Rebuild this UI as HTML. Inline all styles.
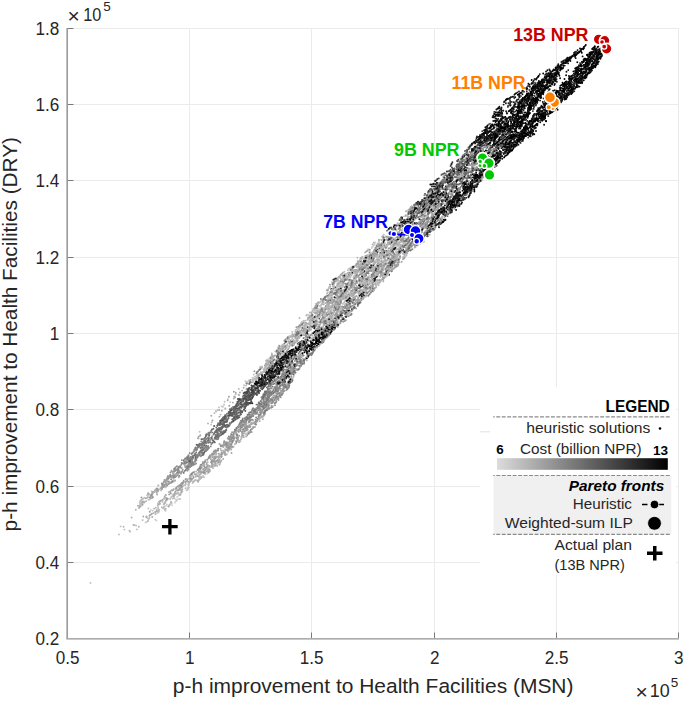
<!DOCTYPE html><html><head><meta charset="utf-8"><style>html,body{margin:0;padding:0;background:#fff;}svg{display:block} text{font-family:'Liberation Sans',sans-serif}</style></head><body>
<svg width="685" height="701" viewBox="0 0 685 701">
<rect width="685" height="701" fill="#fff"/>
<path d="M189.5 28V638M311.5 28V638M434.5 28V638M556.5 28V638M678.5 28V638M68 28.5H678M68 104.5H678M68 180.5H678M68 257.5H678M68 333.5H678M68 409.5H678M68 486.5H678M68 562.5H678" stroke="#ebebeb" stroke-width="1" fill="none"/>
<defs><filter id="bl" x="0" y="0" width="685" height="701" filterUnits="userSpaceOnUse"><feGaussianBlur stdDeviation="0.45"/></filter></defs><g stroke-width="1.9" stroke-linecap="round" fill="none" filter="url(#bl)"><path d="M174.9 502.8h0M177.2 499.8h0M391.2 247.9h0M316.2 317.0h0" stroke="#d8d8d8"/>
<path d="M202.7 477.1h0M373.0 246.6h0M268.6 359.2h0M396.6 253.5h0M379.0 241.7h0M337.9 305.0h0M352.4 266.4h0M205.0 469.6h0M348.4 290.5h0M223.7 450.6h0M170.0 499.2h0M299.2 327.9h0M164.2 507.4h0M349.0 289.1h0M355.2 275.1h0M352.2 273.8h0M258.5 374.8h0M367.7 278.3h0M266.0 360.5h0M314.8 320.0h0M378.2 258.9h0M373.4 253.4h0M351.6 267.1h0M277.6 353.1h0M268.0 367.1h0M374.7 244.3h0M386.4 255.2h0M312.9 321.9h0M152.2 516.8h0M338.4 290.8h0M313.9 320.3h0M310.6 321.1h0M306.3 328.7h0M291.4 342.0h0M164.7 506.3h0M172.1 505.2h0M383.3 245.0h0M376.4 245.5h0" stroke="#cccccc"/>
<path d="M312.7 320.8h0M344.8 307.2h0M335.9 297.8h0M147.9 521.0h0M152.7 497.1h0M353.1 287.4h0M377.2 260.0h0M310.3 322.5h0M402.6 248.6h0M328.0 304.5h0M392.1 262.2h0M292.5 355.1h0M345.0 295.6h0M330.2 310.7h0M351.4 280.1h0M424.3 213.7h0M407.8 240.4h0M324.0 319.4h0M376.5 276.9h0M384.0 276.7h0M378.3 259.6h0M367.0 282.1h0M354.0 278.6h0M135.0 525.3h0M262.4 372.6h0M323.5 312.4h0M375.5 261.8h0M289.6 346.7h0M417.1 244.5h0M382.2 267.3h0M374.5 268.3h0M395.6 257.8h0M393.9 264.3h0M317.3 323.6h0M324.5 308.2h0M396.6 253.8h0M336.0 324.7h0M330.6 298.3h0M325.6 314.6h0M356.9 282.9h0M339.1 297.2h0M280.9 370.9h0M276.5 352.0h0M364.9 252.6h0M351.1 275.5h0M350.8 288.5h0M420.2 243.7h0M278.5 371.4h0M380.1 257.3h0M378.8 282.7h0M279.6 346.2h0M282.0 345.3h0M413.6 224.3h0M321.9 303.5h0M266.6 366.6h0M341.5 291.7h0M331.0 314.7h0M294.9 354.4h0M404.4 227.2h0M146.6 522.1h0M363.9 283.6h0M152.7 510.6h0M296.9 329.2h0M368.1 277.5h0M364.7 281.1h0M359.6 291.8h0M396.4 241.0h0M388.6 251.7h0M347.3 279.0h0M324.4 315.5h0M334.6 278.7h0M384.5 237.9h0M155.3 490.9h0M286.9 338.7h0M376.9 284.3h0M267.2 368.4h0M380.6 256.2h0M359.4 264.2h0M165.2 509.3h0M203.2 469.2h0M347.1 294.6h0M388.8 237.9h0M347.5 273.6h0M386.3 255.5h0M382.9 247.5h0M294.4 350.1h0M188.6 485.6h0M381.3 264.0h0M344.4 306.5h0M382.4 245.7h0M200.2 435.8h0M394.5 263.7h0M377.1 244.5h0M342.3 307.0h0M140.9 504.3h0M390.6 244.1h0M362.6 264.6h0M219.0 407.5h0M406.7 230.4h0M322.6 316.7h0M192.6 483.1h0M290.7 336.0h0M378.0 255.0h0M335.9 281.7h0M308.4 333.9h0M259.8 374.2h0M412.4 231.4h0M307.3 338.0h0M404.4 254.5h0M430.2 207.0h0M373.2 273.1h0M200.0 474.2h0M157.9 490.6h0M299.2 334.0h0M334.7 288.0h0M330.4 324.1h0M426.4 223.7h0M306.1 327.3h0M156.6 490.9h0M173.4 496.1h0M267.4 362.0h0M299.5 325.0h0M354.1 286.1h0M305.3 328.6h0M407.0 251.3h0M384.3 263.5h0M350.6 277.0h0M390.2 233.8h0M386.0 239.8h0M351.0 287.6h0M342.5 280.2h0M355.5 293.2h0M365.0 276.4h0M180.5 494.0h0M329.6 318.9h0M208.7 469.2h0M432.3 225.1h0M328.8 307.3h0M431.5 226.6h0M397.0 255.0h0M314.7 308.2h0M328.0 318.8h0M303.7 321.1h0M356.2 287.5h0M348.3 302.3h0M270.0 361.0h0M399.2 251.1h0M389.4 255.7h0M419.2 223.5h0M329.7 325.0h0M393.2 260.9h0M268.7 366.7h0M391.9 235.6h0M410.6 222.6h0M388.7 258.5h0M392.7 244.5h0M384.1 243.8h0M202.3 477.1h0M379.6 256.9h0M209.5 467.6h0M309.8 318.8h0M130.2 531.7h0M323.0 322.1h0M338.0 280.2h0M377.1 276.1h0M350.6 281.0h0M300.9 325.6h0M359.1 279.8h0M225.2 453.8h0M342.5 279.6h0M221.2 457.0h0M383.5 262.5h0M381.1 259.1h0M389.1 236.9h0M278.5 348.8h0M297.3 330.8h0M331.1 302.4h0M366.6 268.2h0M343.2 290.2h0M396.6 256.6h0M272.6 358.7h0M391.5 262.9h0" stroke="#c0c0c0"/>
<path d="M416.4 239.2h0M350.3 310.9h0M286.1 360.4h0M316.3 340.0h0M270.4 358.8h0M195.2 480.0h0M305.4 326.4h0M161.6 489.0h0M326.7 319.3h0M392.7 237.2h0M361.7 283.3h0M390.5 258.1h0M279.3 374.4h0M406.9 248.2h0M321.8 332.1h0M354.7 266.4h0M319.5 332.3h0M395.6 244.5h0M309.2 318.1h0M361.0 283.8h0M358.2 270.2h0M323.5 323.8h0M369.2 250.4h0M155.2 511.6h0M348.7 272.4h0M287.5 338.2h0M380.5 281.7h0M300.9 335.2h0M309.2 329.2h0M319.7 336.5h0M370.0 275.9h0M411.6 237.3h0M180.9 490.1h0M390.2 258.0h0M155.9 507.8h0M142.2 502.7h0M372.8 290.9h0M265.3 367.3h0M305.6 339.8h0M234.0 439.1h0M349.4 276.7h0M380.7 252.9h0M349.0 285.6h0M383.4 239.3h0M196.3 471.6h0M365.5 267.5h0M371.7 269.8h0M345.3 295.9h0M143.0 498.8h0M168.8 492.1h0M384.2 247.0h0M335.2 328.2h0M412.4 240.7h0M179.0 487.7h0M282.0 369.7h0M451.6 211.3h0M417.8 237.4h0M409.8 243.7h0M397.8 241.5h0M190.5 481.2h0M301.2 330.8h0M250.4 424.7h0M397.9 238.8h0M349.3 313.3h0M172.6 490.6h0M375.4 273.9h0M434.3 213.5h0M364.0 274.7h0M259.7 374.4h0M362.5 256.7h0M351.8 274.8h0M410.7 238.3h0M188.9 484.2h0M341.6 280.4h0M354.9 278.4h0M281.8 370.1h0M353.3 267.8h0M304.2 330.5h0M312.5 333.3h0M181.9 487.6h0M308.8 329.6h0M151.5 513.7h0M292.1 337.9h0M322.1 312.1h0M409.5 219.8h0M306.0 322.6h0M394.4 233.4h0M365.3 283.3h0M280.4 354.6h0M342.4 279.5h0M277.9 375.0h0M397.1 239.4h0M327.5 302.2h0M383.2 280.2h0M164.9 502.8h0M250.2 382.1h0M257.4 377.4h0M360.3 268.4h0M328.3 297.3h0M373.1 285.3h0M275.6 376.7h0M323.2 317.4h0M391.4 233.9h0M310.4 320.2h0M360.8 268.3h0M341.5 280.1h0M353.0 293.1h0M264.8 368.8h0M194.4 471.8h0M363.1 277.0h0M362.1 282.2h0M284.6 381.7h0M340.0 281.9h0M324.8 328.5h0M346.8 314.7h0M375.5 261.7h0M282.2 346.4h0M469.8 168.6h0M387.4 253.4h0M340.6 286.0h0M293.6 357.7h0M210.3 466.5h0M292.5 343.0h0M330.2 330.3h0M300.8 363.6h0M344.1 278.4h0M318.8 303.0h0M203.8 472.1h0M453.7 190.4h0M385.4 260.4h0M362.1 271.6h0M332.0 295.5h0M327.2 299.9h0M159.1 501.9h0M346.1 286.8h0M345.9 311.5h0M451.0 193.2h0M280.3 351.5h0M338.4 299.8h0M248.2 432.6h0M318.6 324.9h0M216.9 456.8h0M319.7 311.5h0M199.8 474.6h0M348.6 295.1h0M215.5 462.8h0M441.9 219.9h0M177.8 489.8h0M214.4 454.6h0M316.1 303.8h0M300.0 351.3h0M328.1 303.3h0M161.1 490.4h0M205.0 473.6h0M336.0 305.7h0M339.0 277.0h0M176.9 489.9h0M341.4 287.0h0M410.7 218.4h0M341.5 297.8h0M393.1 253.4h0M152.4 517.0h0M339.5 306.9h0M314.7 332.7h0M423.1 215.7h0M151.8 491.5h0M385.4 251.4h0M332.1 289.6h0M201.1 473.7h0M317.5 313.3h0M366.8 267.6h0M421.5 224.5h0M358.5 266.1h0M479.8 165.0h0M377.8 252.1h0M390.7 267.1h0M386.3 254.5h0M241.9 436.2h0M346.0 314.8h0M338.1 302.7h0M292.1 336.4h0M400.8 245.7h0M358.2 276.9h0M318.1 308.9h0M404.3 246.0h0M182.3 491.6h0M339.6 288.6h0M173.9 494.3h0M337.0 280.8h0M356.3 264.0h0M330.8 308.9h0M333.7 310.6h0M306.9 333.6h0M385.5 257.6h0M392.2 229.7h0M357.7 272.3h0M282.5 368.2h0M283.6 367.9h0M373.3 270.7h0M318.0 310.6h0M404.0 258.3h0M159.8 503.5h0M357.0 271.8h0M254.9 378.6h0M425.5 224.4h0M157.7 510.9h0M337.5 318.4h0M325.9 307.8h0M338.8 284.6h0M407.2 230.2h0M311.5 319.2h0M295.7 356.6h0M418.8 242.6h0M347.4 285.5h0M332.6 316.4h0M357.2 273.6h0M213.4 464.6h0M359.0 269.1h0M342.2 295.4h0M324.9 316.4h0M411.7 206.2h0M334.5 306.3h0M353.3 292.2h0M316.8 339.0h0M367.3 250.7h0M372.4 279.8h0M378.0 269.9h0M305.9 326.3h0M383.1 267.0h0M387.9 244.7h0M366.9 289.1h0M387.8 254.8h0M288.5 370.8h0M207.8 462.1h0M219.9 456.0h0M348.6 293.5h0M397.7 259.7h0M372.4 283.2h0M334.0 329.3h0M356.8 267.3h0M275.3 351.4h0" stroke="#b4b4b4"/>
<path d="M316.9 333.3h0M414.9 227.8h0M325.8 328.3h0M395.0 235.6h0M237.3 441.1h0M258.2 375.4h0M343.9 292.0h0M371.2 282.9h0M388.1 272.5h0M424.8 232.5h0M354.8 307.1h0M363.3 294.6h0M324.8 312.2h0M341.6 285.9h0M294.9 365.7h0M200.2 435.3h0M177.1 486.7h0M210.4 457.4h0M330.1 286.5h0M424.3 223.7h0M324.5 321.2h0M391.3 269.8h0M461.0 174.9h0M198.2 480.8h0M419.4 234.2h0M427.3 225.2h0M206.7 463.3h0M435.0 202.8h0M394.2 247.4h0M353.5 271.7h0M473.9 186.6h0M246.9 435.2h0M337.2 314.2h0M333.4 292.9h0M251.8 432.1h0M338.2 293.0h0M394.3 253.4h0M403.4 231.1h0M355.6 288.7h0M259.2 418.2h0M318.5 331.0h0M334.2 283.7h0M407.2 246.9h0M415.2 242.0h0M395.4 258.7h0M311.4 315.8h0M212.0 465.0h0M176.4 488.4h0M376.9 274.3h0M328.7 321.4h0M359.0 270.1h0M208.3 467.4h0M438.5 207.5h0M256.1 380.8h0M389.2 255.7h0M316.6 321.8h0M320.2 334.9h0M237.6 435.0h0M381.4 275.4h0M331.4 327.3h0M304.9 345.6h0M366.9 265.7h0M315.5 323.1h0M302.6 340.7h0M172.4 490.2h0M344.3 291.7h0M435.0 228.8h0M277.4 390.8h0M324.4 320.6h0M335.3 281.2h0M458.5 178.7h0M405.9 227.6h0M312.1 317.0h0M312.0 326.7h0M182.2 471.5h0M403.9 228.0h0M355.3 296.8h0M456.6 188.9h0M229.0 439.3h0M317.9 322.3h0M316.9 321.3h0M323.2 318.7h0M321.5 328.8h0M230.0 448.7h0M395.7 240.2h0M388.2 266.3h0M164.5 486.2h0M156.7 492.8h0M221.7 456.0h0M245.4 425.6h0M298.7 363.2h0M214.4 461.3h0M394.5 254.7h0M374.2 264.4h0M460.3 189.4h0M381.1 275.4h0M185.3 467.6h0M216.5 453.8h0M345.9 293.4h0M211.3 415.8h0M347.4 307.4h0M229.9 446.6h0M298.5 369.5h0M321.8 315.0h0M460.3 167.6h0M317.1 326.2h0M283.9 352.8h0M382.4 270.4h0M284.5 377.7h0M415.3 235.8h0M165.8 500.9h0M438.5 214.4h0M393.2 241.4h0M360.1 284.6h0M347.0 284.4h0M242.8 433.6h0M173.8 489.1h0M365.2 296.4h0M357.2 282.7h0M192.1 474.9h0M300.1 330.7h0M402.4 226.6h0M375.6 267.5h0M423.8 218.1h0M268.8 402.8h0M435.1 218.6h0M296.7 356.3h0M396.2 256.0h0M288.2 386.0h0M340.8 316.5h0M337.1 312.9h0M353.3 286.9h0M363.5 268.9h0M437.8 215.4h0M279.8 380.8h0M433.6 208.0h0M193.6 476.3h0M401.7 261.7h0M147.4 495.4h0M354.6 285.0h0M312.1 338.5h0M302.7 348.4h0M439.3 196.0h0M224.1 444.7h0M408.3 239.3h0M284.4 390.8h0M365.7 252.1h0M326.5 325.6h0M374.2 272.0h0M418.8 234.9h0M430.6 228.7h0M361.5 296.1h0M315.9 332.6h0M166.5 483.9h0M349.1 285.1h0M167.0 499.7h0M379.9 272.3h0M236.8 433.8h0M390.0 259.5h0M463.9 178.3h0M434.0 229.4h0M316.9 308.4h0M206.5 464.5h0M344.0 291.0h0M140.5 506.4h0M307.9 318.5h0M162.7 484.0h0M318.5 302.4h0M352.3 272.8h0M226.2 446.5h0M399.6 253.6h0M479.3 160.9h0M367.2 255.6h0M318.5 330.8h0M227.5 444.6h0M293.0 342.2h0M428.0 231.9h0M319.1 326.6h0M421.9 213.9h0M289.8 341.4h0M358.0 262.5h0M182.4 482.7h0M447.1 195.5h0M378.2 280.4h0M461.6 173.4h0M264.5 371.7h0M250.7 380.0h0M290.8 371.1h0M314.1 312.5h0M316.6 319.1h0M247.3 383.5h0M325.3 314.6h0M371.1 287.4h0M366.5 282.2h0M321.7 304.5h0M449.2 189.3h0M354.1 294.2h0M216.2 460.9h0M289.2 346.9h0M272.1 400.6h0M260.9 372.3h0M274.9 396.2h0M322.5 334.4h0M413.9 244.8h0M261.8 367.2h0M408.1 247.9h0M351.6 270.5h0M146.4 517.2h0M445.3 191.5h0M343.1 310.0h0M212.5 466.6h0M348.9 303.8h0M309.5 320.6h0M306.7 325.5h0M207.4 468.1h0M211.0 462.1h0M352.7 297.9h0M327.7 336.8h0M289.9 363.2h0M438.5 196.6h0M438.9 206.5h0M330.9 290.7h0M394.1 260.7h0M337.8 279.0h0M282.8 374.3h0M365.7 295.8h0M264.2 415.0h0M330.2 302.1h0M199.4 475.0h0M436.4 201.8h0M300.8 361.7h0M345.5 312.8h0M293.3 344.3h0M372.4 286.2h0M286.5 375.8h0M354.9 289.2h0M347.0 305.7h0M437.7 220.4h0M295.8 359.1h0M330.2 307.0h0M398.6 234.9h0M164.7 502.5h0M486.9 172.7h0M377.3 279.8h0M289.5 364.0h0M211.8 454.9h0M394.5 258.7h0M223.2 446.7h0M310.1 321.0h0M256.5 378.7h0M299.1 336.6h0M300.0 367.2h0M390.9 253.1h0M182.2 483.1h0M294.1 364.7h0M283.1 347.5h0M346.6 303.6h0M317.5 331.4h0M355.0 296.5h0M297.5 330.9h0M363.3 294.4h0M396.1 261.2h0" stroke="#a8a8a8"/>
<path d="M390.5 237.4h0M316.4 329.3h0M452.3 172.0h0M216.5 457.2h0M331.6 330.7h0M343.1 312.9h0M468.3 160.2h0M150.5 496.1h0M380.5 276.5h0M142.6 504.6h0M365.4 255.9h0M439.4 206.4h0M449.3 186.8h0M373.5 288.6h0M244.1 424.7h0M439.7 190.3h0M299.6 362.3h0M182.0 471.4h0M452.1 195.9h0M459.4 177.9h0M151.4 495.4h0M270.4 401.6h0M228.9 396.7h0M422.9 242.0h0M241.1 422.8h0M393.0 241.7h0M351.1 306.5h0M488.9 159.7h0M398.6 254.1h0M342.6 308.5h0M174.8 476.3h0M392.3 269.4h0M445.8 190.5h0M266.5 391.4h0M455.1 188.0h0M374.9 279.8h0M454.8 181.4h0M425.6 232.4h0M200.0 472.0h0M274.5 380.8h0M220.5 455.1h0M222.6 453.8h0M393.9 227.9h0M413.2 220.0h0M392.5 258.6h0M422.1 221.6h0M329.0 335.4h0M230.2 445.6h0M204.8 445.1h0M382.1 279.2h0M445.2 197.0h0M356.9 302.6h0M476.1 153.1h0M212.2 463.0h0M363.4 298.7h0M335.1 324.4h0M383.4 242.9h0M198.8 468.5h0M369.7 257.9h0M398.5 228.9h0M152.8 492.5h0M264.1 412.4h0M148.0 493.2h0M268.4 408.1h0M215.8 451.7h0M191.0 459.8h0M208.9 470.9h0M400.4 225.7h0M376.4 276.5h0M464.1 159.4h0M201.2 449.8h0M169.0 481.5h0M337.5 317.0h0M414.3 222.6h0M255.5 411.3h0M353.7 306.4h0M411.7 242.2h0M244.1 433.1h0M247.5 427.0h0M462.6 163.9h0M202.4 448.6h0M214.8 461.1h0M349.4 305.6h0M372.0 287.1h0M240.2 431.0h0M474.0 167.1h0M421.3 237.1h0M363.7 275.6h0M369.4 291.0h0M168.0 481.7h0M336.4 300.9h0M316.5 316.6h0M460.0 178.8h0M277.8 358.7h0M334.7 315.5h0M321.8 335.2h0M421.7 221.6h0M472.3 156.6h0M246.0 424.6h0M409.3 210.7h0M371.0 285.8h0M260.4 406.4h0M201.3 467.8h0M264.2 408.4h0M366.3 264.3h0M438.7 191.7h0M230.1 448.0h0M249.8 417.8h0M337.1 320.4h0M420.6 221.0h0M352.3 302.1h0M167.0 478.4h0M436.0 217.4h0M283.9 350.3h0M248.7 427.1h0M266.6 398.0h0M450.9 174.1h0M243.1 431.4h0M247.7 419.4h0M407.8 248.7h0M370.2 289.9h0M209.5 469.5h0M399.1 232.0h0M226.4 444.9h0M354.8 303.8h0M435.7 227.1h0M309.1 317.5h0M415.1 207.5h0M481.5 180.7h0M289.2 364.5h0M349.3 307.9h0M359.0 261.1h0M188.6 481.8h0M174.4 469.5h0M244.7 424.3h0M242.2 429.6h0M397.7 265.7h0M256.3 410.1h0M428.0 211.6h0M354.9 298.2h0M261.7 412.9h0M438.5 214.9h0M281.7 391.3h0M230.6 436.8h0M280.2 390.1h0M226.7 443.9h0M307.9 334.4h0M261.6 416.9h0M247.0 435.3h0M238.1 427.0h0M212.4 460.9h0M374.0 280.5h0M228.2 438.8h0M292.2 340.6h0M454.4 208.9h0M239.9 429.8h0M220.6 445.7h0M291.9 370.6h0M440.3 198.4h0M230.7 439.6h0M364.7 274.9h0M213.1 454.3h0M436.1 215.6h0" stroke="#9c9c9c"/>
<path d="M360.0 277.7h0M253.1 414.4h0M331.4 298.1h0M199.3 445.2h0M344.8 321.0h0M288.3 341.7h0M277.2 389.0h0M199.8 467.1h0M244.3 421.1h0M356.9 290.0h0M180.4 467.6h0M416.1 241.5h0M358.8 302.3h0M178.1 468.6h0M275.8 396.4h0M250.4 420.4h0M430.2 221.6h0M365.2 265.1h0M352.6 309.1h0M267.7 389.6h0M274.7 392.0h0M276.8 379.7h0M300.9 366.0h0M457.8 190.9h0M205.3 440.7h0M383.5 257.4h0M326.0 322.9h0M293.0 339.6h0M284.9 362.6h0M313.5 351.6h0M393.2 252.7h0M174.8 471.1h0M448.6 193.2h0M221.2 446.3h0M439.5 186.5h0M345.6 291.5h0M473.4 162.3h0M172.1 475.4h0M166.4 498.2h0M286.6 360.4h0M322.3 308.7h0M342.7 312.9h0M258.2 410.3h0M196.4 460.4h0M337.3 311.1h0M196.3 450.6h0M177.4 470.3h0M443.8 191.9h0M360.1 301.0h0M191.8 465.8h0M233.6 435.0h0M350.0 301.5h0M263.1 406.9h0M266.8 401.4h0M427.0 227.3h0M192.9 463.5h0M394.1 243.9h0M271.7 381.1h0M201.6 467.2h0M423.2 226.5h0M192.7 463.9h0M271.5 393.5h0M200.9 456.2h0M432.1 194.9h0M293.8 343.2h0M429.8 196.6h0M238.2 437.6h0M264.0 405.0h0M252.0 423.7h0M288.9 358.0h0M276.3 390.1h0M260.3 410.4h0M245.0 418.2h0M308.8 353.5h0M211.8 437.7h0M268.7 396.8h0M257.7 406.9h0M288.3 385.3h0M427.6 214.9h0M297.2 359.9h0M451.4 173.2h0M188.8 467.6h0M451.4 184.3h0M179.4 472.6h0M261.0 404.2h0M238.2 431.0h0M277.0 387.1h0M232.0 442.4h0M392.0 242.4h0M336.5 318.7h0M259.2 414.9h0M411.4 227.8h0M261.6 411.8h0M268.7 407.0h0M206.7 467.6h0M298.3 332.1h0M266.0 402.4h0M406.1 241.4h0M245.9 430.6h0M300.5 363.9h0M173.1 473.6h0M228.1 443.6h0M349.5 307.7h0M466.7 157.4h0M258.1 407.6h0M198.6 446.4h0M473.4 170.4h0M246.7 428.8h0M410.7 229.1h0M470.8 156.9h0M382.8 252.9h0M290.0 374.5h0M184.6 463.5h0M166.1 480.7h0M152.1 494.6h0M349.8 307.4h0M257.1 408.7h0M277.3 394.4h0M329.5 322.4h0M167.3 485.3h0M446.2 191.3h0M377.4 267.3h0M348.1 309.9h0M339.5 288.4h0M205.2 470.1h0M231.7 438.5h0M419.0 242.0h0M337.0 290.7h0M485.8 147.3h0M271.5 388.4h0M459.0 190.1h0M396.0 240.3h0M439.6 189.0h0M162.5 486.1h0M457.5 190.1h0M267.8 362.4h0M206.5 438.8h0M326.6 315.6h0M196.0 456.5h0M306.1 358.4h0M275.6 398.1h0M353.1 285.2h0M249.9 427.1h0M275.6 387.7h0M341.4 319.9h0M251.1 415.8h0M265.8 404.1h0M246.6 426.8h0M337.4 305.1h0M236.8 428.4h0M468.8 177.5h0M390.9 260.3h0M434.5 196.3h0M220.9 445.1h0M274.0 381.1h0M219.7 431.6h0M340.7 302.5h0M486.6 148.3h0M366.6 261.7h0M470.9 175.1h0M178.3 473.5h0M445.5 195.0h0M175.3 477.0h0M431.4 195.7h0M337.8 325.2h0M347.1 310.7h0M206.9 450.3h0M394.5 267.7h0M260.4 405.1h0M332.8 320.2h0M474.5 164.9h0M239.9 429.1h0M161.7 487.1h0M289.0 387.2h0M202.2 455.0h0M323.1 326.6h0M327.4 324.8h0M484.3 159.1h0M379.3 272.2h0M261.1 406.8h0" stroke="#909090"/>
<path d="M226.1 427.2h0M278.7 382.8h0M370.9 277.2h0M458.4 177.9h0M378.9 246.1h0M241.0 420.8h0M301.2 365.4h0M192.0 453.1h0M353.3 292.3h0M476.4 167.2h0M161.9 483.5h0M335.3 304.0h0M477.2 150.1h0M414.0 231.9h0M366.4 258.4h0M285.9 339.3h0M450.2 186.3h0M226.2 442.2h0M265.5 401.3h0M304.0 363.7h0M414.0 213.9h0M451.3 197.0h0M415.2 208.9h0M234.6 431.2h0M282.7 373.5h0M372.2 274.5h0M274.5 399.4h0M267.1 398.0h0M366.1 275.5h0M440.2 203.6h0M263.4 399.8h0M422.3 208.7h0M270.0 395.3h0M375.2 249.2h0M394.3 235.7h0M338.2 308.2h0M377.6 260.9h0M278.6 396.9h0M269.7 400.9h0M351.3 282.9h0M334.2 281.8h0M190.5 465.6h0M477.8 164.1h0M199.9 451.4h0M207.7 448.8h0M188.6 461.5h0M289.9 364.0h0M449.4 200.9h0M355.8 290.6h0M264.5 396.9h0M361.2 285.2h0M354.2 266.3h0M187.1 468.8h0M407.6 226.2h0M176.9 466.3h0M278.0 383.9h0M315.8 335.3h0M386.3 267.9h0M403.5 251.7h0M285.2 386.0h0M348.5 278.0h0M290.1 373.6h0M241.9 425.3h0M193.4 455.7h0M384.2 244.9h0M467.9 153.1h0M420.9 226.1h0M426.0 215.6h0M202.7 449.1h0M276.1 388.2h0M487.1 147.6h0M237.2 401.9h0M376.4 248.0h0M252.5 409.2h0M217.7 429.2h0M337.3 310.1h0M335.3 301.6h0M245.5 427.8h0M199.1 455.1h0M436.1 207.3h0M222.0 423.8h0M284.1 384.5h0M476.2 150.9h0M409.2 222.8h0M328.1 325.4h0M343.3 277.6h0M373.9 252.7h0M365.8 285.9h0M420.0 224.1h0M403.7 233.4h0M412.1 224.0h0M424.3 225.6h0M305.4 333.7h0M240.9 425.1h0M435.0 208.4h0M194.9 450.2h0M286.6 370.0h0M391.5 250.9h0M284.8 383.9h0M234.1 432.3h0M478.8 166.2h0M207.7 448.0h0M270.4 391.0h0M335.6 280.2h0M319.7 337.4h0M360.0 266.8h0M459.4 176.8h0M376.0 287.3h0M282.9 391.8h0M341.9 299.4h0M395.6 241.5h0M335.0 318.4h0M195.0 453.5h0M259.3 406.0h0M197.2 445.0h0M218.2 438.7h0M483.3 148.1h0M272.8 393.5h0M264.6 412.0h0M391.3 236.4h0M395.9 234.3h0M304.3 325.7h0M229.9 424.8h0M232.0 435.7h0M298.4 326.7h0M256.1 417.5h0M394.8 226.2h0M328.3 327.3h0M252.0 410.5h0M266.5 402.8h0M384.2 264.8h0M334.7 304.7h0M492.1 153.3h0M258.5 414.4h0M291.2 372.6h0" stroke="#848484"/>
<path d="M456.4 174.0h0M418.6 223.8h0M264.3 401.4h0M256.5 404.6h0M400.1 218.9h0M379.1 256.7h0M337.2 295.6h0M225.8 426.3h0M252.7 379.5h0M304.2 362.3h0M200.7 444.1h0M266.6 409.8h0M360.1 285.4h0M492.5 147.4h0M399.5 235.7h0M404.1 232.1h0M416.9 229.2h0M432.2 215.5h0M378.7 257.6h0M204.3 445.4h0M304.9 342.5h0M289.4 376.8h0M296.6 332.4h0M353.5 305.7h0M200.5 447.4h0M329.1 294.8h0M292.8 335.4h0M419.4 209.5h0M305.5 330.8h0M476.2 148.7h0M337.1 315.0h0M307.0 330.0h0M420.1 209.6h0M291.2 379.1h0M220.3 420.9h0M273.0 362.9h0M443.2 179.4h0M411.3 244.7h0M476.1 168.8h0M268.4 404.7h0M288.0 388.3h0M424.6 220.6h0M364.5 267.4h0M382.5 247.3h0M355.5 276.7h0M222.3 427.4h0M270.5 383.8h0M491.3 146.1h0M358.8 299.7h0M326.8 332.0h0M416.3 208.7h0M368.6 271.8h0M303.1 342.6h0M215.3 451.3h0M206.0 449.7h0M216.3 431.5h0M240.5 426.9h0M340.7 295.2h0M327.6 308.1h0M258.2 371.3h0M214.8 437.7h0M417.9 228.1h0M279.1 348.0h0M188.7 465.4h0M413.3 216.0h0M297.5 331.0h0M401.6 216.9h0M283.6 374.5h0M225.2 430.7h0M465.6 182.3h0M267.3 408.5h0M267.4 396.1h0M338.9 310.3h0M379.9 264.2h0M432.0 189.3h0M273.4 356.9h0M330.6 324.1h0M334.1 311.5h0M418.5 212.0h0M249.6 418.6h0M348.5 279.8h0M459.6 165.7h0M266.0 391.5h0M227.1 421.2h0M470.5 171.4h0M429.9 197.1h0M395.4 261.0h0M251.3 412.0h0M393.2 231.2h0M475.2 163.0h0M420.7 208.9h0M234.2 420.6h0M460.6 165.0h0M361.7 258.6h0M289.6 373.0h0M445.3 188.3h0M455.1 176.9h0M294.1 368.0h0M227.1 425.8h0M320.6 336.3h0M435.8 203.8h0M283.3 381.5h0M282.2 367.6h0M435.0 227.3h0M481.1 165.2h0M242.8 400.9h0M478.2 168.3h0M457.4 206.4h0M434.1 228.5h0M484.8 154.7h0M431.9 198.8h0M337.7 309.4h0M351.7 281.8h0M208.4 438.1h0M284.5 343.6h0M323.9 331.9h0M253.1 413.2h0M205.3 447.3h0M408.6 248.5h0M283.3 385.7h0M197.2 449.5h0M185.1 458.4h0M336.7 292.8h0M465.2 172.9h0M320.9 299.0h0M332.2 291.8h0M284.2 381.7h0M341.0 301.0h0M428.5 213.0h0M208.3 446.1h0M389.6 243.7h0M200.0 454.9h0M403.7 220.0h0M326.5 308.9h0M474.7 149.3h0M270.2 386.5h0M222.0 428.1h0M252.5 419.7h0M350.4 283.8h0M342.1 282.5h0M246.1 396.5h0M373.9 290.0h0M221.3 433.5h0M220.7 435.0h0" stroke="#787878"/>
<path d="M346.0 316.8h0M290.7 382.2h0M332.6 312.6h0M427.7 217.4h0M457.1 205.7h0M233.2 409.0h0M320.3 306.3h0M238.1 412.9h0M408.8 219.2h0M469.7 151.8h0M230.7 415.2h0M272.4 386.6h0M239.2 409.9h0M466.4 172.6h0M431.5 193.0h0M337.4 298.8h0M463.1 178.9h0M213.4 440.7h0M368.3 278.7h0M434.0 196.2h0M400.9 217.6h0M237.9 405.5h0M379.1 265.6h0M273.8 364.1h0M214.3 442.0h0M216.2 435.9h0M468.2 171.4h0M221.8 434.2h0M221.0 433.6h0M498.9 147.2h0M345.9 278.0h0M478.7 151.9h0M234.4 413.8h0M209.6 434.1h0M430.0 218.0h0M488.2 152.6h0M225.5 426.5h0M347.2 305.5h0M261.7 404.4h0M207.6 441.3h0M359.4 303.0h0M265.1 393.9h0M220.0 428.3h0M479.9 157.9h0M236.7 406.8h0M218.6 423.6h0M199.5 443.6h0M237.4 418.5h0M242.0 401.5h0M196.6 444.8h0M332.6 326.0h0M331.4 313.9h0M217.8 437.3h0M304.3 360.0h0M219.0 429.4h0M468.6 161.7h0M361.3 294.6h0M300.4 332.1h0M428.4 208.8h0M389.0 265.8h0M252.9 386.4h0M191.3 458.5h0M478.1 153.2h0M228.3 426.4h0M199.0 445.6h0M447.0 202.4h0M456.9 166.2h0M236.1 411.1h0M220.1 434.7h0M496.3 148.4h0M426.2 202.7h0M281.5 382.4h0M230.4 410.2h0M455.2 183.2h0M281.4 346.8h0M386.3 254.9h0M338.9 298.8h0M292.9 372.2h0M196.9 455.8h0M361.8 277.5h0M457.5 175.3h0M265.3 402.1h0M476.5 156.2h0M412.5 241.6h0M392.4 231.8h0M300.9 346.1h0M333.2 294.0h0M330.0 293.7h0M205.0 437.6h0M488.6 151.0h0M372.6 286.8h0M396.4 260.4h0M190.5 459.7h0M272.3 391.5h0M282.8 380.2h0M411.8 226.3h0M398.4 262.1h0M284.6 376.2h0M487.2 154.0h0M465.3 153.6h0M221.8 421.9h0M334.3 293.7h0M498.1 147.9h0M375.0 251.9h0M243.4 421.2h0M452.5 194.7h0M333.9 311.2h0M464.0 176.4h0M268.1 386.7h0M361.2 260.1h0M311.5 326.6h0M375.7 270.8h0M366.2 292.7h0M398.7 228.6h0M491.8 154.0h0M227.8 426.8h0M215.0 437.6h0M373.2 290.9h0M463.2 164.2h0M336.9 307.1h0M275.4 379.9h0M277.4 372.1h0M353.9 281.4h0M385.8 261.3h0M249.7 412.5h0M468.4 196.6h0" stroke="#6c6c6c"/>
<path d="M504.4 133.2h0M465.4 161.4h0M446.9 214.1h0M244.7 399.1h0M443.1 185.1h0M225.3 416.1h0M233.2 421.3h0M204.1 438.7h0M428.8 228.4h0M447.9 201.9h0M454.4 168.5h0M223.6 423.1h0M256.5 373.2h0M298.6 342.9h0M429.4 219.0h0M221.9 428.0h0M409.3 227.3h0M229.7 423.1h0M448.4 213.5h0M428.1 218.0h0M508.5 136.6h0M461.1 171.0h0M264.3 395.2h0M427.6 195.9h0M464.6 154.3h0M239.1 408.2h0M449.6 186.0h0M471.6 149.0h0M293.4 351.0h0M218.4 429.1h0M288.8 383.9h0M223.5 425.6h0M429.9 227.6h0M470.3 191.2h0M422.8 199.8h0M391.7 271.3h0M460.7 163.1h0M230.8 412.8h0M515.8 141.5h0M485.8 143.7h0M240.2 404.4h0M241.5 407.8h0M434.5 226.2h0M423.9 219.4h0M239.3 408.8h0M515.3 135.0h0M254.0 393.7h0M494.0 151.0h0M269.8 393.0h0M222.0 421.5h0M501.8 135.1h0M222.4 426.2h0M227.4 424.8h0M464.1 155.3h0M436.1 188.1h0M228.4 418.3h0M225.4 422.0h0M427.0 204.1h0M389.9 227.8h0M206.4 434.2h0M472.1 164.3h0M232.8 413.2h0M441.4 174.9h0M487.0 142.0h0" stroke="#606060"/>
<path d="M230.4 410.9h0M430.7 189.0h0M244.1 406.7h0M237.4 405.8h0M297.7 343.8h0M418.5 203.0h0M252.4 396.0h0M429.7 189.5h0M466.0 172.9h0M244.2 395.7h0M413.4 210.9h0M230.0 409.1h0M235.9 417.4h0M257.5 392.7h0M229.9 411.5h0M236.9 405.7h0M455.0 186.2h0M206.3 445.9h0M465.0 151.0h0M454.4 184.3h0M493.5 151.4h0M423.5 200.8h0M293.5 352.0h0M496.8 156.1h0M485.9 166.3h0M220.9 428.6h0M459.9 163.0h0M504.0 144.0h0M232.8 412.6h0M474.1 173.9h0M242.6 405.5h0M235.4 416.7h0M242.2 406.0h0M468.6 184.4h0M234.8 416.9h0M433.2 205.9h0M463.3 198.5h0M249.1 396.9h0M484.4 145.0h0M232.9 409.4h0M497.7 152.3h0M463.3 199.6h0M237.9 408.4h0M487.5 130.5h0M447.6 181.3h0M447.1 179.8h0M481.0 173.2h0M502.2 134.1h0M273.4 376.6h0M245.0 404.4h0M459.9 199.0h0M488.7 124.4h0M416.9 215.8h0M279.2 361.8h0M390.4 233.8h0M457.9 184.4h0M233.6 411.8h0M439.1 189.9h0M254.2 392.0h0M450.4 174.2h0M431.0 220.6h0M441.7 209.4h0M425.5 198.8h0M440.5 184.7h0M430.9 227.6h0M222.0 434.1h0M243.4 395.6h0M250.1 396.5h0M422.2 201.2h0M259.0 393.2h0" stroke="#545454"/>
<path d="M280.5 370.4h0M247.7 400.0h0M259.2 386.5h0M451.6 174.8h0M491.6 135.7h0M409.7 212.1h0M280.8 370.4h0M485.2 166.5h0M516.1 135.3h0M554.0 78.4h0M453.3 170.7h0M432.5 196.9h0M263.6 387.1h0M255.0 387.2h0M273.3 377.3h0M486.2 145.5h0M500.9 139.5h0M477.0 145.5h0M253.3 392.0h0M548.2 100.2h0M428.3 191.7h0M482.5 136.8h0M487.6 135.1h0M502.1 130.7h0M278.9 364.2h0M510.6 105.3h0M452.0 177.3h0M464.5 167.9h0M257.4 384.3h0M476.6 186.1h0M490.0 123.7h0M252.4 393.6h0M249.7 402.9h0M278.4 358.5h0M264.5 385.7h0M263.7 384.6h0M282.2 365.4h0M463.2 196.2h0M251.0 398.1h0M255.6 387.9h0M522.4 90.9h0M493.4 133.2h0M450.7 210.3h0M532.0 122.5h0M488.0 140.4h0M293.5 355.0h0M236.6 408.4h0M471.1 152.6h0M273.0 368.6h0M508.2 133.2h0M247.0 392.3h0M502.5 141.0h0M248.6 397.9h0M253.2 396.4h0" stroke="#484848"/>
<path d="M488.3 144.0h0M270.3 381.0h0M530.8 99.0h0M468.3 191.4h0M508.8 135.3h0M281.0 367.1h0M442.9 180.8h0M586.3 76.5h0M260.4 382.4h0M256.3 385.2h0M549.1 83.6h0M283.0 364.4h0M491.6 131.8h0M484.0 136.4h0M542.4 108.0h0M472.9 150.1h0M483.0 137.2h0M461.4 171.0h0M469.3 148.1h0M529.4 89.7h0M451.4 180.1h0M257.3 383.9h0M494.8 132.2h0M291.3 358.3h0M584.8 66.5h0M448.5 176.3h0M494.6 136.9h0M474.1 178.2h0M548.0 86.2h0M449.6 175.4h0M569.5 58.1h0M253.7 385.6h0M456.3 172.3h0M454.6 169.5h0M498.0 160.4h0M443.1 222.0h0M356.9 289.2h0M572.4 82.1h0M518.3 108.8h0M452.7 179.1h0M550.0 99.8h0M454.7 172.9h0M495.8 135.8h0M510.7 140.9h0M496.2 132.8h0M494.1 140.7h0" stroke="#3c3c3c"/>
<path d="M259.8 380.7h0M571.9 84.4h0M373.2 279.5h0M465.1 163.6h0M321.6 339.5h0M501.6 114.9h0M380.5 247.8h0M251.9 390.5h0M551.0 101.6h0M258.5 378.8h0M519.2 134.2h0M285.8 361.4h0M511.7 138.8h0M538.2 110.5h0M511.9 109.8h0M437.4 179.0h0M458.3 159.7h0M264.6 381.4h0M598.2 49.9h0M534.3 127.1h0M260.1 382.4h0M287.5 367.0h0M588.4 63.0h0M356.1 270.7h0M513.2 108.8h0M378.7 249.2h0M468.7 189.1h0M451.0 174.7h0M485.1 130.5h0M577.8 72.7h0M552.5 106.3h0M400.9 251.8h0M392.6 233.3h0M510.3 133.0h0M559.7 95.2h0M248.4 403.4h0M466.2 162.8h0M515.4 117.3h0M229.6 414.2h0M479.5 139.1h0M269.0 382.3h0M273.4 375.0h0M493.3 137.6h0M329.6 318.0h0M255.9 383.7h0M391.0 227.4h0M521.6 133.1h0M581.8 72.8h0M331.0 328.2h0M261.4 379.5h0M560.9 102.3h0M277.7 369.8h0M377.5 251.6h0M573.1 84.1h0M338.7 318.5h0" stroke="#303030"/>
<path d="M529.5 99.2h0M561.7 99.2h0M596.6 48.4h0M375.4 254.3h0M512.5 108.1h0M544.9 79.5h0M410.2 224.1h0M410.8 222.5h0M300.1 333.4h0M442.1 187.9h0M588.2 65.1h0M441.0 186.4h0M448.7 201.8h0M374.7 255.6h0M466.3 189.9h0M463.7 193.4h0M466.6 194.5h0M512.3 146.0h0M547.9 104.7h0M406.6 239.3h0M465.6 190.2h0M538.2 76.7h0M262.3 381.5h0M545.4 78.1h0M414.4 230.0h0M413.7 217.6h0M532.9 111.1h0M561.2 102.2h0M278.0 368.9h0M361.1 285.0h0M543.3 94.2h0M492.2 147.2h0M517.5 119.1h0M564.7 60.1h0M515.3 106.5h0M530.9 95.6h0M391.2 263.9h0M307.8 327.0h0M517.1 120.4h0M457.0 169.3h0M528.2 114.9h0M530.1 109.9h0M390.6 236.9h0M547.1 86.6h0M486.2 129.9h0M490.0 145.2h0M521.5 106.7h0M546.3 114.3h0M252.3 403.2h0M315.6 326.0h0M493.8 144.1h0M363.9 262.8h0M263.4 385.2h0M354.5 307.5h0M520.1 118.3h0M429.0 205.8h0M550.6 77.9h0M337.2 303.3h0M329.8 331.9h0" stroke="#242424"/>
<path d="M517.7 119.6h0M589.9 62.9h0M495.6 115.2h0M505.2 119.8h0M427.2 236.1h0M470.2 187.5h0M541.9 91.8h0M389.1 274.7h0M558.4 103.2h0M499.3 161.4h0M517.3 133.5h0M362.5 279.0h0M322.7 336.1h0M432.9 192.8h0M413.8 211.2h0M488.9 167.0h0M513.2 125.3h0M463.7 193.1h0M331.1 317.2h0M291.3 356.1h0M508.7 128.7h0M532.8 86.7h0M488.9 128.2h0M498.5 155.6h0M501.0 144.4h0M531.4 132.2h0M519.0 91.4h0M534.5 119.6h0M597.9 64.1h0M494.3 111.9h0M455.6 183.2h0M538.1 86.7h0M433.5 219.4h0M419.6 234.4h0M285.6 372.9h0M455.1 199.8h0M363.0 295.4h0M419.4 231.1h0M521.6 105.6h0M499.0 128.2h0M434.0 184.4h0M532.3 132.1h0M557.7 109.7h0M594.8 61.9h0M516.1 141.9h0M556.5 79.2h0M500.7 119.7h0M453.0 169.0h0M438.6 211.3h0M282.2 357.5h0M479.9 141.8h0M261.7 378.0h0M531.1 93.8h0M491.4 133.0h0M515.1 144.9h0M581.5 79.6h0M507.5 123.6h0M418.6 235.7h0M386.4 274.3h0M543.7 109.2h0M585.6 67.2h0M506.3 119.3h0M383.3 274.4h0M449.9 177.3h0M286.1 362.0h0M556.8 69.5h0M466.4 191.8h0M535.6 120.6h0M461.1 196.3h0M476.8 141.3h0M476.1 142.2h0M464.6 182.1h0M277.0 368.7h0M458.3 202.5h0M382.5 243.3h0M273.8 377.6h0M430.9 205.1h0M483.9 133.2h0M560.1 89.6h0M505.7 131.8h0M493.1 133.1h0M501.5 113.3h0M433.5 229.8h0M484.5 151.7h0M400.9 251.0h0M443.7 207.5h0M601.9 54.1h0M444.6 194.9h0M483.9 167.7h0M402.9 225.9h0M521.3 134.8h0M268.0 379.1h0M527.7 104.8h0M585.7 66.8h0M514.5 126.0h0M464.1 194.3h0M467.8 190.8h0M560.1 70.6h0M437.3 193.1h0M418.7 235.1h0M529.6 132.5h0M279.1 360.7h0M281.0 366.9h0M271.5 377.3h0M259.6 383.3h0M456.7 198.1h0M518.8 135.6h0M455.9 197.1h0M500.7 152.2h0M273.4 365.4h0M278.0 370.2h0M482.9 171.0h0M460.3 179.6h0M438.6 198.1h0M303.3 348.2h0M429.7 231.2h0M516.0 135.8h0M428.1 231.8h0M276.9 361.8h0M542.8 110.7h0M440.8 209.0h0M502.7 134.6h0M521.9 111.9h0M559.1 90.9h0M481.3 168.0h0M420.8 233.8h0M448.8 203.2h0M593.6 62.7h0M494.9 120.8h0M428.9 231.8h0M536.3 87.7h0M427.1 228.6h0M473.9 160.4h0M484.6 138.4h0M464.9 187.8h0M476.1 181.4h0M557.6 65.6h0M598.2 52.4h0M557.8 103.1h0M287.8 362.3h0M459.6 180.5h0M556.4 72.1h0M365.5 280.9h0M521.0 103.0h0M349.4 310.4h0M458.7 193.1h0M480.7 172.8h0M466.9 159.9h0M480.6 140.8h0M516.7 134.7h0M282.4 363.1h0M479.5 158.5h0M471.3 175.3h0M466.9 154.8h0M264.3 384.3h0M508.5 146.5h0M479.5 173.2h0M263.2 383.4h0M594.1 61.6h0M482.5 141.4h0M436.4 216.7h0M536.8 113.6h0M461.3 159.2h0M456.7 201.0h0M497.5 112.4h0M550.7 80.0h0M411.6 215.6h0M493.9 142.9h0M298.8 353.5h0M482.8 137.8h0" stroke="#181818"/>
<path d="M284.3 366.3h0M593.0 56.9h0M362.2 286.1h0M570.4 61.0h0M439.5 212.7h0M317.2 335.9h0M322.5 335.4h0M587.2 62.7h0M497.3 129.0h0M511.2 138.4h0M530.0 94.1h0M275.9 374.8h0M528.8 132.4h0M465.9 187.5h0M584.6 73.1h0M482.6 136.9h0M482.5 134.0h0M515.8 131.0h0M309.1 350.8h0M503.1 110.6h0M307.4 352.8h0M576.9 75.2h0M531.8 124.3h0M307.7 347.1h0M574.0 85.0h0M413.0 231.7h0M471.8 185.7h0M493.7 151.3h0M563.3 90.4h0M470.5 182.8h0M530.9 92.9h0M493.2 117.4h0M363.1 262.4h0M525.8 133.5h0M582.1 75.5h0M581.8 72.2h0M519.4 141.8h0M264.8 385.6h0M538.9 93.9h0M528.5 105.5h0M530.4 134.6h0M327.2 333.8h0M528.1 134.5h0M531.8 106.0h0M458.0 172.3h0M510.6 125.2h0M495.7 158.5h0M542.2 93.6h0M482.3 175.0h0M524.0 136.7h0M567.0 97.3h0M385.4 251.6h0M433.1 201.2h0M530.7 94.8h0M560.5 69.6h0M499.7 120.6h0M549.6 111.2h0M532.8 103.5h0M536.2 92.4h0M536.9 93.2h0M320.2 334.0h0M580.9 75.6h0M560.2 98.4h0M549.5 73.3h0M501.2 118.8h0M557.4 96.6h0M507.7 149.1h0M576.4 80.2h0M417.5 229.5h0M528.3 101.4h0M494.7 139.0h0M489.0 170.1h0M329.0 333.9h0M573.6 87.9h0M400.5 225.1h0M462.4 171.5h0M576.7 83.9h0M564.7 89.8h0M567.7 94.8h0M588.1 65.8h0M510.5 121.0h0M532.0 94.3h0M513.2 137.1h0M288.8 359.1h0M532.1 83.5h0M313.5 344.3h0M424.4 198.3h0M527.2 127.4h0M535.1 86.6h0M335.8 287.4h0M524.3 136.7h0M600.7 50.6h0M542.0 90.7h0M558.8 92.3h0M566.4 96.1h0M593.8 51.4h0M484.1 174.1h0M471.6 191.1h0M546.2 107.4h0M568.3 70.1h0M569.1 58.1h0M459.2 205.2h0M531.5 98.5h0M483.7 169.0h0M543.7 90.1h0M526.9 133.5h0M487.9 137.9h0M338.3 324.7h0M528.5 124.2h0M444.5 211.4h0M502.9 149.4h0M459.6 198.2h0M563.9 96.7h0M541.4 91.9h0M529.9 124.0h0M486.4 129.2h0M563.7 96.5h0M495.4 116.4h0M475.7 161.4h0M532.7 134.7h0M520.1 110.7h0M561.9 96.3h0M283.0 379.6h0M597.0 55.5h0M574.3 86.0h0M502.8 142.9h0M444.9 215.2h0M493.8 141.6h0M580.1 79.2h0M564.6 62.5h0M520.8 134.0h0M496.7 132.9h0M543.0 114.5h0M496.6 148.9h0M495.2 150.9h0M454.1 202.2h0M300.5 346.9h0M582.3 74.1h0M271.8 373.0h0M523.8 118.6h0M515.6 128.9h0M562.8 84.3h0M489.5 164.2h0M584.3 59.6h0M538.2 108.1h0M498.8 131.2h0M290.3 351.7h0M584.7 77.2h0M524.5 133.7h0M415.3 208.5h0M570.3 57.6h0M308.4 330.7h0M548.9 113.9h0M285.2 362.4h0M546.8 84.6h0M520.9 126.8h0M541.6 113.2h0M312.0 345.3h0M282.7 365.2h0M585.6 67.7h0M526.1 131.1h0M554.3 77.9h0M546.8 102.4h0M550.1 74.7h0M488.3 165.3h0M528.0 112.3h0M517.3 107.0h0M536.4 91.1h0M270.6 378.4h0M597.7 57.8h0M563.3 97.1h0M417.1 214.6h0M315.9 341.9h0M432.7 201.3h0M462.4 178.0h0M592.3 48.7h0M501.9 135.9h0M387.7 274.2h0M429.9 227.8h0M563.4 61.9h0M476.5 138.0h0M472.4 168.0h0M578.3 67.9h0M454.7 196.4h0M554.1 101.2h0M550.5 78.1h0M427.8 211.3h0M496.2 153.8h0M548.7 75.8h0M526.0 119.4h0M509.2 151.4h0M279.5 373.1h0M439.7 210.9h0M275.0 372.3h0M542.6 115.2h0M517.7 122.7h0M540.0 92.3h0M576.4 87.0h0M492.2 164.8h0M528.9 105.1h0M441.7 222.9h0M433.9 216.8h0M505.4 117.0h0M486.9 134.7h0M498.9 108.4h0M535.3 87.8h0M440.3 213.4h0M500.4 129.2h0M364.0 295.4h0M454.7 204.0h0M566.1 86.0h0M539.4 110.5h0M533.7 105.3h0M466.0 192.7h0M446.3 211.4h0M564.8 99.5h0M575.1 68.4h0M589.6 52.7h0M544.6 105.4h0M410.7 233.4h0M531.9 126.5h0M465.4 188.2h0M571.5 91.4h0M578.2 86.1h0M551.9 80.9h0M569.3 93.7h0M469.6 195.3h0M391.7 232.6h0M442.4 208.0h0M494.0 156.0h0M518.3 135.9h0M399.9 235.0h0M600.7 50.3h0M316.7 340.6h0M325.0 331.5h0M461.4 203.7h0M438.0 188.6h0M516.4 121.7h0M585.3 72.4h0M481.3 134.6h0M540.7 114.7h0M437.1 217.6h0M339.5 316.7h0M403.2 249.8h0M309.9 346.4h0M514.4 131.6h0M552.5 103.9h0M595.3 67.3h0M527.2 113.2h0M543.3 92.9h0M278.6 356.7h0M571.0 78.9h0M561.2 67.8h0M450.2 179.5h0M586.2 75.6h0M451.3 207.3h0M589.4 63.9h0M498.0 141.7h0M489.5 131.3h0M495.9 154.3h0M547.7 98.9h0M268.8 370.3h0M570.0 76.4h0M489.2 137.2h0M552.1 108.3h0M479.7 145.5h0M508.9 126.1h0M308.8 345.6h0M490.4 148.6h0M479.8 157.0h0M285.7 360.8h0M539.6 117.5h0M490.6 127.7h0M537.2 88.7h0M529.7 122.4h0M288.0 358.1h0M498.3 131.4h0M555.7 77.7h0M263.5 384.1h0M284.9 366.1h0M580.8 83.0h0M579.5 86.6h0M519.2 136.4h0M462.3 182.3h0M520.7 139.5h0M489.4 168.7h0M497.3 149.6h0M594.0 56.3h0M399.5 238.1h0M535.2 88.0h0M406.8 220.7h0M522.5 121.7h0M566.5 71.7h0M585.5 58.6h0M555.3 73.5h0M572.9 86.4h0M447.0 171.5h0M534.1 100.8h0M293.8 355.1h0M567.9 83.7h0M454.0 196.5h0M518.3 120.0h0M280.0 359.6h0M594.7 48.8h0M474.1 162.8h0M472.2 170.4h0M438.7 211.9h0M449.9 176.0h0M589.2 69.4h0M542.4 111.9h0M597.7 47.0h0M304.0 341.6h0M520.4 128.5h0M459.5 206.1h0M494.9 144.7h0M591.9 56.9h0M437.2 193.6h0M444.7 197.6h0M588.6 61.8h0M300.5 347.3h0M523.0 109.1h0M579.7 82.1h0M523.7 108.5h0M408.4 246.1h0M475.6 178.1h0M480.4 175.5h0M268.4 379.8h0M579.6 77.7h0M453.7 202.4h0M293.2 353.0h0M560.8 88.7h0M516.0 116.0h0" stroke="#0c0c0c"/>
<path d="M549.2 78.7h0M528.4 113.9h0M580.0 48.5h0M491.1 126.7h0M540.5 118.6h0M564.7 82.6h0M577.6 82.5h0M531.7 80.0h0M503.4 145.1h0M275.2 364.7h0M532.5 125.1h0M287.9 361.1h0M557.7 102.6h0M526.2 114.5h0M497.9 162.8h0M579.0 83.1h0M560.7 90.4h0M527.2 102.3h0M540.2 111.7h0M507.9 125.2h0M491.1 163.5h0M445.9 186.4h0M575.7 58.1h0M530.2 127.0h0M510.1 103.1h0M554.3 85.1h0M474.1 177.1h0M534.5 100.5h0M444.3 210.0h0M563.2 84.2h0M289.8 357.4h0M539.3 114.1h0M521.9 133.2h0M538.3 90.2h0M576.5 84.7h0M508.9 129.5h0M544.9 90.0h0M578.1 52.5h0M434.7 222.9h0M528.4 93.1h0M541.7 81.2h0M545.1 117.3h0M530.5 91.7h0M519.6 97.3h0M478.1 167.6h0M500.2 112.8h0M528.0 134.9h0M576.5 87.2h0M576.0 72.8h0M588.3 61.2h0M542.5 118.1h0M321.1 336.2h0M482.3 134.1h0M435.0 217.7h0M589.7 72.6h0M544.0 81.0h0M462.9 170.6h0M535.9 99.3h0M494.7 134.9h0M486.3 170.8h0M554.4 110.4h0M552.6 108.4h0M577.7 70.2h0M316.6 339.8h0M371.5 256.6h0M494.1 159.0h0M556.7 73.7h0M322.7 331.9h0M329.7 325.7h0M523.7 119.3h0M496.9 133.6h0M578.6 80.9h0M545.9 121.0h0M579.1 68.4h0M503.9 130.5h0M512.2 137.4h0M295.9 347.2h0M513.1 142.7h0M519.5 126.1h0M304.0 350.1h0M512.2 143.3h0M600.4 48.8h0M552.3 83.8h0M554.9 83.9h0M265.9 384.0h0M519.7 133.9h0M581.9 78.9h0M484.9 156.9h0M323.0 333.7h0M534.3 134.2h0M578.1 72.6h0M516.5 144.4h0M528.5 108.1h0M489.4 161.0h0M455.7 195.6h0M560.5 68.9h0M508.6 151.9h0M365.4 258.9h0M310.2 348.6h0M536.6 124.0h0M526.6 114.4h0M498.3 126.0h0M587.7 69.3h0M575.9 71.7h0M568.2 94.5h0M443.3 210.7h0M504.5 101.4h0M430.3 206.8h0M332.1 330.6h0M433.0 211.3h0M519.0 108.5h0M254.7 383.7h0M551.4 112.5h0M452.5 204.2h0M586.5 63.7h0M495.9 112.2h0M541.1 120.3h0M566.2 81.7h0M491.1 158.3h0M528.4 83.7h0M299.7 348.4h0M284.6 362.4h0M569.4 88.1h0M268.0 382.9h0M565.6 85.8h0M599.9 54.9h0M436.2 203.6h0M445.5 219.7h0M489.2 164.6h0M522.0 123.4h0M546.8 111.2h0M517.7 119.5h0M544.2 90.6h0M499.8 160.2h0M524.2 127.9h0M486.3 165.0h0M515.1 126.3h0M497.2 156.8h0M450.2 177.7h0M430.0 224.3h0M559.9 97.6h0M563.2 95.7h0M297.0 349.5h0M517.3 120.9h0M580.0 70.5h0M272.8 373.0h0M302.6 344.3h0M551.4 84.1h0M472.2 144.3h0M273.1 365.4h0M475.2 175.5h0M286.3 360.8h0M523.7 116.3h0M553.8 95.9h0M311.3 342.7h0M547.1 109.5h0M556.3 73.2h0M522.9 139.0h0M508.3 150.3h0M563.6 90.8h0M513.8 139.5h0M546.6 103.7h0M590.4 52.9h0M601.0 54.1h0M320.2 329.9h0M528.4 113.3h0M498.9 122.2h0M519.9 93.5h0M591.8 65.0h0M522.4 138.0h0M576.6 54.5h0M442.0 211.7h0M474.4 186.0h0M599.4 50.9h0M526.9 124.6h0M274.5 366.2h0M454.5 184.3h0M543.5 115.5h0M583.8 71.4h0M318.4 336.9h0M567.5 59.8h0M584.8 72.3h0M501.4 148.1h0M521.9 106.5h0M592.8 68.3h0M510.5 135.8h0M521.9 125.9h0M269.2 382.4h0M471.9 164.3h0M551.7 77.9h0M567.4 59.8h0M545.3 112.1h0M543.6 116.9h0M515.7 145.1h0M544.3 116.7h0M282.4 359.6h0M565.7 83.5h0M537.0 77.9h0M576.2 72.8h0M562.5 82.8h0M561.8 99.7h0M278.4 370.3h0M528.0 100.3h0M543.4 119.1h0M536.5 98.3h0M546.6 87.6h0M562.7 97.1h0M577.8 75.3h0M574.9 52.2h0M437.8 213.0h0M592.8 52.0h0M553.7 69.5h0M322.6 332.5h0M442.3 211.6h0M490.4 142.7h0M523.1 132.6h0M580.9 69.9h0M310.8 348.4h0M517.9 141.5h0M330.4 326.1h0M518.8 94.2h0M542.0 118.8h0M601.2 48.8h0M513.4 136.8h0M582.2 69.2h0M479.4 181.5h0M572.6 75.2h0M283.4 357.1h0M284.9 379.0h0M359.4 288.3h0M463.1 187.9h0M513.9 111.9h0M474.3 189.1h0M555.2 96.1h0M517.4 142.1h0M276.9 367.3h0M565.9 88.3h0M485.9 163.9h0M566.7 60.2h0M527.2 98.4h0M600.0 48.7h0M538.2 113.8h0M522.5 101.6h0M568.4 59.1h0M570.2 86.5h0M284.8 364.9h0M520.6 102.9h0M458.4 188.6h0M494.3 161.0h0M520.3 102.0h0M591.7 61.2h0M578.1 82.2h0M552.5 101.1h0M552.3 76.9h0M541.7 114.9h0M553.6 76.0h0M523.9 138.1h0M522.7 90.7h0M434.6 222.4h0M510.6 126.7h0M400.5 223.5h0M532.7 130.2h0M550.3 107.1h0M483.3 136.5h0M506.3 121.3h0M392.5 251.9h0M464.1 183.9h0M581.9 65.9h0M538.3 118.9h0M537.7 83.1h0M562.8 68.3h0M554.8 96.4h0M518.0 123.4h0M438.9 194.5h0M415.1 223.5h0M284.7 357.8h0M514.3 144.6h0M525.4 129.3h0M467.7 160.7h0M556.6 103.8h0M541.6 115.6h0M574.6 75.3h0M488.1 136.8h0M549.3 86.1h0M584.4 67.6h0M335.8 326.1h0M307.8 357.3h0M280.1 382.4h0M576.9 86.1h0M588.9 57.4h0M556.1 107.0h0M493.6 138.1h0M596.3 62.0h0M553.8 106.5h0M540.1 110.6h0M580.4 65.1h0M449.1 209.7h0M495.9 164.5h0M531.9 89.4h0M579.8 70.7h0M536.5 119.4h0M560.2 101.2h0M462.6 161.1h0M506.0 124.7h0M513.1 137.7h0M528.5 93.4h0M270.0 379.3h0M517.4 113.6h0M505.7 139.1h0M551.2 76.5h0M571.3 76.1h0M551.5 107.6h0M498.8 125.0h0M450.8 201.4h0M518.3 105.3h0M532.1 95.3h0M475.4 185.5h0M596.3 56.1h0M565.5 85.6h0M543.6 98.4h0M553.5 76.7h0M544.9 115.6h0M490.5 163.1h0M516.3 128.7h0M596.6 51.5h0M546.6 88.2h0M326.8 334.9h0M589.0 73.3h0M364.8 260.0h0M442.7 212.8h0M284.1 379.9h0M575.9 73.2h0M560.6 69.6h0M584.2 67.3h0M445.5 201.2h0M508.4 121.3h0M519.1 111.0h0M504.4 139.4h0M450.1 208.2h0M494.8 133.1h0M518.3 122.0h0M531.9 97.4h0M583.8 80.3h0M566.1 62.2h0M513.8 134.6h0M537.7 99.3h0M522.8 98.0h0M598.6 53.5h0M584.2 73.1h0M282.7 363.0h0M519.8 106.6h0M443.6 221.4h0M428.7 228.2h0M524.9 126.6h0M548.4 80.6h0" stroke="#000000"/>
<path d="M371.5 253.8h0" stroke="#d8d8d8"/>
<path d="M374.2 262.4h0M298.2 335.1h0M310.9 329.6h0M288.4 337.1h0M379.7 260.7h0M398.6 241.7h0M320.0 315.5h0M180.5 494.6h0M164.9 510.4h0M198.7 438.6h0M401.0 235.2h0M337.8 283.7h0M332.6 288.4h0M317.8 312.7h0M166.2 505.6h0M389.8 240.2h0M245.9 433.2h0M356.6 265.3h0M267.2 359.4h0M373.0 276.5h0M332.5 309.7h0M330.3 291.8h0M341.7 291.5h0M354.4 275.8h0M378.7 258.3h0M345.5 299.7h0M188.2 488.5h0M177.2 496.9h0M150.8 510.0h0M399.7 237.3h0M399.4 251.4h0M292.2 342.3h0M216.4 465.3h0M386.8 260.5h0M330.4 294.5h0M384.7 242.9h0M299.5 335.7h0M386.9 236.7h0M361.4 262.8h0M323.0 320.3h0M331.0 290.7h0M337.1 305.6h0M383.7 243.6h0M246.5 436.5h0M385.5 265.4h0M309.4 326.7h0" stroke="#cccccc"/>
<path d="M342.9 297.5h0M388.3 273.1h0M354.1 297.7h0M231.5 442.0h0M370.4 254.2h0M381.5 258.8h0M358.0 304.8h0M362.8 283.9h0M402.8 244.9h0M352.0 293.7h0M374.4 289.3h0M376.7 272.1h0M282.2 350.0h0M267.7 364.4h0M390.9 245.5h0M393.1 265.9h0M196.6 480.3h0M397.3 249.2h0M420.6 226.7h0M294.1 351.4h0M402.0 242.4h0M279.1 348.9h0M301.0 350.4h0M313.3 321.5h0M350.8 269.5h0M325.2 311.7h0M408.4 242.1h0M217.8 461.9h0M389.2 235.0h0M358.4 276.3h0M369.2 266.8h0M149.5 517.8h0M215.2 465.8h0M344.2 297.0h0M365.3 280.6h0M304.8 331.8h0M170.4 498.5h0M400.3 241.8h0M356.1 279.1h0M342.8 290.3h0M345.3 276.4h0M412.1 215.1h0M368.1 258.8h0M399.2 244.6h0M289.2 343.0h0M197.5 475.5h0M172.5 494.8h0M355.6 287.8h0M261.8 366.4h0M435.4 211.3h0M382.9 277.5h0M163.6 504.6h0M297.4 339.7h0M401.3 240.8h0M257.9 375.3h0M333.8 309.9h0M375.5 252.5h0M389.1 259.2h0M423.7 217.2h0M347.6 297.7h0M387.9 269.7h0M315.5 318.2h0M341.2 289.8h0M306.9 331.2h0M381.2 254.3h0M410.9 247.0h0M329.2 295.4h0M372.2 277.5h0M317.5 317.3h0M308.5 314.7h0M406.4 249.0h0M338.6 295.9h0M255.4 379.1h0M354.8 303.9h0M385.7 236.3h0M419.9 216.9h0M359.6 281.9h0M277.8 350.0h0M368.1 276.4h0M149.5 499.6h0M340.2 288.2h0M339.1 306.6h0M321.8 304.3h0M411.4 250.0h0M342.8 281.9h0M402.4 232.8h0M337.3 322.4h0M338.8 285.9h0M230.2 448.2h0M331.4 301.8h0M401.0 248.6h0M300.3 334.7h0M295.5 349.2h0M391.1 262.7h0M340.1 300.1h0M351.5 273.6h0M341.4 287.7h0M330.3 298.0h0M271.4 359.9h0M352.2 288.0h0M222.9 406.7h0M342.3 286.3h0M339.9 293.7h0M403.1 256.8h0M269.8 365.7h0M353.4 277.2h0M348.5 302.5h0M167.5 498.5h0M336.1 313.8h0M405.8 243.7h0M288.5 340.1h0M304.3 329.8h0M267.0 363.0h0M278.4 371.2h0M205.4 474.0h0M303.7 332.0h0M348.3 282.8h0M304.7 329.8h0M224.5 453.8h0M185.8 484.1h0M318.0 325.8h0M406.6 220.1h0M293.2 358.8h0M400.4 250.9h0M305.4 343.4h0M418.9 216.6h0M388.2 274.8h0M159.3 509.7h0M348.4 293.2h0M353.7 281.2h0M399.7 242.9h0M270.6 358.1h0M350.7 311.4h0M427.6 216.3h0M395.1 241.6h0M187.7 489.7h0M360.2 303.2h0M120.6 526.4h0M277.8 372.7h0M384.0 278.4h0M395.2 232.6h0M232.0 442.0h0M211.3 465.9h0M320.6 305.7h0M335.8 289.2h0M346.6 280.3h0M353.0 305.7h0M443.0 189.5h0M369.5 280.1h0M340.7 299.0h0M357.7 264.7h0M329.5 298.8h0M353.8 291.6h0M362.2 279.4h0M310.7 317.6h0M340.3 283.5h0M351.5 287.8h0M297.7 349.0h0M301.3 350.2h0M279.8 355.4h0M384.2 245.9h0M260.6 366.9h0M363.2 282.9h0M200.3 476.8h0M412.9 235.6h0M315.8 335.6h0M279.9 350.2h0M317.0 313.6h0M381.9 260.5h0M369.4 258.9h0M407.9 210.5h0M442.7 216.2h0M359.5 290.9h0M355.1 276.2h0M330.7 314.5h0M327.3 300.2h0M368.1 249.3h0" stroke="#c0c0c0"/>
<path d="M199.0 480.0h0M376.3 261.9h0M295.6 369.7h0M393.4 241.1h0M393.8 232.0h0M344.3 292.0h0M178.5 494.1h0M338.0 302.1h0M326.9 306.8h0M311.7 317.9h0M419.3 213.7h0M349.5 294.3h0M243.8 437.3h0M304.8 324.9h0M361.9 274.2h0M381.5 247.5h0M425.0 232.8h0M431.7 220.5h0M301.9 331.2h0M295.0 373.1h0M293.7 354.7h0M310.6 322.6h0M429.1 222.2h0M377.8 259.4h0M165.6 487.4h0M305.0 329.4h0M355.1 300.2h0M342.8 284.9h0M231.1 449.8h0M398.0 245.8h0M436.5 216.2h0M403.8 243.1h0M183.6 485.4h0M378.5 268.8h0M362.8 281.6h0M312.8 310.9h0M328.0 322.2h0M299.2 344.2h0M478.4 166.1h0M415.5 242.3h0M366.4 293.5h0M310.0 321.7h0M276.9 373.9h0M339.3 318.5h0M380.3 281.4h0M347.7 296.2h0M335.7 324.0h0M392.1 263.7h0M380.1 248.4h0M322.8 313.8h0M358.1 271.4h0M317.8 333.1h0M368.7 270.0h0M396.0 237.0h0M323.8 299.0h0M321.1 327.5h0M403.2 258.3h0M357.0 296.6h0M338.4 317.7h0M299.4 352.3h0M386.8 247.0h0M340.0 276.5h0M351.1 314.7h0M353.2 292.5h0M382.6 254.2h0M326.4 314.3h0M348.4 275.0h0M198.8 479.5h0M327.7 305.4h0M337.5 318.0h0M171.6 503.0h0M355.2 283.9h0M226.7 450.1h0M326.3 306.4h0M329.5 321.6h0M306.9 360.4h0M366.4 266.9h0M246.2 382.6h0M189.7 477.9h0M269.3 365.1h0M360.9 290.6h0M379.2 249.7h0M329.1 318.2h0M414.1 234.8h0M366.2 290.0h0M364.6 281.1h0M191.7 474.7h0M309.4 336.6h0M214.0 458.4h0M282.2 377.1h0M423.1 207.8h0M312.0 326.6h0M333.0 288.7h0M395.5 255.8h0M366.0 269.2h0M366.6 295.6h0M390.7 232.1h0M374.6 251.1h0M357.5 269.4h0M412.6 249.4h0M256.8 375.8h0M481.2 160.0h0M371.4 258.9h0M461.9 177.7h0M381.4 247.0h0M338.5 282.6h0M356.0 265.6h0M319.1 331.5h0M340.0 292.8h0M315.1 349.4h0M355.1 292.7h0M196.4 476.3h0M352.9 295.3h0M353.5 305.0h0M333.1 304.4h0M353.5 280.7h0M350.8 299.8h0M376.3 259.6h0M423.3 223.9h0M217.4 460.5h0M348.9 297.0h0M313.1 318.3h0M291.1 377.6h0M344.9 306.1h0M398.8 248.7h0M338.8 289.6h0M350.8 269.8h0M378.5 250.5h0M414.6 247.5h0M339.6 317.3h0M375.1 252.8h0M143.9 502.7h0M262.9 416.2h0M343.0 278.0h0M384.9 252.7h0M225.7 455.0h0M300.2 336.5h0M349.9 280.3h0M304.0 344.0h0M396.4 261.5h0M326.7 322.8h0M329.6 300.3h0M393.0 248.2h0M162.4 500.8h0M259.1 374.2h0M261.4 417.4h0M374.1 280.3h0M320.6 334.4h0M332.3 305.2h0M271.4 355.9h0M148.7 518.9h0M377.0 281.2h0M395.6 237.5h0M378.2 263.1h0M354.4 285.7h0M365.4 290.5h0M315.9 317.3h0M378.0 273.6h0M401.8 245.3h0M279.9 372.8h0M385.0 259.2h0M414.2 238.3h0M256.4 378.5h0M483.6 159.1h0M367.6 281.9h0M374.6 276.0h0M385.5 256.0h0M342.3 296.5h0M322.3 313.2h0M253.4 380.9h0M301.6 325.0h0M370.7 281.3h0M337.3 297.2h0M368.6 284.5h0M435.6 217.1h0M327.3 321.3h0M277.7 349.4h0M276.7 398.3h0M180.0 499.0h0M154.8 491.5h0M246.1 436.4h0M212.5 463.4h0M374.2 274.5h0M432.6 230.0h0M376.3 254.9h0M355.8 272.6h0M291.8 345.8h0M224.4 451.9h0M209.1 471.9h0M358.5 271.2h0M201.5 472.8h0M396.4 244.7h0M289.1 338.0h0M238.6 394.6h0M277.8 397.2h0M262.0 367.6h0M292.5 378.2h0M156.7 509.9h0M220.9 461.4h0M329.9 323.7h0M374.5 267.6h0M381.7 273.0h0M164.9 502.7h0M311.8 312.2h0M251.0 423.5h0M338.5 302.7h0M408.6 223.1h0M217.5 462.8h0M383.4 253.1h0M357.9 274.9h0M394.5 239.5h0M407.0 238.8h0M380.4 270.5h0M422.8 212.5h0M123.6 526.7h0M407.2 231.2h0M359.0 290.7h0M326.5 329.0h0M328.2 307.0h0M345.3 297.4h0M364.6 257.5h0M473.1 187.0h0M249.7 431.1h0M268.8 361.0h0M375.1 255.1h0M301.4 331.1h0M261.6 374.4h0M331.2 305.8h0M381.1 244.8h0M142.6 520.1h0M317.8 336.3h0M325.2 323.3h0M291.9 368.5h0M338.3 284.0h0M219.0 462.5h0M321.9 304.0h0M409.2 213.3h0M341.3 316.1h0M401.1 249.5h0M280.6 372.0h0M379.8 271.5h0M270.9 407.8h0M333.6 318.9h0M378.5 285.2h0M359.8 300.7h0M365.2 271.7h0M365.0 260.4h0M364.5 289.0h0M355.9 270.4h0M368.3 269.5h0M317.9 330.9h0M406.3 254.1h0M329.3 292.4h0M329.0 318.0h0M362.3 268.2h0M311.6 321.7h0M369.4 286.6h0M352.3 284.0h0M164.2 503.8h0M315.6 315.5h0M378.9 259.7h0" stroke="#b4b4b4"/>
<path d="M365.5 283.3h0M365.1 258.8h0M393.9 245.3h0M280.9 379.7h0M341.6 287.4h0M399.3 258.4h0M288.0 382.8h0M348.2 309.3h0M348.0 295.3h0M335.6 325.7h0M227.7 400.2h0M389.8 261.0h0M330.3 327.2h0M365.1 288.3h0M153.5 513.1h0M365.5 287.2h0M481.0 164.0h0M329.2 308.7h0M310.2 316.8h0M496.5 151.4h0M353.9 273.2h0M384.8 257.8h0M407.1 248.4h0M345.1 305.5h0M480.2 153.7h0M423.3 212.0h0M284.7 352.5h0M351.6 296.0h0M267.6 364.8h0M369.2 261.7h0M391.8 264.8h0M329.2 302.6h0M372.3 285.2h0M347.8 313.7h0M164.2 498.8h0M496.2 154.0h0M278.9 381.8h0M480.5 152.5h0M292.1 343.9h0M301.0 359.9h0M330.1 331.8h0M224.9 454.8h0M397.4 232.4h0M234.2 396.5h0M401.6 247.3h0M198.4 475.9h0M384.1 260.5h0M410.9 207.0h0M221.2 450.8h0M371.5 274.5h0M411.6 231.8h0M400.5 239.4h0M268.0 362.5h0M338.4 305.2h0M423.0 219.0h0M361.1 289.9h0M410.1 208.2h0M307.6 330.7h0M328.0 289.4h0M315.9 317.9h0M404.5 257.3h0M422.3 231.9h0M173.6 478.2h0M354.9 276.4h0M321.5 308.1h0M258.3 376.4h0M440.3 189.5h0M375.2 256.4h0M289.9 345.3h0M406.3 251.0h0M396.8 257.0h0M323.7 313.1h0M485.3 162.1h0M200.2 470.0h0M339.1 311.7h0M274.6 355.7h0M339.2 283.1h0M320.5 343.7h0M326.5 316.3h0M321.6 328.3h0M431.3 206.0h0M227.1 446.7h0M357.2 263.4h0M352.7 301.3h0M335.3 318.7h0M345.0 290.6h0M318.0 302.5h0M354.0 278.7h0M436.8 216.5h0M345.3 305.7h0M167.9 484.3h0M310.3 317.1h0M263.9 401.4h0M405.8 247.6h0M274.0 395.3h0M434.2 200.0h0M164.3 479.9h0M328.9 304.0h0M323.7 313.7h0M404.6 222.2h0M393.9 255.6h0M271.6 357.9h0M349.4 300.9h0M256.4 376.8h0M434.5 204.0h0M213.0 468.0h0M357.4 271.2h0M321.0 322.6h0M421.3 212.9h0M323.3 301.3h0M372.3 252.8h0M359.7 280.1h0M186.5 481.1h0M278.0 383.4h0M397.4 263.4h0M325.9 330.2h0M159.3 501.9h0M343.2 294.6h0M353.6 293.6h0M168.2 477.9h0M188.3 484.5h0M375.3 270.7h0M354.6 293.1h0M266.5 360.7h0M438.3 198.5h0M323.0 308.3h0M498.4 149.0h0M390.2 258.1h0M327.3 300.7h0M164.6 480.2h0M435.0 212.7h0M255.6 379.2h0M314.1 350.6h0M317.3 305.1h0M299.8 355.3h0M406.3 250.5h0M156.9 489.9h0M386.3 261.0h0M355.3 277.8h0M258.6 419.6h0M210.8 459.0h0M323.0 316.7h0M354.3 270.3h0M280.7 385.4h0M312.3 315.1h0M332.3 306.6h0M215.8 457.3h0M326.7 290.3h0M379.8 266.0h0M286.5 351.8h0M421.5 225.6h0M394.6 256.6h0M356.6 264.6h0M424.8 218.3h0M286.9 346.9h0M319.0 336.1h0M358.3 270.6h0M308.3 344.2h0M421.1 234.3h0M174.0 481.2h0M381.6 265.1h0M434.6 206.4h0M345.6 288.4h0M387.6 272.1h0M436.4 196.9h0M343.8 293.4h0M341.0 293.4h0M481.8 149.8h0M377.4 246.3h0M258.9 417.6h0M181.7 490.5h0M312.6 339.7h0M398.8 242.9h0M365.7 295.5h0M203.5 470.2h0M233.6 446.8h0M375.3 248.0h0M306.3 324.8h0M462.9 164.8h0M315.3 306.6h0M167.3 479.3h0M411.5 246.9h0M318.7 327.3h0M348.9 298.7h0M329.5 287.3h0M388.1 243.8h0M179.7 486.4h0M250.5 426.6h0M436.6 203.3h0M363.5 291.2h0M272.4 358.7h0M398.3 259.0h0M461.2 166.7h0M243.3 430.4h0M216.5 461.3h0M433.9 227.6h0M179.5 476.4h0M390.6 268.2h0M357.6 270.6h0M257.9 374.5h0M397.1 254.7h0M469.1 169.3h0M491.2 156.4h0M224.8 452.4h0M337.0 285.6h0M311.6 334.3h0M317.3 303.4h0M373.9 242.6h0M385.6 268.9h0M341.0 300.1h0M362.1 294.7h0M270.0 361.8h0M364.7 258.9h0M315.6 347.9h0M362.5 295.1h0M390.4 259.9h0M392.3 249.3h0M414.4 237.0h0M157.1 494.5h0M278.8 380.2h0M327.0 312.6h0M413.1 234.8h0M319.5 331.7h0M309.0 335.6h0M341.5 317.2h0M409.4 237.7h0M381.7 240.0h0M339.9 277.8h0M295.0 372.0h0M454.2 191.4h0M376.6 260.7h0M206.1 469.5h0M285.2 349.3h0M279.5 348.6h0M342.0 321.3h0M440.2 206.1h0M194.0 472.5h0M143.3 516.5h0M225.3 408.5h0M399.8 226.8h0M209.8 456.4h0M197.7 480.6h0M382.9 254.7h0M358.8 281.0h0M148.0 497.2h0M297.4 370.1h0M356.5 275.0h0M345.0 279.0h0M366.8 286.3h0M230.2 447.5h0M467.6 181.0h0M270.6 400.9h0M289.1 338.7h0M343.6 279.6h0M198.7 472.5h0M202.9 465.7h0M228.6 448.9h0M227.6 449.6h0" stroke="#a8a8a8"/>
<path d="M185.5 481.6h0M160.4 488.1h0M396.6 264.9h0M152.3 496.9h0M334.0 326.0h0M376.9 254.4h0M353.2 308.0h0M294.8 361.0h0M247.0 428.7h0M187.4 470.8h0M333.7 325.4h0M267.9 404.3h0M403.5 232.4h0M255.6 423.1h0M410.7 249.7h0M483.9 162.9h0M215.7 452.0h0M308.8 318.7h0M438.1 192.4h0M415.5 244.2h0M187.9 468.3h0M213.4 459.2h0M367.6 279.7h0M255.6 409.5h0M405.9 253.0h0M338.5 318.7h0M226.8 442.5h0M335.8 302.2h0M170.3 476.0h0M228.4 442.7h0M243.7 422.2h0M300.2 354.3h0M218.8 453.7h0M410.6 221.0h0M397.4 257.1h0M254.1 422.4h0M412.9 237.9h0M268.6 409.2h0M246.7 430.2h0M251.6 428.9h0M421.6 232.8h0M417.6 245.3h0M390.0 239.0h0M427.5 231.6h0M231.7 438.1h0M237.0 435.7h0M219.0 456.1h0M339.4 301.7h0M407.0 251.9h0M292.7 366.8h0M393.4 268.7h0M264.9 365.4h0M316.1 313.1h0M308.4 354.4h0M371.2 257.9h0M350.6 287.2h0M278.5 400.0h0M368.3 260.7h0M187.2 466.1h0M325.3 323.1h0M328.0 329.7h0M331.2 327.2h0M346.3 304.4h0M179.6 489.3h0M426.5 222.2h0M463.3 195.3h0M143.0 501.7h0M229.7 441.7h0M309.9 316.2h0M251.0 414.5h0M266.4 407.4h0M223.1 450.7h0M264.4 413.8h0M213.5 453.3h0M423.0 221.4h0M497.5 149.2h0M335.3 314.2h0M331.5 296.8h0M164.0 484.6h0M273.4 389.2h0M390.9 231.5h0M302.1 345.4h0M366.8 293.8h0M198.2 469.5h0M212.5 420.4h0M433.7 205.0h0M177.5 475.0h0M232.0 441.7h0M372.4 267.8h0M257.1 408.5h0M311.7 313.8h0M232.5 436.1h0M295.2 364.0h0M300.4 359.3h0M260.3 367.5h0M382.4 275.0h0M407.0 249.9h0M290.2 372.2h0M246.6 427.0h0M442.5 194.2h0M153.5 491.9h0M338.0 290.8h0M313.7 337.8h0M471.4 165.5h0M437.0 190.1h0M411.9 246.1h0M435.7 222.8h0M337.0 317.4h0M272.7 357.0h0M340.3 323.3h0M363.9 265.9h0M376.5 282.2h0M427.5 212.7h0M468.9 165.2h0M489.9 154.0h0M292.5 368.0h0M245.8 430.1h0M242.1 434.9h0M345.1 316.5h0M229.5 437.5h0M214.3 459.1h0M238.3 430.6h0M258.2 418.6h0M190.6 474.8h0M229.4 438.0h0M238.0 440.2h0M221.5 454.0h0M230.9 439.2h0M152.0 493.8h0M329.5 333.2h0M491.4 156.1h0M250.0 416.8h0M410.3 216.7h0M410.3 231.7h0M236.0 443.2h0M186.8 469.1h0M151.6 495.5h0M365.2 285.4h0M307.2 357.6h0M431.6 205.3h0M337.3 310.9h0M167.6 477.3h0M264.0 402.7h0M246.7 428.0h0M305.2 359.1h0M487.5 147.4h0M318.9 329.2h0M399.1 228.3h0M169.1 477.6h0M439.0 224.3h0M249.7 426.5h0M279.5 394.3h0M478.2 150.1h0M420.8 235.2h0M297.3 370.1h0M419.4 208.3h0M420.1 239.4h0M158.3 485.6h0M281.5 391.9h0M301.5 364.7h0M292.2 344.5h0M395.6 257.2h0M330.7 321.9h0M495.7 150.0h0M338.3 302.6h0M289.7 371.5h0M318.4 329.7h0M356.5 300.2h0M428.2 230.7h0M206.9 466.9h0M357.0 271.6h0M238.6 427.5h0M220.0 455.5h0M218.9 461.8h0M358.4 297.9h0M183.9 463.9h0M261.8 409.9h0M400.5 234.5h0M192.3 478.6h0M166.7 479.8h0M252.2 414.2h0M436.6 209.5h0M360.4 264.5h0M210.3 455.2h0M447.1 189.1h0M344.7 314.0h0M354.9 291.5h0M355.2 290.5h0M171.6 470.7h0M496.1 148.5h0M394.0 240.5h0" stroke="#9c9c9c"/>
<path d="M242.0 427.4h0M193.0 464.0h0M431.2 193.1h0M219.8 457.8h0M209.5 456.8h0M403.4 237.7h0M377.2 245.6h0M360.4 300.3h0M402.0 239.6h0M290.6 342.8h0M179.5 471.3h0M187.8 456.3h0M393.5 248.9h0M305.9 323.2h0M290.4 370.6h0M213.8 461.4h0M397.7 255.3h0M298.4 331.6h0M285.3 371.8h0M278.2 378.0h0M198.7 469.2h0M175.0 468.5h0M423.0 220.1h0M245.9 417.7h0M336.2 324.4h0M235.9 432.8h0M278.5 381.6h0M268.3 399.8h0M233.6 440.2h0M277.1 385.3h0M360.4 265.5h0M232.8 435.9h0M225.8 443.0h0M288.0 386.7h0M383.8 257.7h0M170.5 472.6h0M276.4 397.9h0M259.7 415.6h0M250.0 417.6h0M276.4 401.5h0M260.8 401.1h0M234.5 437.7h0M483.9 165.2h0M295.8 341.8h0M268.6 391.7h0M425.6 233.0h0M175.6 470.5h0M279.2 345.8h0M390.2 261.4h0M426.4 204.9h0M236.0 430.3h0M286.4 387.0h0M259.0 406.0h0M255.6 419.6h0M174.4 477.1h0M268.0 398.6h0M337.4 314.1h0M182.7 469.8h0M347.7 276.9h0M335.0 281.3h0M354.7 287.8h0M326.8 324.4h0M288.6 384.5h0M202.7 463.6h0M400.3 241.6h0M176.9 469.8h0M192.0 464.7h0M304.3 360.5h0M211.6 463.1h0M244.2 428.4h0M253.9 410.8h0M426.3 199.5h0M428.6 199.1h0M403.0 239.0h0M276.3 396.0h0M372.2 265.6h0M179.4 466.7h0M325.4 330.6h0M373.7 264.5h0M271.4 387.9h0M421.0 237.3h0M376.2 273.4h0M475.3 164.6h0M273.7 392.5h0M423.4 206.3h0M337.6 301.8h0M212.1 436.3h0M207.2 459.8h0M477.7 151.1h0M178.6 472.8h0M408.7 213.7h0M479.3 159.6h0M370.6 288.7h0M289.0 374.4h0M287.9 359.7h0M331.3 312.9h0M275.4 381.7h0M258.2 378.0h0M293.8 372.6h0M305.9 357.8h0M179.9 488.5h0M455.1 187.0h0M203.7 462.5h0M249.1 417.1h0M179.4 485.3h0M347.4 304.7h0M382.3 264.2h0M224.4 442.3h0M317.6 331.0h0M214.1 451.1h0M169.9 476.6h0M393.4 256.7h0M188.5 469.5h0M445.0 193.6h0M189.9 475.9h0M446.6 194.6h0M405.9 244.1h0M214.7 452.9h0M276.7 395.9h0M391.6 259.4h0M373.4 282.1h0M240.3 430.5h0M292.5 373.3h0M475.1 151.8h0M410.8 227.0h0M189.6 459.9h0M372.4 256.6h0M265.2 403.4h0M287.8 384.0h0M316.2 306.5h0M283.9 378.7h0M394.6 242.6h0M310.0 337.8h0M407.2 241.6h0M452.0 194.2h0M186.8 457.3h0M365.2 263.2h0M445.2 179.2h0M367.4 261.4h0M331.5 321.8h0M425.9 232.3h0M317.6 305.3h0M482.8 151.3h0M282.9 393.4h0M484.5 147.3h0M259.8 405.3h0M372.7 261.1h0M348.8 304.1h0M429.1 194.3h0M439.8 182.7h0M243.7 425.0h0M385.5 255.4h0M433.7 219.4h0M162.2 485.0h0M356.4 274.0h0M276.0 391.0h0" stroke="#909090"/>
<path d="M384.3 245.8h0M174.5 469.4h0M385.0 256.2h0M197.2 448.2h0M329.8 313.9h0M232.4 421.9h0M239.9 423.3h0M192.1 473.2h0M311.9 320.2h0M467.2 164.6h0M430.6 199.6h0M284.4 386.9h0M259.8 408.9h0M259.2 402.7h0M434.0 210.0h0M284.5 384.6h0M325.3 333.6h0M445.1 175.2h0M192.9 456.3h0M294.1 367.2h0M364.6 267.8h0M278.2 390.3h0M192.6 455.9h0M262.1 406.0h0M371.3 271.0h0M354.6 291.4h0M394.8 260.7h0M360.8 274.3h0M270.8 400.6h0M452.0 186.4h0M450.5 190.2h0M250.7 430.0h0M306.4 337.8h0M202.9 449.5h0M299.5 359.0h0M317.5 332.7h0M247.1 426.2h0M270.2 401.0h0M362.4 296.7h0M249.0 418.2h0M351.0 293.8h0M389.1 253.4h0M457.9 178.8h0M482.1 146.0h0M414.9 213.3h0M321.8 320.7h0M270.2 385.6h0M276.8 391.3h0M326.6 331.8h0M257.3 412.6h0M311.2 353.1h0M192.6 453.1h0M328.1 326.7h0M319.4 314.2h0M246.3 421.4h0M178.4 467.4h0M238.9 426.6h0M494.2 149.1h0M428.2 214.2h0M293.3 368.2h0M383.6 251.5h0M321.9 327.8h0M351.0 269.6h0M347.1 278.9h0M400.8 227.3h0M182.7 463.4h0M473.6 162.8h0M181.8 460.1h0M413.8 226.7h0M367.8 269.3h0M330.5 334.1h0M181.3 472.3h0M359.6 270.2h0M412.2 249.1h0M468.9 177.0h0M342.5 275.8h0M199.4 454.3h0M347.3 286.6h0M283.1 371.8h0M446.4 190.1h0M286.1 387.0h0M381.5 270.4h0M466.6 173.3h0M347.0 309.9h0M188.8 458.9h0M371.3 266.6h0M203.5 454.5h0M316.7 332.0h0M330.1 322.8h0M362.2 275.2h0M471.8 152.6h0M349.2 315.6h0M282.9 371.2h0M216.1 436.9h0M323.3 342.3h0M338.4 318.0h0M272.1 398.8h0M365.2 261.3h0M303.4 331.1h0M306.1 336.7h0M292.5 372.5h0M347.8 295.6h0M381.9 270.8h0M291.1 374.0h0M471.3 171.0h0M260.8 413.1h0M212.8 457.0h0M194.6 454.7h0M324.3 334.0h0M324.2 299.3h0M368.6 273.6h0M367.4 257.3h0M285.1 341.9h0M275.0 403.3h0M204.4 448.8h0M375.4 250.3h0M480.3 166.8h0M210.7 446.4h0M322.6 335.9h0M202.0 455.3h0M393.2 256.8h0M267.9 391.5h0M191.2 465.7h0M195.3 449.6h0M475.6 162.3h0M383.3 265.6h0M452.2 183.2h0M269.5 395.9h0M454.2 187.9h0M443.4 181.1h0M431.3 196.5h0M403.1 240.5h0M362.5 279.4h0M359.1 263.8h0M416.0 229.6h0M199.1 453.2h0M323.6 333.8h0M281.0 395.1h0M422.6 207.8h0M316.8 307.4h0M356.0 269.9h0M196.2 449.1h0M414.5 244.7h0M336.5 302.2h0M283.3 373.4h0M383.8 243.4h0M288.0 374.6h0M223.8 418.3h0M190.0 466.8h0M455.0 184.8h0M419.9 226.3h0M200.6 465.3h0M277.6 384.5h0" stroke="#848484"/>
<path d="M422.4 227.6h0M451.1 189.4h0M427.5 205.5h0M324.9 322.7h0M210.2 432.3h0M393.9 230.1h0M246.5 401.8h0M283.9 381.4h0M345.8 306.1h0M189.3 464.0h0M200.4 444.7h0M425.7 223.4h0M345.4 275.9h0M311.5 355.0h0M190.1 457.3h0M251.0 412.3h0M223.8 430.9h0M420.8 212.1h0M470.9 154.0h0M466.6 170.2h0M458.8 178.6h0M300.1 325.8h0M203.8 442.7h0M406.7 244.4h0M399.0 249.8h0M285.7 370.4h0M266.9 392.8h0M340.6 288.6h0M458.0 188.9h0M432.1 197.3h0M327.3 327.2h0M346.5 279.0h0M427.6 230.2h0M191.2 465.3h0M396.9 224.6h0M263.2 403.5h0M324.6 329.5h0M336.7 307.6h0M212.0 443.0h0M205.2 442.3h0M400.1 256.2h0M361.8 270.0h0M427.1 204.9h0M371.6 291.4h0M414.5 239.4h0M435.6 184.0h0M302.3 355.0h0M355.1 304.4h0M248.0 395.6h0M314.1 324.2h0M447.5 186.7h0M434.0 197.4h0M454.6 184.1h0M209.1 433.3h0M217.4 425.6h0M380.6 254.4h0M432.8 220.5h0M370.6 280.7h0M475.0 169.5h0M200.5 448.0h0M460.9 200.5h0M365.6 287.8h0M390.2 262.3h0M192.0 459.1h0M425.7 232.0h0M314.9 308.7h0M352.4 305.9h0M279.7 388.3h0M325.7 297.0h0M280.9 367.3h0M356.5 287.9h0M196.0 458.1h0M307.8 345.9h0M324.9 297.7h0M424.1 221.2h0M205.2 439.2h0M370.9 292.6h0M250.7 417.5h0M281.1 376.9h0M323.6 300.1h0M350.6 315.0h0M268.5 390.3h0M272.1 382.5h0M294.3 357.7h0M421.4 225.1h0M301.2 361.8h0M208.5 442.7h0M324.2 324.9h0M223.0 433.6h0M222.3 420.3h0M456.5 180.5h0M385.8 247.3h0M234.7 412.3h0M218.1 423.2h0M225.0 425.4h0M355.0 288.7h0M346.5 285.3h0M450.9 176.1h0M300.8 350.8h0M216.4 438.5h0M392.4 250.1h0M263.2 409.2h0M226.3 429.8h0M220.8 431.3h0M483.3 165.3h0M395.8 225.1h0M488.4 157.9h0M201.4 439.2h0M268.7 384.8h0M237.9 410.1h0M328.7 300.2h0M188.5 458.4h0M363.9 272.4h0M417.2 210.6h0M411.9 231.1h0M196.2 452.4h0M363.9 278.5h0M324.4 334.1h0M282.3 374.9h0M346.9 310.4h0M220.7 433.0h0M470.9 192.0h0M396.2 226.0h0M409.4 246.4h0M326.5 296.1h0M299.3 365.9h0M250.5 381.9h0M430.3 190.9h0M399.8 228.0h0M272.4 361.5h0M290.5 379.3h0M493.4 153.6h0M212.2 429.4h0M330.2 330.1h0M253.1 408.3h0M220.5 422.6h0M382.2 263.2h0M347.0 308.3h0" stroke="#787878"/>
<path d="M244.4 398.6h0M227.7 419.6h0M464.1 174.7h0M340.0 297.6h0M262.6 406.6h0M218.3 429.4h0M500.4 145.2h0M357.7 305.9h0M457.0 171.8h0M313.1 325.8h0M223.2 420.7h0M223.8 421.5h0M425.2 208.1h0M454.0 173.3h0M456.2 166.1h0M452.0 184.6h0M348.1 283.2h0M398.1 253.7h0M289.8 383.2h0M277.3 356.1h0M344.4 280.7h0M323.0 331.2h0M345.0 307.1h0M401.9 247.3h0M339.3 296.7h0M221.3 422.4h0M418.4 205.5h0M436.5 192.7h0M419.7 207.9h0M273.5 393.0h0M404.3 230.3h0M484.7 161.0h0M336.9 291.6h0M304.9 340.7h0M397.6 251.9h0M458.1 171.1h0M224.5 426.3h0M483.8 155.8h0M216.9 432.3h0M251.2 400.9h0M217.2 429.1h0M231.6 408.2h0M410.1 245.8h0M400.1 248.8h0M371.9 291.3h0M205.5 450.2h0M224.1 423.0h0M475.1 155.8h0M456.2 166.2h0M311.7 315.6h0M393.9 227.0h0M220.1 422.8h0M374.4 253.0h0M491.9 156.2h0M389.7 270.8h0M238.9 400.7h0M291.7 353.6h0M224.0 432.7h0M218.8 424.1h0M335.5 293.2h0M204.2 442.2h0M217.2 430.1h0M388.4 229.7h0M410.4 250.5h0M298.8 369.2h0M363.1 292.5h0M380.1 253.3h0M234.7 410.3h0M436.2 224.3h0M232.2 419.3h0M219.7 430.0h0M236.5 417.4h0M214.8 442.4h0M362.9 291.6h0M357.7 304.0h0M261.0 388.3h0M375.2 267.8h0M263.3 396.7h0M418.1 217.3h0M283.4 376.7h0M205.1 440.6h0M466.7 173.8h0M335.8 308.7h0M401.7 225.4h0M334.8 310.6h0M302.3 343.9h0M323.0 301.6h0M410.0 240.0h0M220.8 435.0h0M411.6 245.6h0M317.9 315.4h0M397.1 259.6h0M344.9 280.0h0M249.2 393.1h0M465.9 169.4h0M446.4 180.6h0M423.5 228.4h0M310.2 354.0h0M227.8 424.9h0M461.4 164.0h0M457.3 169.8h0M265.6 393.0h0M295.7 334.4h0M440.3 187.9h0M430.4 210.9h0M401.0 247.3h0M303.5 338.1h0M483.7 174.3h0M219.8 434.3h0M425.9 207.0h0M287.9 369.6h0M216.1 437.9h0M197.8 444.9h0M198.0 447.2h0M285.3 382.1h0M372.5 288.9h0M226.7 421.7h0" stroke="#6c6c6c"/>
<path d="M240.9 403.4h0M467.2 193.0h0M208.7 438.2h0M391.6 266.6h0M476.8 169.8h0M238.4 398.9h0M243.9 404.0h0M239.1 412.3h0M500.3 146.3h0M243.0 401.5h0M233.1 407.0h0M480.1 150.8h0M387.1 230.7h0M482.0 176.2h0M244.1 409.7h0M418.0 243.2h0M434.5 189.9h0M450.6 184.8h0M435.7 206.7h0M242.4 411.3h0M245.4 406.2h0M450.7 180.0h0M401.4 219.8h0M229.4 414.5h0M442.8 183.3h0M475.5 149.3h0M220.3 429.0h0M224.3 432.4h0M247.2 400.4h0M496.9 165.6h0M425.9 209.9h0M414.9 229.7h0M214.4 426.1h0M432.0 219.2h0M354.6 307.9h0M461.8 177.4h0M457.7 205.3h0M292.6 380.1h0M416.6 204.4h0M426.2 234.2h0M430.8 221.1h0M436.5 199.8h0M218.1 433.1h0M424.8 210.5h0M244.6 397.9h0M285.9 373.8h0M426.7 209.0h0M490.2 147.4h0M277.5 355.2h0M455.0 173.5h0M418.3 204.7h0M484.0 166.9h0M225.1 415.1h0M227.7 415.9h0M229.5 415.5h0M446.5 194.3h0M277.8 355.2h0M294.5 370.5h0M466.8 171.7h0M421.3 216.5h0M426.1 211.0h0M246.2 405.3h0M243.1 399.1h0M237.8 416.6h0" stroke="#606060"/>
<path d="M457.4 169.7h0M235.7 405.7h0M486.9 139.8h0M442.4 208.6h0M416.5 234.6h0M488.0 145.9h0M428.7 230.8h0M483.6 135.9h0M417.6 202.0h0M222.8 418.3h0M273.1 374.8h0M522.9 141.0h0M459.1 174.8h0M509.3 135.9h0M493.0 135.8h0M249.1 399.6h0M421.7 202.9h0M231.7 415.0h0M464.7 184.2h0M477.5 170.0h0M258.2 391.0h0M247.7 393.0h0M414.0 230.7h0M501.5 144.3h0M235.6 408.5h0M236.3 410.5h0M273.5 373.2h0M507.4 149.9h0M437.4 218.7h0M492.0 124.3h0M458.2 168.4h0M242.0 398.9h0M253.2 393.0h0M248.1 399.8h0M245.9 403.7h0M461.8 168.4h0M487.9 138.3h0M420.1 202.1h0M248.1 400.4h0M224.3 417.5h0M209.5 439.3h0M473.5 150.9h0M493.0 155.5h0M231.3 415.8h0M484.1 165.2h0M477.5 183.5h0M462.1 185.7h0M254.2 386.1h0M292.5 350.5h0M243.1 401.1h0M232.4 413.8h0M220.3 420.8h0M451.3 172.5h0M237.2 403.7h0M245.0 404.9h0M460.0 178.6h0M427.8 234.5h0M251.2 399.3h0M234.4 417.4h0M457.1 177.2h0M441.5 200.1h0M253.2 395.2h0M485.1 141.1h0M519.9 132.6h0M480.9 161.4h0M470.4 145.3h0M474.1 157.2h0M247.1 403.6h0M244.5 395.0h0M228.5 413.1h0M238.7 401.3h0M483.1 142.8h0" stroke="#545454"/>
<path d="M262.0 385.0h0M235.2 408.7h0M509.9 103.5h0M248.6 399.9h0M507.6 139.8h0M420.8 203.6h0M247.0 395.9h0M251.3 392.5h0M276.6 372.3h0M467.1 159.0h0M237.6 415.9h0M248.1 404.2h0M286.2 357.0h0M535.0 82.6h0M440.7 188.8h0M233.9 409.3h0M488.7 145.1h0M475.4 159.2h0M273.6 374.5h0M258.0 387.4h0M492.5 134.4h0M491.3 140.3h0M426.9 233.1h0M431.8 229.9h0M297.6 346.9h0M239.6 407.6h0M451.5 210.1h0M451.9 167.5h0M260.9 386.2h0M269.4 380.3h0M262.1 389.3h0M486.8 133.4h0M246.0 398.6h0M275.6 374.6h0M249.9 398.8h0M490.3 136.0h0M252.9 386.0h0M441.7 220.8h0M272.4 378.3h0M479.8 141.9h0M469.9 192.9h0M517.0 135.1h0M276.7 374.7h0M282.8 368.4h0M251.4 385.4h0M486.8 140.6h0M248.0 390.0h0M478.3 182.3h0M522.1 91.9h0M276.3 368.2h0M460.7 167.1h0M478.5 162.7h0M479.5 161.6h0M452.2 176.1h0M512.5 145.4h0M273.8 367.2h0M451.7 179.9h0M445.2 182.5h0M480.0 147.3h0M439.9 191.7h0M457.5 172.1h0M240.8 402.4h0" stroke="#484848"/>
<path d="M538.7 109.5h0M469.0 154.9h0M448.3 180.9h0M268.7 380.7h0M281.9 366.9h0M503.3 138.3h0M258.8 390.5h0M247.1 391.4h0M485.3 141.7h0M357.7 288.3h0M483.8 145.6h0M452.9 173.6h0M526.5 133.8h0M261.8 380.0h0M456.9 167.1h0M448.7 174.2h0M518.1 111.9h0M550.9 97.1h0M472.4 156.2h0M522.4 113.2h0M536.2 104.2h0M483.9 135.3h0M269.0 374.1h0M487.2 144.5h0M290.3 354.0h0M450.3 176.8h0M264.4 377.5h0M244.7 392.4h0M494.6 134.6h0M458.5 166.1h0M581.9 78.0h0M231.4 410.4h0M484.4 139.3h0M253.1 392.4h0M500.9 132.1h0M510.3 119.8h0M593.2 56.8h0M251.5 390.6h0M470.6 161.0h0M476.4 146.8h0M273.7 368.3h0M489.2 139.4h0M512.8 116.7h0M533.4 83.1h0M445.0 181.2h0M311.6 345.3h0M448.0 175.2h0M260.9 384.8h0M540.4 107.4h0M495.2 133.8h0M516.5 136.5h0M464.8 155.6h0M447.4 182.2h0M262.9 385.0h0M425.0 193.9h0M508.9 151.9h0M478.9 148.3h0" stroke="#3c3c3c"/>
<path d="M451.7 173.8h0M264.8 385.7h0M468.7 161.0h0M548.8 98.8h0M469.2 160.2h0M387.3 254.7h0M270.4 376.6h0M571.9 93.1h0M435.2 180.9h0M511.8 101.9h0M477.8 142.4h0M594.6 53.2h0M515.8 135.7h0M544.9 114.5h0M271.5 372.1h0M497.0 128.1h0M287.0 356.5h0M272.6 373.2h0M548.9 90.0h0M322.4 332.4h0M589.4 71.8h0M299.9 348.5h0M288.8 354.2h0M287.7 358.8h0M315.2 339.9h0M537.9 100.6h0M291.4 355.5h0M366.8 279.6h0M524.9 128.6h0M334.4 279.2h0M573.3 75.6h0M269.7 377.7h0M304.8 343.2h0M525.2 126.3h0M253.8 389.9h0M523.6 129.3h0M287.7 359.3h0M376.6 253.4h0M549.0 76.3h0M275.6 375.6h0M273.5 376.1h0M505.3 123.8h0M377.7 265.5h0" stroke="#303030"/>
<path d="M331.3 289.0h0M314.6 327.3h0M565.9 59.4h0M419.5 237.3h0M571.5 56.5h0M285.8 362.0h0M350.1 279.8h0M559.4 102.6h0M492.8 145.0h0M372.4 266.4h0M371.0 267.2h0M505.0 123.7h0M546.7 76.1h0M440.4 194.3h0M473.7 175.3h0M256.1 383.0h0M595.4 61.0h0M338.0 316.7h0M433.1 201.9h0M393.6 233.2h0M362.8 278.0h0M344.1 291.4h0M555.7 81.3h0M319.2 318.6h0M492.3 146.5h0M380.6 253.0h0M437.1 213.0h0M272.6 369.3h0M521.4 101.7h0M304.2 347.4h0M368.1 268.8h0M511.3 119.9h0M491.4 147.3h0M377.6 249.7h0M508.3 147.0h0M472.9 186.2h0M519.0 119.4h0M532.2 82.7h0M445.1 189.5h0M440.8 219.2h0M276.2 375.2h0M562.2 97.9h0M435.4 180.8h0M471.9 180.7h0M351.9 309.3h0M577.1 75.5h0M523.3 105.3h0M520.4 116.9h0M288.6 365.9h0M412.9 220.9h0M418.0 244.1h0M477.4 137.2h0M536.0 114.0h0M508.3 144.0h0" stroke="#242424"/>
<path d="M475.8 178.3h0M513.4 106.7h0M424.1 236.4h0M576.0 71.0h0M438.4 189.0h0M451.7 205.5h0M338.6 317.8h0M402.0 250.5h0M562.4 63.5h0M485.4 166.4h0M357.3 300.5h0M431.2 225.7h0M291.8 350.4h0M514.7 129.5h0M520.0 135.5h0M496.5 160.7h0M470.3 191.1h0M393.5 239.9h0M314.1 339.7h0M581.4 78.9h0M456.8 193.1h0M506.9 150.2h0M522.7 117.0h0M345.5 313.4h0M538.3 91.1h0M498.2 118.9h0M458.2 195.6h0M581.0 78.2h0M497.2 156.0h0M391.8 266.5h0M290.7 357.3h0M455.6 206.0h0M539.2 111.7h0M420.1 202.6h0M473.1 187.2h0M527.7 98.1h0M501.5 125.9h0M503.6 104.6h0M563.9 86.1h0M284.3 354.8h0M531.9 102.3h0M526.7 89.5h0M499.9 112.7h0M300.5 346.4h0M486.7 165.8h0M321.7 332.0h0M278.8 371.3h0M468.1 184.1h0M528.1 86.0h0M417.7 227.6h0M299.6 349.1h0M542.5 91.5h0M287.3 371.4h0M563.2 67.4h0M491.2 125.3h0M481.9 172.2h0M497.1 120.2h0M439.5 210.3h0M495.0 162.0h0M449.0 178.1h0M485.0 167.2h0M473.8 157.7h0M531.5 123.5h0M392.2 261.4h0M489.6 149.5h0M293.5 352.6h0M562.0 95.0h0M275.5 365.2h0M468.5 197.4h0M499.7 151.1h0M487.4 174.4h0M283.9 366.8h0M486.8 150.6h0M464.7 195.3h0M497.9 155.8h0M535.2 100.6h0M539.8 74.1h0M506.3 134.5h0M519.6 136.2h0M526.7 87.5h0M417.4 235.3h0M522.3 133.1h0M470.4 177.9h0M404.3 241.8h0M530.9 133.2h0M579.0 65.2h0M418.2 227.3h0M319.5 342.4h0M500.4 116.3h0M284.1 365.8h0M292.1 352.6h0M547.5 114.4h0M543.2 89.0h0M551.6 110.8h0M524.2 97.5h0M452.7 201.8h0M482.7 136.1h0M534.2 89.2h0M476.9 177.7h0M556.5 103.0h0M512.2 111.3h0M506.8 113.0h0M543.6 103.7h0M468.1 189.9h0M458.4 196.7h0M537.3 86.8h0M266.1 372.3h0M494.7 155.3h0M481.9 144.2h0M462.8 199.8h0M464.8 191.0h0M260.2 382.2h0M467.3 189.8h0M289.4 353.0h0M284.7 356.9h0M480.4 140.2h0M478.2 180.1h0M547.1 79.9h0M521.2 134.1h0M447.5 209.6h0M391.9 262.7h0M497.1 156.5h0M331.3 330.6h0M412.9 236.1h0M467.2 192.7h0M343.4 292.6h0M444.3 194.9h0M456.0 194.2h0M271.0 369.5h0M513.7 96.9h0M562.1 63.9h0M524.4 133.5h0M517.2 133.6h0M507.4 148.5h0M563.4 63.6h0M470.8 181.9h0M520.2 140.6h0M434.6 192.9h0M513.0 126.7h0M531.7 108.9h0M283.9 356.0h0M540.1 84.8h0M500.5 129.8h0M485.2 133.0h0M496.1 130.6h0M288.7 354.2h0M504.7 147.0h0M476.9 148.8h0M558.2 91.4h0M528.2 96.7h0M579.4 76.2h0M491.1 160.0h0M557.0 98.3h0M455.3 207.3h0M410.0 223.3h0M451.7 206.2h0M497.5 114.2h0M536.3 79.3h0M453.7 198.4h0M470.0 193.7h0M390.3 238.7h0M500.8 129.2h0M437.5 191.1h0M307.6 340.7h0" stroke="#181818"/>
<path d="M556.7 74.2h0M516.3 131.2h0M519.2 136.7h0M565.5 63.1h0M556.9 76.2h0M497.9 154.8h0M520.0 103.8h0M432.2 224.2h0M594.9 60.7h0M552.6 107.5h0M566.2 88.3h0M449.9 177.1h0M588.5 63.0h0M542.4 117.0h0M288.6 361.5h0M538.8 83.4h0M484.1 140.6h0M565.6 81.9h0M318.8 339.3h0M262.8 376.4h0M581.1 68.8h0M325.1 337.3h0M328.1 331.3h0M534.8 121.6h0M568.3 92.8h0M520.7 113.2h0M524.4 112.6h0M579.6 80.8h0M509.2 131.4h0M502.4 138.6h0M570.6 86.4h0M479.6 180.6h0M554.3 107.7h0M327.9 332.1h0M478.5 178.7h0M472.6 181.9h0M567.6 95.7h0M560.1 78.2h0M501.9 128.7h0M285.1 362.5h0M544.1 124.7h0M568.1 61.2h0M564.4 98.1h0M581.9 81.8h0M451.0 181.2h0M431.5 194.6h0M466.5 189.2h0M525.4 119.6h0M438.6 225.2h0M492.3 125.8h0M564.9 93.2h0M515.4 135.4h0M281.2 365.7h0M299.9 346.2h0M429.3 207.5h0M443.1 210.9h0M265.9 383.7h0M456.6 197.8h0M477.1 148.0h0M540.1 96.3h0M593.7 63.2h0M520.3 134.8h0M467.0 150.8h0M486.4 138.1h0M598.1 62.5h0M525.1 135.1h0M495.0 155.2h0M525.2 116.8h0M401.9 224.1h0M573.4 88.6h0M552.0 74.1h0M529.7 103.0h0M534.2 118.2h0M527.0 113.6h0M488.2 132.9h0M464.0 192.4h0M383.2 242.5h0M493.7 128.5h0M527.3 129.0h0M437.6 215.5h0M549.7 104.5h0M585.4 77.2h0M558.2 72.5h0M350.8 273.9h0M555.9 68.5h0M494.1 145.8h0M505.0 129.0h0M477.1 140.1h0M540.0 92.8h0M580.6 71.5h0M548.3 73.3h0M268.8 375.2h0M481.1 156.1h0M494.5 160.7h0M553.7 107.5h0M443.4 183.1h0M543.4 79.3h0M488.5 137.3h0M558.5 65.4h0M565.7 83.4h0M429.4 196.2h0M481.1 136.0h0M265.3 384.8h0M543.0 89.8h0M431.7 223.8h0M565.6 96.1h0M324.8 332.8h0M580.8 64.6h0M550.3 110.2h0M480.0 136.7h0M542.5 81.1h0M594.9 57.0h0M521.4 112.6h0M509.3 149.8h0M306.5 342.9h0M493.3 121.0h0M521.0 122.4h0M431.1 222.6h0M586.4 69.0h0M599.7 51.6h0M570.6 93.3h0M521.9 120.7h0M495.3 158.4h0M315.3 344.1h0M330.7 329.6h0M506.2 140.1h0M482.9 174.9h0M535.6 85.8h0M537.6 84.6h0M504.9 125.3h0M530.0 121.0h0M566.0 61.0h0M591.4 57.7h0M304.7 348.4h0M513.4 142.4h0M556.6 91.5h0M520.3 125.9h0M493.5 161.8h0M311.5 349.4h0M506.3 141.6h0M570.1 92.3h0M539.5 108.6h0M525.3 100.0h0M551.5 110.8h0M450.6 204.7h0M517.8 133.8h0M523.2 103.3h0M516.7 118.9h0M564.0 89.9h0M484.0 130.4h0M567.3 95.8h0M493.8 140.6h0M559.4 102.3h0M567.3 94.9h0M546.0 71.6h0M487.0 133.0h0M595.5 49.1h0M499.7 130.9h0M418.8 231.7h0M546.2 109.0h0M535.5 86.9h0M566.7 87.8h0M278.0 367.8h0M561.8 64.9h0M435.9 184.3h0M280.7 368.9h0M484.4 133.5h0M549.6 83.1h0M491.0 166.4h0M360.8 294.8h0M331.7 329.8h0M441.4 209.1h0M309.2 351.3h0M490.9 162.3h0M476.2 186.5h0M439.4 214.2h0M542.2 120.8h0M543.6 103.7h0M284.6 359.6h0M524.1 115.0h0M468.8 177.5h0M280.3 358.8h0M522.2 120.7h0M308.2 346.2h0M556.3 100.3h0M556.8 100.1h0M443.6 207.9h0M439.0 215.7h0M570.8 90.5h0M541.6 106.1h0M440.1 213.2h0M541.0 115.5h0M511.2 144.0h0M588.1 67.7h0M531.5 83.8h0M595.9 49.1h0M564.7 65.6h0M316.8 335.3h0M590.3 60.0h0M478.4 136.9h0M492.5 117.1h0M532.5 123.2h0M556.5 105.3h0M587.8 54.6h0M600.5 56.4h0M512.9 137.7h0M480.4 145.0h0M501.5 127.4h0M293.5 374.5h0M519.3 104.4h0M464.2 197.9h0M530.7 136.3h0M540.2 122.2h0M518.8 108.6h0M498.1 132.1h0M559.4 99.3h0M479.8 142.4h0M529.4 105.0h0M523.3 115.9h0M568.5 94.8h0M490.1 137.9h0M525.2 99.8h0M487.6 138.8h0M435.1 199.5h0M520.2 136.1h0M598.8 49.6h0M533.3 87.7h0M587.2 64.2h0M485.2 131.4h0M554.8 104.8h0M556.2 75.7h0M533.1 130.8h0M530.4 125.3h0M474.6 153.5h0M530.8 108.1h0M317.5 341.3h0M446.9 207.7h0M579.3 52.1h0M543.4 119.5h0M457.9 201.7h0M549.1 108.4h0M596.8 63.6h0M547.4 70.2h0M540.3 83.2h0M507.4 140.4h0M412.0 232.8h0M533.4 98.0h0M574.9 88.7h0M597.7 56.5h0M581.0 51.6h0M570.8 83.3h0M559.4 94.7h0M539.4 109.5h0M560.4 85.6h0M555.0 79.1h0M478.2 175.4h0M588.0 60.4h0M529.9 86.7h0M556.8 90.6h0M571.5 92.9h0M476.0 150.4h0M284.9 381.2h0M458.6 200.0h0M391.7 251.1h0M578.3 81.3h0M556.8 95.8h0M522.2 138.3h0M584.5 58.6h0M488.8 140.2h0M310.0 346.8h0M448.2 194.3h0M322.5 333.1h0M580.1 63.1h0M477.8 183.9h0M539.4 91.2h0M503.8 154.0h0M540.5 107.7h0M550.1 110.2h0M558.2 66.5h0M299.9 344.8h0M456.4 193.2h0M476.5 181.1h0M529.8 106.6h0M500.9 154.7h0M521.9 109.8h0M594.6 53.9h0M517.4 107.0h0M591.1 68.0h0M450.1 206.4h0M330.7 326.7h0M556.8 72.6h0M590.2 60.4h0M591.1 52.0h0M475.7 156.7h0M322.6 338.0h0M589.6 61.6h0M520.6 101.3h0M525.2 96.9h0M511.0 123.3h0M549.7 89.1h0M258.9 380.2h0M552.1 82.1h0M482.8 174.8h0M325.2 333.7h0M525.2 135.8h0M542.5 87.1h0M477.0 158.9h0M528.0 116.2h0M323.0 336.0h0M480.8 137.0h0M264.8 376.2h0M480.4 180.9h0M529.1 123.3h0M531.3 126.3h0M508.3 131.3h0M514.7 131.6h0M468.5 186.4h0M509.9 119.4h0M464.9 178.0h0M294.9 351.8h0M516.2 127.8h0" stroke="#0c0c0c"/>
<path d="M500.7 157.1h0M532.7 127.1h0M537.7 84.0h0M521.1 109.9h0M507.7 125.4h0M571.4 84.4h0M468.0 191.4h0M548.4 109.6h0M532.9 88.5h0M521.1 118.0h0M596.4 64.3h0M565.1 89.5h0M332.2 324.4h0M444.4 207.9h0M580.8 69.4h0M527.4 103.3h0M597.1 62.4h0M556.1 106.0h0M437.3 202.7h0M508.2 153.3h0M531.0 130.5h0M417.9 237.4h0M457.2 195.0h0M573.4 71.4h0M556.7 107.7h0M443.9 210.3h0M589.8 72.1h0M560.0 97.7h0M433.4 223.7h0M507.3 99.0h0M515.5 134.0h0M599.1 54.1h0M535.1 119.5h0M508.7 125.9h0M528.6 107.7h0M265.2 377.5h0M549.9 70.8h0M567.2 86.7h0M588.2 72.4h0M586.0 59.1h0M553.4 98.4h0M328.7 333.5h0M483.6 133.5h0M591.9 68.3h0M349.3 274.4h0M313.3 333.2h0M411.8 214.6h0M523.6 135.4h0M507.9 127.1h0M595.4 66.5h0M524.9 119.9h0M570.5 82.5h0M485.4 168.4h0M389.7 234.0h0M533.7 100.8h0M498.5 141.1h0M552.2 104.6h0M466.0 170.3h0M333.5 329.7h0M445.7 195.7h0M558.0 67.6h0M506.6 152.3h0M423.9 209.9h0M568.6 88.1h0M517.7 107.7h0M535.8 85.9h0M519.5 117.4h0M517.2 142.1h0M517.4 114.2h0M573.8 80.4h0M551.8 105.9h0M580.7 50.9h0M551.4 79.2h0M569.3 92.8h0M517.4 143.1h0M569.8 83.2h0M527.4 127.9h0M559.1 93.0h0M526.1 127.2h0M544.7 88.8h0M497.4 145.7h0M535.3 89.0h0M323.7 337.8h0M518.0 126.8h0M585.0 59.3h0M511.9 150.2h0M589.9 67.4h0M464.1 185.7h0M450.7 208.0h0M461.8 169.0h0M326.4 333.4h0M569.3 93.0h0M523.3 137.8h0M466.8 164.8h0M549.2 103.2h0M485.2 169.3h0M523.7 131.8h0M592.8 66.8h0M548.0 76.6h0M323.8 331.1h0M430.9 223.6h0M503.6 131.2h0M526.3 128.5h0M518.4 116.5h0M542.6 85.3h0M533.9 86.2h0M281.6 367.4h0M512.9 128.4h0M475.1 176.0h0M504.4 123.3h0M527.6 113.4h0M518.4 139.6h0M580.0 79.5h0M519.5 135.0h0M519.1 107.1h0M323.0 338.5h0M327.0 328.8h0M482.2 168.7h0M534.0 87.7h0M582.3 62.7h0M450.5 204.8h0M511.8 128.8h0M323.5 336.7h0M590.8 69.1h0M477.3 175.0h0M306.9 348.2h0M543.9 89.3h0M555.6 80.5h0M511.3 125.9h0M494.4 136.2h0M532.0 93.8h0M518.2 112.7h0M544.3 85.7h0M550.3 100.4h0M546.7 100.6h0M561.6 93.1h0M583.2 77.2h0M576.1 71.1h0M577.1 86.2h0M543.6 91.9h0M569.4 84.0h0M544.8 112.7h0M531.1 102.9h0M558.9 74.3h0M548.4 101.8h0M550.2 113.3h0M532.7 102.7h0M517.1 124.2h0M555.1 107.9h0M578.2 69.6h0M550.2 77.6h0M562.9 86.0h0M528.0 113.4h0M596.1 50.3h0M310.7 341.1h0M585.5 75.2h0M479.8 178.0h0M510.3 141.2h0M585.8 72.3h0M325.0 336.9h0M564.8 89.2h0M567.8 60.2h0M575.6 55.2h0M544.9 80.4h0M582.9 77.9h0M544.0 86.8h0M441.6 218.0h0M312.5 342.7h0M552.0 75.3h0M489.1 172.8h0M313.2 347.4h0M498.9 121.7h0M430.9 227.0h0M558.4 101.2h0M492.1 162.1h0M584.8 67.5h0M594.8 46.3h0M269.3 369.1h0M444.8 220.3h0M519.6 125.7h0M454.7 204.7h0M288.7 376.9h0M300.4 347.6h0M306.9 358.3h0M540.8 81.8h0M575.6 79.5h0M524.4 135.7h0M321.5 337.4h0M473.0 177.4h0M472.1 158.1h0M450.1 209.6h0M496.6 163.4h0M330.1 329.2h0M323.9 330.4h0M542.8 107.4h0M492.6 133.7h0M269.8 380.9h0M571.7 88.9h0M541.8 80.3h0M477.9 158.4h0M460.0 195.6h0M599.5 57.1h0M447.3 198.2h0M531.8 96.4h0M268.0 376.6h0M467.4 172.8h0M543.8 113.5h0M456.4 181.3h0M584.9 76.5h0M505.0 117.1h0M513.6 147.5h0M518.8 107.3h0M521.4 139.0h0M556.4 92.7h0M262.2 381.2h0M317.0 341.1h0M571.2 90.3h0M473.0 163.6h0M592.6 58.2h0M520.2 123.7h0M532.3 99.6h0M476.3 177.4h0M543.6 113.4h0M522.2 107.1h0M555.6 67.5h0M530.4 103.9h0M521.6 135.5h0M519.4 111.5h0M274.8 370.7h0M498.8 126.2h0M546.8 107.8h0M513.4 144.8h0M492.4 161.5h0M261.6 379.6h0M498.1 133.6h0M567.0 58.8h0M515.1 119.0h0M513.4 114.8h0M585.0 76.4h0M574.9 55.7h0M519.6 95.4h0M532.5 101.9h0M586.3 70.8h0M528.4 99.6h0M266.9 383.7h0M541.5 106.3h0M596.7 57.4h0M423.4 210.0h0M592.7 66.4h0M543.1 85.5h0M317.9 343.9h0M496.5 133.0h0M582.0 61.8h0M487.1 137.1h0M583.8 46.9h0M522.7 105.7h0M354.4 284.3h0M562.4 68.6h0M557.2 102.9h0M512.9 127.0h0M498.0 156.5h0M537.2 114.1h0M538.9 118.3h0M499.0 131.4h0M518.9 111.4h0M532.2 90.6h0M492.1 138.7h0M514.4 144.4h0M567.4 90.1h0M518.8 118.2h0M555.4 104.5h0M447.5 204.4h0M542.8 85.7h0M527.2 112.4h0M390.5 232.9h0M574.8 53.4h0M551.0 72.3h0M460.2 200.6h0M486.9 153.8h0M529.4 106.3h0M434.4 218.4h0M488.6 164.9h0M589.1 70.2h0M489.4 128.6h0M521.0 136.5h0M497.7 131.8h0M567.3 84.4h0M553.6 93.2h0M580.2 82.8h0M491.0 137.9h0M535.4 118.7h0M515.3 146.5h0M578.4 52.5h0M579.7 70.6h0M549.2 76.2h0M602.0 55.8h0M537.7 84.7h0M510.6 117.7h0M503.7 121.8h0M518.3 118.9h0M519.8 122.4h0M540.4 97.1h0M439.7 210.2h0M565.4 62.8h0M458.6 200.3h0M592.3 61.0h0M552.3 71.1h0M498.9 112.1h0M481.4 162.8h0M329.7 327.3h0M320.3 337.8h0M472.3 180.0h0M271.4 376.9h0M542.4 118.4h0M566.8 61.2h0M278.6 377.2h0M495.5 118.4h0M464.4 170.7h0M517.0 126.9h0M546.8 101.4h0M398.6 239.2h0M404.9 220.3h0M501.0 143.2h0M549.2 79.8h0M537.8 97.3h0M575.6 72.1h0M518.7 106.8h0M569.8 59.7h0M559.8 87.9h0M535.7 125.3h0M528.7 123.1h0M487.9 175.2h0M516.7 127.0h0M579.3 51.6h0M388.1 257.9h0M476.0 153.5h0M499.6 123.9h0M454.6 192.1h0M509.7 128.2h0M492.6 124.7h0M432.2 223.1h0M538.3 95.8h0M598.3 52.2h0M474.3 190.0h0M525.3 100.3h0" stroke="#000000"/>
<path d="M330.3 311.0h0M223.5 451.4h0M287.7 341.0h0M413.8 216.6h0M397.1 243.5h0M387.0 275.9h0M222.7 452.8h0M309.1 319.2h0M271.1 361.3h0M392.0 241.5h0M258.6 375.0h0M291.9 352.4h0M380.5 259.8h0M306.6 326.1h0M350.3 288.4h0M371.8 248.1h0M340.0 307.4h0M372.4 252.6h0M246.0 435.0h0M155.2 519.6h0M178.5 499.1h0M342.2 307.5h0M391.1 236.6h0M353.2 272.5h0M145.6 522.4h0M359.8 263.3h0M390.8 246.7h0M355.7 281.2h0M213.0 467.2h0M190.9 477.1h0M397.6 245.2h0M334.6 291.1h0M201.9 472.1h0M301.2 334.2h0M280.9 348.9h0M301.5 333.5h0M297.4 329.8h0M380.6 269.0h0M379.0 254.9h0M296.3 330.5h0M298.3 328.7h0M317.6 317.7h0M309.4 325.3h0M204.3 470.4h0M331.3 296.2h0M337.4 294.2h0M360.9 272.1h0M312.1 326.7h0M383.2 244.7h0M356.1 277.7h0M356.3 280.6h0M175.6 501.6h0M313.5 325.2h0" stroke="#cccccc"/>
<path d="M385.9 274.7h0M372.6 271.7h0M313.7 319.6h0M344.8 295.3h0M383.1 239.2h0M409.3 241.4h0M384.5 261.6h0M403.8 247.3h0M348.2 290.4h0M317.2 326.9h0M322.1 310.6h0M307.1 325.2h0M403.7 228.0h0M320.0 316.7h0M315.8 338.3h0M350.1 276.6h0M372.8 275.5h0M351.5 300.3h0M358.1 293.5h0M374.6 279.3h0M318.7 317.0h0M223.5 452.8h0M270.9 357.7h0M309.0 331.0h0M317.2 322.7h0M329.8 323.4h0M344.0 290.0h0M379.7 262.9h0M358.2 286.7h0M281.6 367.3h0M433.0 208.6h0M241.6 438.2h0M270.5 360.2h0M307.6 330.5h0M266.4 369.4h0M220.4 457.6h0M319.7 344.9h0M382.8 241.5h0M324.7 323.3h0M293.4 345.1h0M416.0 245.6h0M332.1 295.1h0M374.6 262.4h0M253.1 377.7h0M384.9 237.3h0M421.4 216.9h0M270.8 364.9h0M403.0 216.6h0M348.7 289.3h0M335.2 290.3h0M312.0 322.2h0M388.8 270.9h0M149.5 494.3h0M312.6 325.9h0M287.3 362.5h0M393.7 248.4h0M209.9 467.2h0M302.9 322.1h0M402.5 248.9h0M378.8 250.7h0M306.2 338.6h0M322.1 300.2h0M148.4 499.7h0M280.9 371.1h0M394.0 246.8h0M136.2 525.6h0M339.7 276.4h0M363.0 269.7h0M366.7 273.0h0M140.1 501.3h0M392.9 232.7h0M404.1 236.2h0M341.9 298.5h0M174.5 498.2h0M402.8 241.5h0M232.5 447.3h0M356.2 265.2h0M411.5 216.1h0M375.0 266.8h0M277.7 350.0h0M424.1 225.0h0M336.5 322.8h0M360.9 280.8h0M392.2 239.8h0M386.3 261.6h0M318.7 321.6h0M310.0 323.5h0M423.8 214.7h0M331.8 289.6h0M369.0 279.0h0M336.3 288.1h0M216.1 465.3h0M253.0 379.8h0M305.8 332.3h0M332.6 286.0h0M302.6 331.7h0M362.3 266.9h0M157.1 513.1h0M296.4 336.5h0M415.8 213.3h0M366.7 264.0h0M407.5 246.2h0M403.1 222.6h0M376.0 252.7h0M289.9 344.5h0M375.5 282.8h0M333.9 287.9h0M275.8 361.0h0M341.7 282.0h0M339.5 300.2h0M389.6 250.6h0M376.3 280.1h0M292.5 333.8h0M302.2 362.9h0M343.6 286.1h0M410.4 232.5h0M214.1 466.4h0M319.1 324.6h0M190.1 481.9h0M342.6 277.7h0M377.5 283.5h0M136.9 529.4h0M343.9 289.7h0M140.7 500.4h0M321.4 313.4h0M384.2 274.0h0M124.4 529.6h0M379.3 249.9h0M316.2 319.3h0M301.1 333.6h0M393.3 236.4h0M397.1 246.6h0M414.8 215.1h0M360.9 266.9h0M419.8 218.5h0M232.5 441.2h0M329.5 316.5h0M187.6 488.0h0M279.4 351.4h0M389.0 237.0h0M431.3 216.2h0M407.8 215.0h0M380.4 255.5h0M377.0 266.9h0M321.2 300.5h0M372.7 270.1h0M387.9 259.9h0M350.3 267.9h0M400.3 253.1h0M300.9 323.1h0M362.3 283.9h0M262.4 416.6h0M356.4 285.6h0M119.0 534.5h0M327.2 293.4h0M364.4 262.7h0M292.9 352.0h0M360.1 282.8h0M224.6 401.7h0M290.7 369.0h0M282.7 355.1h0M265.8 366.2h0M263.1 372.1h0M158.4 512.4h0M388.3 248.7h0M353.9 276.8h0M389.8 237.1h0M330.3 315.3h0M374.7 272.7h0M375.5 278.3h0M411.4 243.9h0M383.8 234.6h0M292.6 344.5h0M207.6 468.1h0M348.9 313.1h0M378.8 247.7h0M324.6 315.6h0M338.9 314.6h0M253.9 380.1h0M382.3 245.5h0M398.7 248.4h0M313.9 310.6h0M400.5 236.0h0M306.2 315.5h0M384.5 254.4h0M331.1 294.2h0M201.6 476.7h0M346.4 298.2h0M342.4 281.3h0M273.5 362.5h0M347.7 270.2h0M355.6 280.5h0" stroke="#c0c0c0"/>
<path d="M264.1 372.1h0M423.0 239.1h0M383.9 262.8h0M296.8 346.5h0M453.2 191.5h0M370.4 270.9h0M380.0 248.6h0M185.2 485.1h0M258.6 374.5h0M283.1 368.8h0M400.4 244.7h0M327.6 303.8h0M150.8 498.5h0M451.7 211.8h0M312.5 335.7h0M334.2 301.1h0M320.0 316.9h0M315.5 307.3h0M330.9 318.0h0M337.0 286.2h0M383.9 256.5h0M379.5 273.0h0M155.2 512.4h0M298.9 362.6h0M426.6 217.1h0M385.3 264.7h0M387.2 245.7h0M424.8 214.2h0M291.7 362.9h0M216.0 411.5h0M352.1 295.5h0M229.3 444.1h0M367.0 283.7h0M350.3 276.1h0M382.8 272.5h0M339.7 308.3h0M315.3 312.9h0M390.6 241.0h0M214.3 462.4h0M215.9 411.1h0M330.0 308.0h0M143.8 501.5h0M363.5 287.7h0M240.4 441.2h0M396.3 249.7h0M326.3 325.7h0M271.2 359.3h0M360.8 292.6h0M280.9 352.3h0M388.7 236.7h0M345.9 275.7h0M272.1 406.7h0M333.5 324.2h0M365.3 270.6h0M378.9 272.3h0M353.6 300.6h0M441.9 216.8h0M371.9 287.9h0M366.8 262.7h0M310.0 324.2h0M160.1 501.4h0M350.8 301.2h0M382.3 267.4h0M367.3 271.8h0M359.5 283.3h0M285.7 347.4h0M308.1 323.8h0M286.8 345.2h0M329.5 316.8h0M199.3 472.1h0M462.5 174.9h0M281.1 373.8h0M421.1 214.5h0M340.5 275.3h0M262.2 373.4h0M263.9 371.0h0M173.9 480.1h0M348.0 286.3h0M390.1 237.1h0M340.5 296.2h0M373.2 278.9h0M432.4 228.6h0M307.2 344.3h0M346.3 295.8h0M326.0 313.5h0M293.1 344.4h0M242.1 390.6h0M477.7 182.4h0M358.6 267.5h0M332.6 283.3h0M405.3 243.9h0M407.3 250.7h0M381.1 280.4h0M328.1 308.6h0M340.2 310.2h0M359.6 261.5h0M367.9 285.3h0M170.9 502.4h0M342.2 280.3h0M303.0 327.8h0M503.4 146.1h0M353.0 306.4h0M191.3 475.8h0M319.2 345.7h0M388.6 250.8h0M293.5 356.7h0M228.1 450.4h0M387.8 243.4h0M381.3 251.2h0M225.2 451.1h0M443.3 188.5h0M366.9 268.4h0M403.3 236.3h0M328.5 301.1h0M390.2 251.9h0M388.4 262.4h0M353.1 298.3h0M286.3 346.5h0M176.3 493.8h0M327.6 322.1h0M359.7 264.6h0M359.2 285.1h0M422.4 216.9h0M280.2 355.8h0M231.4 446.1h0M391.4 249.8h0M316.8 310.8h0M203.2 476.1h0M384.1 253.4h0M363.3 265.2h0M298.0 328.4h0M324.4 298.3h0M390.5 258.3h0M377.8 250.9h0M374.6 269.4h0M337.3 299.0h0M414.6 205.9h0M342.2 306.4h0M487.4 152.5h0M328.0 297.1h0M142.1 505.4h0M360.2 269.2h0M295.4 331.8h0M325.0 339.3h0M427.4 222.0h0M237.5 438.0h0M354.0 284.8h0M233.6 439.8h0M366.6 259.3h0M395.5 262.4h0M405.1 238.8h0M359.1 294.4h0M339.7 285.3h0M397.3 255.2h0M438.1 200.9h0M250.9 432.3h0M396.4 258.0h0M334.2 286.3h0M314.6 324.7h0M288.6 348.5h0M367.3 271.7h0M431.1 217.5h0M293.9 341.4h0M406.5 255.5h0M344.1 302.5h0M412.0 236.2h0M304.9 337.7h0M333.4 301.5h0M304.3 332.2h0M277.5 351.0h0M285.7 340.0h0M325.3 307.2h0M337.5 286.8h0M482.9 162.3h0M410.6 221.0h0M169.2 505.2h0M415.3 205.5h0M141.5 503.6h0M387.3 274.3h0M385.3 246.2h0M423.9 233.6h0M292.6 368.3h0M361.9 271.9h0M364.0 268.0h0M219.6 456.2h0M418.1 238.1h0M182.6 486.6h0M349.6 297.3h0M294.2 372.8h0M362.4 262.5h0M417.2 237.0h0M330.8 322.6h0M158.8 510.2h0M375.6 261.7h0M374.6 262.2h0M482.4 159.5h0M357.9 302.7h0M487.4 146.9h0M378.3 274.4h0M283.9 354.4h0M414.8 246.6h0M390.2 242.5h0M342.7 279.5h0M271.9 354.5h0M391.6 265.9h0M292.1 334.9h0M296.3 327.3h0M399.2 244.2h0M330.4 317.6h0M441.9 221.5h0M327.9 299.3h0M346.3 278.7h0M336.5 290.4h0M331.6 317.5h0M365.2 275.2h0M344.2 293.1h0M437.8 208.5h0M273.5 356.2h0M379.7 243.7h0M385.2 272.8h0M235.7 394.2h0M396.2 239.6h0M364.4 283.4h0M363.9 258.9h0M239.6 440.6h0M379.5 267.7h0M382.1 236.7h0M322.5 328.1h0M386.5 263.2h0M366.0 260.5h0M404.9 245.2h0M236.1 437.1h0M284.7 367.1h0M404.6 247.1h0M345.8 273.9h0M278.6 374.0h0M349.8 312.4h0M386.6 239.4h0M393.4 228.0h0M280.8 353.3h0M355.8 271.7h0M323.6 328.3h0M323.0 334.6h0M332.0 282.1h0M300.6 331.8h0M129.4 530.6h0M289.6 366.6h0M181.0 490.4h0M315.8 333.7h0M335.4 322.9h0M339.3 299.1h0M163.3 487.1h0M414.6 238.8h0M326.2 330.0h0M352.7 270.1h0M336.2 280.2h0M348.6 294.8h0M380.9 274.3h0M317.5 328.2h0M395.9 225.7h0M195.7 476.8h0M386.3 264.5h0M279.7 348.2h0M331.4 298.7h0M289.2 380.7h0M373.8 255.3h0M330.6 292.0h0M431.0 227.2h0M373.6 259.0h0M388.4 243.0h0M228.4 447.4h0" stroke="#b4b4b4"/>
<path d="M294.4 334.6h0M389.9 271.1h0M157.6 491.5h0M400.2 257.8h0M200.6 469.3h0M403.3 222.8h0M384.2 273.1h0M225.2 444.2h0M414.3 234.0h0M461.4 177.4h0M311.6 340.8h0M223.2 459.0h0M255.2 376.6h0M382.5 263.7h0M301.8 334.7h0M369.2 287.4h0M391.1 258.4h0M327.2 337.3h0M392.2 247.1h0M177.4 490.5h0M223.8 446.1h0M428.4 219.3h0M163.4 486.0h0M229.0 443.9h0M254.8 423.5h0M373.3 265.7h0M293.6 345.0h0M326.7 313.1h0M155.1 490.5h0M409.3 236.7h0M175.6 493.0h0M403.1 230.1h0M314.9 318.7h0M302.5 344.6h0M281.7 349.2h0M388.5 268.8h0M373.8 270.5h0M232.9 402.6h0M393.6 227.5h0M467.4 174.6h0M344.4 280.6h0M314.1 320.4h0M382.2 269.8h0M292.7 340.1h0M460.2 177.4h0M157.5 488.6h0M282.5 390.5h0M332.7 325.8h0M333.0 305.7h0M410.8 219.1h0M288.2 339.3h0M366.0 290.3h0M336.7 323.4h0M347.2 304.6h0M151.7 494.5h0M331.5 299.1h0M369.7 255.4h0M337.4 280.0h0M327.5 320.2h0M378.6 249.6h0M207.4 466.3h0M353.3 295.5h0M375.7 254.7h0M406.1 211.2h0M294.5 367.3h0M375.5 272.2h0M390.0 248.0h0M367.9 289.1h0M394.8 248.8h0M417.1 238.8h0M243.0 431.0h0M296.5 356.2h0M323.8 304.2h0M275.6 397.8h0M390.7 235.1h0M235.2 397.2h0M220.6 448.8h0M365.0 280.6h0M209.3 466.0h0M315.5 320.1h0M294.3 369.0h0M373.5 255.8h0M348.5 279.8h0M392.7 228.8h0M316.9 312.6h0M268.1 361.7h0M355.8 283.5h0M414.1 208.3h0M235.9 432.8h0M376.0 284.9h0M193.3 481.9h0M247.2 434.1h0M325.1 317.1h0M377.3 251.7h0M275.0 355.5h0M332.5 315.4h0M337.0 299.4h0M183.5 472.2h0M356.0 277.4h0M204.2 462.8h0M346.1 277.4h0M360.0 290.4h0M307.1 330.5h0M369.9 263.0h0M155.4 490.9h0M380.4 276.5h0M415.0 234.5h0M271.4 364.7h0M352.3 267.3h0M180.9 473.8h0M310.6 315.4h0M460.9 201.6h0M487.5 167.4h0M165.9 495.0h0M357.6 261.1h0M409.7 248.1h0M432.9 228.4h0M209.9 441.8h0M217.4 456.7h0M353.5 267.3h0M323.6 317.6h0M326.9 337.5h0M220.3 462.8h0M383.5 270.0h0M212.8 464.4h0M204.9 461.4h0M489.1 156.4h0M383.5 261.7h0M162.6 499.7h0M433.5 206.2h0M293.1 335.2h0M288.2 381.4h0M383.1 248.1h0M258.3 419.1h0M478.0 155.4h0M267.1 363.5h0M373.9 288.5h0M367.3 255.4h0M482.3 148.9h0M245.0 429.1h0M367.0 257.5h0M296.6 363.3h0M358.0 262.5h0M383.6 238.8h0M243.6 430.2h0M216.8 450.9h0M235.8 392.8h0M388.0 242.2h0M372.2 259.7h0M258.7 375.2h0M380.9 262.1h0M180.5 485.1h0M267.4 361.1h0M335.7 279.6h0M253.6 423.4h0M343.3 294.2h0M375.0 263.1h0M254.9 412.0h0M315.7 336.1h0M233.8 398.4h0M325.9 338.2h0M415.7 244.6h0M304.8 335.3h0M325.1 311.4h0M265.1 414.1h0M457.7 178.8h0M383.4 256.1h0M330.6 301.6h0M304.8 330.9h0M364.2 271.0h0M317.5 311.3h0M154.1 508.6h0M265.7 363.6h0M221.3 460.4h0M365.1 257.7h0M375.2 268.5h0M347.7 283.7h0M330.5 327.4h0M393.1 245.9h0M347.7 302.4h0M297.4 363.4h0M420.0 242.8h0M389.5 242.3h0M359.5 285.4h0M243.7 387.8h0M357.3 289.2h0M316.4 305.9h0M271.9 381.8h0M339.5 299.8h0M158.8 504.6h0M300.0 336.0h0M337.3 284.0h0M285.8 348.8h0M432.7 215.6h0M337.3 296.1h0M359.7 278.7h0M418.4 222.8h0M391.2 259.0h0M162.1 488.6h0M432.1 229.3h0M148.8 494.5h0M293.5 365.7h0M270.6 399.0h0M314.1 317.4h0M197.8 475.9h0M316.1 347.0h0M251.3 422.6h0M376.5 265.1h0M468.8 181.0h0M152.1 498.1h0M331.3 317.0h0M229.1 449.8h0M335.2 303.0h0M369.0 264.2h0M262.7 412.4h0M366.7 291.9h0M376.9 246.3h0M419.4 221.9h0M323.2 330.9h0M321.3 341.7h0M165.5 482.2h0M328.9 313.5h0M341.9 273.7h0M318.4 330.6h0M339.4 290.7h0M391.9 270.3h0M374.0 272.7h0M488.5 161.0h0M153.6 492.3h0M366.8 289.7h0M318.1 335.5h0M252.9 420.6h0M224.9 453.5h0M276.4 374.7h0M289.6 337.2h0M342.3 310.6h0M314.9 333.8h0M355.0 270.1h0M373.0 273.9h0M317.4 337.7h0M182.0 483.4h0M468.5 172.5h0M361.0 299.6h0M241.1 426.1h0M375.2 283.5h0M354.4 284.9h0M210.6 456.1h0M268.5 364.3h0M316.5 317.1h0M383.0 236.1h0M294.3 343.3h0M453.4 192.0h0M237.0 438.3h0M480.1 160.9h0M390.3 254.1h0M269.0 361.3h0M218.8 457.3h0M292.4 339.9h0M412.4 231.9h0M390.5 251.2h0M373.9 258.3h0M465.1 194.8h0M368.2 288.5h0M360.5 258.0h0M405.2 251.5h0M219.4 416.6h0M428.5 229.0h0M155.6 489.5h0M317.0 347.6h0M439.9 213.7h0M252.8 382.1h0M319.4 325.0h0M297.8 362.5h0" stroke="#a8a8a8"/>
<path d="M252.0 428.9h0M476.1 154.4h0M491.1 170.6h0M473.1 165.8h0M175.9 469.1h0M221.5 456.8h0M266.2 406.6h0M290.7 369.8h0M276.9 359.5h0M299.4 356.8h0M398.7 233.5h0M258.3 407.5h0M431.8 218.7h0M383.0 278.7h0M226.7 447.3h0M357.5 263.6h0M407.3 220.0h0M172.4 476.8h0M353.1 284.9h0M342.2 285.9h0M332.6 302.7h0M352.3 286.2h0M370.1 258.7h0M181.7 468.0h0M166.0 484.2h0M188.9 482.7h0M283.1 384.0h0M176.2 488.0h0M483.4 177.4h0M259.4 415.7h0M170.8 483.1h0M428.4 220.3h0M404.3 258.2h0M367.8 265.1h0M424.8 219.1h0M229.6 439.1h0M176.4 476.1h0M236.6 428.6h0M181.1 487.2h0M168.3 481.7h0M396.5 265.8h0M413.5 228.2h0M404.7 246.1h0M448.0 189.1h0M181.2 472.8h0M164.8 484.7h0M205.8 467.5h0M271.7 402.8h0M435.7 210.4h0M412.6 239.0h0M246.5 423.2h0M385.0 276.8h0M316.1 336.8h0M426.1 228.6h0M414.5 240.9h0M392.4 250.0h0M399.6 253.3h0M173.4 472.0h0M417.3 236.0h0M355.4 292.6h0M425.2 225.5h0M257.3 421.1h0M487.3 170.0h0M291.3 376.2h0M283.0 390.6h0M408.5 250.3h0M287.3 386.3h0M331.4 294.0h0M404.9 256.1h0M263.7 415.8h0M212.1 454.0h0M177.7 473.1h0M417.6 232.3h0M271.7 361.8h0M393.8 261.2h0M372.9 283.4h0M338.2 315.2h0M212.6 460.2h0M249.5 425.2h0M183.7 480.7h0M446.2 196.3h0M264.4 401.9h0M428.9 210.3h0M310.7 326.0h0M427.4 221.0h0M406.0 241.3h0M237.5 439.4h0M245.0 427.4h0M322.4 315.0h0M326.2 322.0h0M365.5 279.9h0M414.6 219.7h0M256.4 420.8h0M330.5 330.7h0M188.7 467.1h0M316.6 304.2h0M257.7 419.3h0M294.1 341.2h0M241.9 431.7h0M490.6 152.9h0M407.9 244.0h0M180.8 484.1h0M201.2 471.5h0M448.4 194.7h0M182.1 484.1h0M164.6 485.7h0M166.4 479.4h0M281.6 390.8h0M217.1 450.2h0M466.5 178.5h0M416.9 225.0h0M356.4 292.1h0M438.6 214.4h0M414.5 243.0h0M230.5 437.4h0M440.6 188.7h0M329.2 334.2h0M346.0 311.8h0M365.4 275.9h0M443.3 193.2h0M397.4 253.4h0M167.7 476.3h0M358.5 301.1h0M427.7 213.3h0M441.8 195.9h0M437.3 215.7h0M362.3 266.2h0M423.9 226.8h0M175.7 476.5h0M401.0 224.7h0M215.1 462.0h0M253.4 414.9h0M451.7 173.1h0M259.7 415.8h0M248.3 433.8h0M330.0 328.5h0M439.9 221.7h0M287.2 385.0h0M263.0 409.1h0M286.2 390.3h0M308.2 317.6h0M269.1 405.1h0M332.1 318.9h0M227.7 438.3h0M267.1 408.9h0M412.1 208.2h0M400.6 240.7h0M456.9 191.8h0M399.8 230.5h0M357.9 299.1h0M321.0 330.4h0M290.0 362.2h0M343.2 321.7h0M178.3 486.0h0M394.9 244.9h0M371.0 269.0h0M271.5 406.0h0M200.8 467.7h0M303.7 329.2h0M315.1 334.1h0M397.8 234.3h0M155.8 489.9h0M406.4 249.7h0M404.3 254.0h0M183.8 482.1h0M203.0 462.0h0M256.2 421.9h0M332.2 303.5h0M466.0 194.7h0M345.2 298.1h0M430.4 202.1h0M281.7 395.1h0" stroke="#9c9c9c"/>
<path d="M284.6 388.0h0M408.4 225.3h0M287.6 376.0h0M440.7 185.7h0M373.4 260.5h0M473.8 155.8h0M253.3 427.2h0M275.0 380.2h0M260.4 410.0h0M286.0 378.7h0M278.5 398.3h0M270.9 399.3h0M266.9 392.9h0M244.6 423.0h0M229.6 439.9h0M477.8 148.7h0M342.6 309.9h0M268.3 390.5h0M454.6 168.2h0M188.0 466.0h0M319.8 313.0h0M224.2 441.3h0M361.5 266.8h0M493.7 149.0h0M328.7 314.3h0M332.3 284.1h0M203.6 446.0h0M265.4 399.5h0M352.4 310.3h0M367.4 278.2h0M452.8 192.8h0M175.3 474.9h0M186.3 466.7h0M188.5 465.8h0M188.8 463.1h0M440.2 200.4h0M302.0 363.9h0M272.3 394.1h0M482.5 166.0h0M340.9 303.0h0M374.6 281.2h0M191.2 462.9h0M256.5 408.0h0M347.9 308.3h0M332.7 299.7h0M391.4 243.2h0M269.0 389.1h0M213.7 452.0h0M265.0 404.0h0M297.8 333.1h0M307.3 356.0h0M389.4 238.0h0M408.1 251.4h0M275.6 398.9h0M374.1 250.3h0M443.2 184.5h0M442.0 197.0h0M415.8 240.7h0M369.8 249.8h0M333.3 321.5h0M259.5 415.4h0M202.9 448.1h0M330.8 326.5h0M185.0 459.5h0M368.3 268.0h0M333.5 301.5h0M194.9 453.9h0M196.1 457.2h0M220.5 433.7h0M445.8 192.7h0M226.3 426.8h0M218.1 450.4h0M222.6 431.9h0M204.6 470.9h0M482.4 161.3h0M268.9 401.4h0M267.4 405.4h0M381.8 265.0h0M284.4 340.7h0M243.1 422.3h0M181.7 484.4h0M356.3 288.6h0M232.1 440.5h0M278.5 389.3h0M259.5 409.0h0M475.0 155.1h0M326.7 314.5h0M185.5 461.8h0M232.1 432.3h0M365.9 284.9h0M274.6 388.4h0M382.3 245.1h0M203.2 442.5h0M374.4 275.3h0M287.0 388.9h0M242.5 425.6h0M294.5 366.1h0M375.5 280.4h0M481.3 166.3h0M307.1 357.3h0M278.2 390.7h0M452.2 189.8h0M458.9 188.1h0M282.8 389.3h0M192.1 460.2h0M240.7 428.2h0M453.0 188.8h0M334.2 300.5h0M329.9 284.6h0M158.0 490.3h0M313.3 309.2h0M314.5 308.3h0M283.4 389.8h0M230.9 439.1h0M346.7 284.7h0M336.4 316.0h0M378.3 266.9h0M190.8 465.3h0M294.0 349.6h0M429.3 197.6h0M276.5 397.1h0M185.9 469.8h0M282.4 376.2h0M248.8 422.6h0M203.7 440.0h0M249.2 414.5h0M258.0 407.2h0M438.2 219.9h0M288.8 364.7h0M291.4 341.2h0M346.6 310.5h0M315.7 325.8h0M268.7 402.8h0M259.2 409.8h0M288.1 387.3h0M251.7 411.4h0M441.7 185.1h0M170.8 475.7h0M418.0 237.3h0M236.5 429.3h0M163.7 485.6h0M188.5 455.2h0M204.4 466.3h0M400.9 240.7h0M256.1 409.5h0M269.4 367.2h0M256.8 413.5h0M331.2 331.7h0M231.3 441.4h0" stroke="#909090"/>
<path d="M196.8 448.7h0M480.3 166.6h0M174.2 468.6h0M230.4 423.5h0M355.8 276.9h0M264.8 406.5h0M266.1 397.6h0M268.7 396.3h0M255.0 411.9h0M208.8 447.7h0M481.9 148.4h0M258.4 403.9h0M357.9 302.3h0M264.0 400.3h0M278.9 383.4h0M345.1 313.0h0M283.9 386.7h0M336.2 290.6h0M273.0 401.4h0M345.8 311.9h0M349.7 272.6h0M209.1 435.7h0M191.7 454.0h0M466.9 180.3h0M444.0 200.2h0M475.1 154.2h0M202.0 450.4h0M242.0 432.8h0M171.5 482.1h0M242.9 418.5h0M396.4 266.6h0M295.2 368.1h0M471.7 151.7h0M346.0 279.5h0M352.8 302.6h0M322.0 343.0h0M275.2 402.8h0M428.2 199.8h0M406.8 219.5h0M379.0 245.5h0M230.9 436.1h0M387.7 254.4h0M470.6 175.3h0M176.5 475.4h0M432.6 229.7h0M355.5 303.4h0M388.5 266.2h0M461.0 186.6h0M335.7 309.5h0M472.7 155.0h0M184.1 461.8h0M184.7 471.0h0M185.7 469.9h0M188.5 460.2h0M463.2 155.0h0M305.8 333.5h0M370.9 261.9h0M195.2 461.0h0M301.9 364.1h0M352.5 293.4h0M369.5 270.6h0M297.6 365.2h0M369.8 293.9h0M346.4 311.2h0M288.2 367.7h0M290.3 368.3h0M200.0 468.3h0M488.0 159.9h0M281.7 375.9h0M335.5 297.7h0M186.9 469.2h0M271.1 394.8h0M261.7 402.7h0M308.9 355.3h0M322.5 318.3h0M287.2 389.2h0M369.3 280.4h0M327.5 314.9h0M332.4 330.6h0M214.4 438.9h0M255.1 413.9h0M346.8 311.3h0M420.0 216.4h0M277.3 391.7h0M206.2 451.0h0M186.9 462.2h0M192.7 462.2h0M196.1 459.6h0M442.0 186.5h0M277.3 378.7h0M341.7 311.4h0M203.1 442.3h0M307.5 324.1h0M221.7 421.7h0M269.3 393.9h0M299.5 325.9h0M293.6 370.2h0M327.9 326.6h0M483.4 160.4h0M371.7 275.5h0M446.3 177.8h0M387.4 254.8h0M452.1 171.0h0M178.1 468.4h0M425.3 200.4h0M206.1 439.5h0M282.8 379.7h0M357.8 276.1h0M425.7 209.1h0M453.4 170.1h0M333.3 282.8h0M321.4 319.4h0M290.3 371.6h0M255.0 410.1h0M256.3 413.3h0M230.1 444.3h0M372.0 261.1h0M262.3 410.9h0M303.9 322.8h0M299.6 326.8h0M194.2 449.9h0M259.2 406.1h0M271.9 398.8h0M343.1 317.8h0M318.8 331.7h0M393.7 236.5h0M251.2 419.6h0M447.0 177.5h0M374.3 251.4h0M377.7 246.7h0M346.2 306.4h0M181.7 463.0h0M209.7 439.5h0M277.1 397.1h0M284.9 369.6h0M303.5 360.9h0M334.6 329.3h0M477.3 169.1h0M190.9 463.4h0M288.9 364.3h0M269.1 396.2h0M379.9 256.0h0M297.0 369.2h0M476.4 152.1h0M190.3 463.2h0" stroke="#848484"/>
<path d="M187.8 457.3h0M395.0 265.3h0M264.4 402.8h0M222.3 421.9h0M291.0 340.4h0M380.2 245.0h0M334.8 322.2h0M431.3 198.6h0M280.9 376.8h0M455.1 176.9h0M343.9 281.3h0M348.2 316.2h0M482.6 157.0h0M277.9 387.9h0M345.3 283.7h0M278.7 377.7h0M274.5 359.5h0M262.3 396.7h0M423.6 222.0h0M402.2 235.1h0M258.7 402.5h0M350.6 285.3h0M208.0 434.3h0M289.3 368.0h0M316.0 333.2h0M467.7 177.4h0M369.6 252.2h0M442.3 202.4h0M443.6 181.6h0M393.7 258.5h0M372.2 254.6h0M394.2 244.6h0M363.6 268.3h0M263.3 398.9h0M236.4 427.9h0M421.9 220.5h0M257.1 372.0h0M273.0 365.3h0M234.3 409.0h0M427.0 230.9h0M261.5 397.5h0M394.5 262.2h0M205.3 447.8h0M345.8 286.4h0M279.1 384.4h0M192.7 462.1h0M405.2 231.0h0M268.8 386.0h0M302.8 363.4h0M206.6 442.8h0M245.6 422.4h0M274.5 383.6h0M380.9 263.8h0M381.9 243.8h0M332.5 290.8h0M344.3 276.7h0M332.8 284.4h0M277.4 384.7h0M416.7 226.7h0M300.8 357.2h0M343.5 282.6h0M312.9 352.5h0M466.1 181.2h0M374.6 280.1h0M266.6 400.0h0M429.4 191.7h0M296.4 334.8h0M183.7 460.3h0M413.3 215.2h0M263.5 407.7h0M352.0 290.7h0M414.2 206.8h0M248.9 418.9h0M301.6 325.0h0M292.7 345.5h0M414.0 228.2h0M372.8 288.4h0M264.4 395.3h0M327.1 326.2h0M395.8 240.9h0M369.2 266.9h0M271.4 392.8h0M301.4 355.9h0M217.2 433.9h0M254.3 410.4h0M413.5 240.3h0M402.6 234.3h0M277.6 352.8h0M231.2 422.7h0M490.9 156.8h0M335.2 320.9h0M383.3 246.7h0M424.0 205.0h0M344.6 287.3h0M312.5 315.0h0M216.9 436.2h0M335.7 292.8h0M467.8 177.7h0M289.3 381.0h0M328.3 328.3h0M350.3 269.8h0M308.0 329.5h0M200.9 444.2h0M364.5 281.9h0M497.3 146.3h0M234.9 429.6h0M317.6 330.9h0M300.0 358.3h0M314.6 310.0h0M263.3 397.6h0M441.2 183.3h0M431.4 189.8h0M460.6 163.0h0M199.3 452.5h0M446.6 187.5h0M234.2 417.5h0M411.8 226.5h0M229.2 425.4h0M452.7 178.4h0M363.6 268.3h0M435.0 226.2h0M360.2 286.2h0M248.0 417.4h0M468.7 191.7h0M321.3 327.9h0M381.2 258.0h0M196.0 457.5h0M433.0 196.7h0M413.0 241.3h0M275.5 387.4h0M312.3 353.9h0M351.6 314.0h0M416.8 208.1h0M273.6 390.4h0M206.0 443.6h0M471.5 157.6h0M398.5 224.4h0M346.2 311.9h0M388.6 267.5h0M299.4 332.8h0" stroke="#787878"/>
<path d="M479.0 180.9h0M436.6 192.7h0M237.7 401.9h0M403.7 247.1h0M243.9 399.5h0M431.4 211.9h0M220.4 421.4h0M411.3 242.8h0M237.0 410.7h0M273.2 384.1h0M433.1 218.8h0M276.9 357.2h0M276.5 375.1h0M424.3 202.9h0M488.9 149.4h0M212.4 440.1h0M390.4 265.2h0M322.7 299.5h0M233.0 414.1h0M210.2 442.4h0M498.3 145.2h0M240.4 413.3h0M472.4 171.7h0M410.8 243.7h0M221.9 426.6h0M463.4 160.8h0M395.0 227.4h0M434.7 194.6h0M461.9 161.6h0M226.8 424.9h0M301.5 350.0h0M200.9 450.9h0M377.3 245.9h0M462.2 160.3h0M242.0 401.5h0M478.5 182.4h0M217.7 425.0h0M421.6 215.4h0M241.6 407.1h0M413.3 241.0h0M202.8 455.0h0M216.3 427.6h0M390.9 249.8h0M450.7 212.6h0M415.4 204.1h0M487.8 153.2h0M225.2 431.2h0M438.3 211.5h0M410.6 213.0h0M299.6 342.3h0M359.3 292.3h0M455.9 182.1h0M278.4 381.5h0M326.0 323.6h0M410.7 231.8h0M428.1 217.3h0M447.3 200.4h0M234.3 411.7h0M343.9 319.0h0M479.1 177.2h0M206.1 435.3h0M280.3 383.2h0M193.1 457.2h0M219.9 423.2h0M495.6 148.9h0M234.1 413.6h0M207.8 442.0h0M218.4 437.4h0M249.2 396.0h0M334.3 323.4h0M395.4 227.0h0M217.3 434.7h0M494.8 167.1h0M269.0 397.1h0M409.8 246.4h0M223.7 424.7h0M215.5 437.1h0M335.9 308.3h0M420.2 236.0h0M300.3 362.6h0M479.9 166.0h0M416.1 203.0h0M303.7 360.8h0M219.7 435.8h0M211.8 429.6h0M485.4 163.0h0M232.3 409.6h0M503.1 149.3h0M319.0 315.3h0M254.4 394.4h0M238.4 404.4h0M459.8 180.4h0M204.3 442.2h0M302.2 361.7h0M208.1 440.3h0M282.8 381.9h0M352.8 302.9h0M458.9 170.1h0M274.7 380.1h0M192.2 457.2h0M278.2 351.3h0M451.8 211.6h0M211.7 438.6h0M325.2 331.1h0M241.6 411.9h0M473.2 170.9h0M209.1 435.4h0M351.4 284.8h0M322.1 332.2h0M472.4 158.2h0M436.7 201.3h0M275.6 379.5h0M228.5 418.0h0M469.1 160.8h0M219.7 429.2h0M278.6 347.8h0M469.4 161.1h0M440.7 182.1h0" stroke="#6c6c6c"/>
<path d="M431.8 217.5h0M451.8 175.0h0M400.4 225.9h0M230.2 411.9h0M487.8 141.1h0M221.8 419.2h0M427.9 203.1h0M223.5 420.7h0M458.8 184.4h0M448.5 171.3h0M247.4 396.6h0M367.0 284.3h0M232.3 415.0h0M234.3 417.6h0M245.8 403.0h0M232.1 413.8h0M483.0 154.3h0M227.0 420.1h0M286.0 377.7h0M512.8 134.8h0M439.4 185.1h0M248.7 394.3h0M450.3 196.8h0M225.4 431.9h0M444.4 215.6h0M221.5 429.5h0M428.5 200.4h0M502.7 135.2h0M411.7 212.0h0M241.4 411.3h0M221.2 420.0h0M220.6 422.5h0M428.3 202.2h0M515.3 142.7h0M406.8 223.3h0M453.9 170.4h0M390.6 258.8h0M514.1 134.4h0M446.5 182.0h0M432.6 217.4h0M480.3 161.2h0M424.7 203.2h0M223.1 427.1h0M480.7 154.1h0M461.5 161.8h0M198.9 444.9h0M462.2 167.6h0M448.7 180.4h0M433.9 188.7h0M451.6 171.8h0M262.7 397.7h0M240.2 406.4h0M278.5 354.0h0M244.1 409.8h0M401.0 221.1h0M236.3 412.5h0M447.0 187.9h0M467.2 151.7h0M415.8 243.6h0M249.2 398.8h0M481.1 173.9h0M264.8 394.8h0M243.4 401.2h0M486.9 166.5h0M450.8 184.8h0M208.7 440.7h0M413.6 231.7h0M470.6 175.8h0M421.0 219.8h0M479.3 178.7h0M417.3 213.2h0M213.4 428.8h0M232.0 421.6h0M223.0 433.4h0M244.7 403.3h0M237.5 410.4h0M249.3 397.7h0M257.7 388.9h0M238.5 401.9h0M233.3 412.7h0M389.1 262.9h0M226.9 413.9h0M245.3 407.6h0M491.4 156.4h0M452.0 187.8h0M457.4 174.6h0" stroke="#606060"/>
<path d="M263.4 386.4h0M467.1 149.7h0M451.7 177.5h0M225.4 421.2h0M499.3 132.8h0M472.1 152.2h0M518.9 133.2h0M426.6 195.6h0M413.2 209.9h0M478.0 180.9h0M469.6 146.8h0M514.9 137.2h0M504.8 131.0h0M415.5 235.4h0M426.0 197.8h0M436.7 185.5h0M502.4 130.3h0M480.5 174.3h0M412.0 211.7h0M425.2 200.4h0M479.6 174.9h0M418.5 213.1h0M462.2 197.6h0M486.2 143.2h0M254.6 388.6h0M256.0 393.7h0M437.7 183.0h0M273.7 377.4h0M232.1 414.9h0M503.8 132.1h0M388.9 228.7h0M234.2 412.1h0M435.6 197.3h0M265.8 379.0h0M242.1 412.2h0M482.8 171.8h0M260.8 381.2h0M259.3 379.4h0M441.2 183.4h0M264.1 386.0h0M452.7 186.9h0M421.2 236.0h0M240.7 407.4h0M472.9 155.4h0M236.4 404.3h0M255.9 390.4h0M269.7 379.3h0M242.9 404.9h0M482.1 145.6h0M439.5 191.4h0M448.2 177.0h0M251.4 395.5h0M442.2 182.2h0M446.5 186.4h0M299.5 346.2h0M233.5 418.8h0M437.5 183.3h0M493.2 156.9h0M469.9 159.4h0M460.6 166.8h0M497.1 161.3h0M485.8 140.3h0M456.6 184.5h0M481.8 137.6h0M253.0 396.6h0" stroke="#545454"/>
<path d="M268.2 373.1h0M257.1 388.0h0M258.4 391.1h0M516.6 135.1h0M442.0 212.2h0M259.2 385.5h0M481.9 174.8h0M265.6 385.1h0M492.4 133.5h0M478.8 151.5h0M280.6 367.7h0M251.4 401.6h0M463.4 168.9h0M431.9 198.0h0M253.4 392.6h0M430.9 231.1h0M483.5 169.3h0M460.9 198.1h0M250.3 399.8h0M517.8 102.6h0M410.1 213.1h0M521.1 96.1h0M299.6 346.1h0M449.3 211.0h0M264.5 386.1h0M446.9 176.1h0M446.4 175.4h0M266.2 374.2h0M460.3 167.7h0M452.8 168.8h0M494.2 124.5h0M511.6 142.9h0M430.7 200.4h0M270.4 368.2h0M248.1 390.3h0M525.4 132.1h0M253.1 386.9h0M428.1 198.1h0M247.2 403.3h0M470.6 157.0h0M258.0 382.5h0M477.1 163.7h0M263.5 380.8h0M492.7 140.7h0M502.3 113.9h0M246.1 391.9h0M514.9 141.5h0M493.3 134.3h0M534.8 114.8h0M246.0 401.0h0M482.0 160.5h0M293.4 349.3h0M429.9 229.9h0M438.1 188.5h0M230.9 412.9h0M438.9 187.5h0M257.0 394.7h0M452.6 183.3h0" stroke="#484848"/>
<path d="M260.1 390.7h0M514.2 106.6h0M460.5 171.7h0M279.8 364.4h0M524.7 127.4h0M248.6 391.4h0M524.7 127.0h0M288.9 355.6h0M447.8 177.0h0M467.6 158.5h0M529.9 123.8h0M509.6 99.1h0M475.8 146.9h0M537.0 102.0h0M510.2 144.6h0M486.7 140.4h0M495.0 140.6h0M310.8 344.5h0M528.3 137.6h0M474.1 158.8h0M283.4 362.4h0M477.5 153.4h0M502.0 155.9h0M313.6 326.3h0M262.0 385.8h0M558.0 66.1h0M246.7 393.9h0M551.3 78.9h0M501.9 116.1h0M263.2 382.1h0M599.3 49.0h0M510.1 138.4h0M545.0 88.1h0M489.9 137.3h0M273.5 371.8h0M514.4 98.2h0M265.1 378.8h0M435.0 189.3h0M524.0 104.2h0M540.9 85.0h0M438.8 178.4h0M489.2 140.2h0M531.2 129.4h0M330.4 330.5h0M520.5 133.7h0M539.9 120.6h0M457.1 164.8h0M514.8 136.3h0M520.4 101.2h0M450.4 176.7h0M518.1 133.9h0M473.5 181.7h0M466.4 161.5h0M476.6 154.3h0M505.4 136.6h0M487.4 141.1h0M280.4 360.4h0M248.6 389.0h0M510.8 143.8h0M559.0 72.6h0M589.4 56.8h0M479.8 143.0h0M501.3 142.3h0" stroke="#3c3c3c"/>
<path d="M579.2 74.1h0M249.8 403.4h0M534.0 95.6h0M479.1 138.7h0M575.5 73.9h0M375.5 270.2h0M269.5 375.7h0M558.7 96.4h0M528.1 111.2h0M377.6 266.4h0M285.9 360.2h0M258.5 381.8h0M318.4 341.0h0M322.8 331.7h0M533.6 115.6h0M509.2 143.8h0M507.9 106.9h0M574.3 91.2h0M279.2 368.5h0M379.7 248.7h0M482.8 137.9h0M491.7 133.7h0M561.9 99.1h0M511.9 131.1h0M416.8 202.9h0M577.7 67.4h0M265.2 377.0h0M276.4 365.7h0M524.8 106.2h0M452.4 162.2h0M553.7 105.7h0M553.9 101.5h0M271.6 379.7h0M528.7 123.7h0M369.8 256.5h0M532.0 119.3h0M290.9 363.0h0M333.6 322.0h0M333.3 279.7h0M250.9 403.3h0M579.1 78.1h0M538.8 88.7h0M287.2 355.7h0M443.8 207.3h0M265.1 375.3h0M323.8 338.7h0M255.1 388.9h0M355.9 290.1h0M390.8 263.9h0M576.9 73.2h0M386.9 270.5h0M537.6 82.7h0M462.9 157.5h0M555.5 70.3h0" stroke="#303030"/>
<path d="M259.1 377.8h0M349.5 275.1h0M419.3 219.3h0M477.0 136.5h0M506.3 123.1h0M523.5 110.6h0M540.2 110.8h0M534.4 128.4h0M568.8 78.9h0M373.2 265.4h0M530.3 133.4h0M485.8 176.2h0M307.5 330.8h0M353.8 299.0h0M452.4 205.7h0M533.0 82.0h0M275.8 376.0h0M278.0 377.2h0M516.3 120.0h0M497.0 146.0h0M415.6 229.4h0M267.4 373.9h0M579.9 65.6h0M578.0 67.2h0M282.3 380.2h0M266.4 382.5h0M315.6 325.1h0M533.8 80.5h0M437.9 186.9h0M502.5 130.8h0M307.9 344.9h0M468.3 162.2h0M545.8 77.3h0M387.3 236.9h0M551.1 73.8h0M424.5 204.6h0M575.7 77.5h0M578.2 74.5h0M323.6 332.9h0M290.1 364.1h0M592.6 63.6h0M412.3 217.7h0M348.7 301.7h0M558.6 97.8h0M561.4 62.0h0" stroke="#242424"/>
<path d="M449.8 201.0h0M496.1 114.8h0M502.7 143.7h0M526.6 88.5h0M498.6 114.5h0M483.2 143.1h0M449.1 208.1h0M285.5 355.9h0M405.5 240.8h0M509.2 146.6h0M485.9 130.3h0M509.4 116.9h0M474.3 149.0h0M538.0 93.8h0M461.4 200.4h0M395.5 229.3h0M457.4 195.1h0M497.7 129.3h0M270.9 368.6h0M498.0 144.2h0M288.3 357.8h0M304.7 344.4h0M553.6 103.4h0M494.8 141.5h0M484.9 174.9h0M413.1 228.6h0M505.4 142.1h0M532.5 133.5h0M396.1 225.4h0M438.5 214.7h0M415.4 232.9h0M508.6 98.8h0M513.8 136.7h0M426.9 233.8h0M491.5 161.2h0M458.3 201.1h0M446.5 212.6h0M433.9 186.4h0M470.3 190.3h0M294.8 352.8h0M568.5 94.9h0M392.3 237.7h0M296.5 352.0h0M447.4 178.8h0M508.9 147.9h0M463.9 199.6h0M430.1 203.5h0M407.4 219.2h0M486.8 136.5h0M553.9 99.1h0M456.1 197.2h0M575.7 78.6h0M532.7 105.6h0M514.1 145.4h0M364.6 271.1h0M469.4 190.4h0M445.6 193.7h0M417.9 209.3h0M530.2 132.8h0M435.3 186.6h0M294.9 366.1h0M471.0 189.1h0M502.7 118.5h0M409.2 249.6h0M283.7 356.7h0M569.6 93.5h0M420.9 230.7h0M475.1 143.4h0M576.0 70.0h0M518.5 99.2h0M434.3 218.9h0M391.8 242.1h0M516.8 132.4h0M549.4 69.5h0M556.9 81.7h0M318.6 334.8h0M516.5 142.7h0M282.4 356.6h0M527.0 101.8h0M543.0 91.3h0M315.5 340.2h0M487.6 136.0h0M439.4 184.5h0M455.3 197.9h0M346.6 288.6h0M455.4 205.6h0M564.1 95.5h0M492.4 129.1h0M500.3 153.9h0M445.6 215.8h0M560.4 95.3h0M451.9 205.8h0M514.6 104.5h0M486.1 140.7h0M348.2 310.8h0M588.5 60.7h0M302.0 349.2h0M545.0 76.2h0M414.4 210.3h0M557.4 70.3h0M583.2 49.2h0M440.5 211.8h0M466.1 197.8h0M563.4 60.7h0M580.7 65.6h0M301.0 349.6h0M446.9 179.7h0M499.8 151.4h0M486.3 168.2h0M552.8 101.9h0M527.5 135.1h0M494.3 138.0h0M516.2 93.2h0M495.2 159.7h0M573.7 89.3h0M482.4 143.7h0M327.7 329.6h0M488.9 165.4h0M535.4 88.7h0M266.9 374.5h0M521.6 104.4h0M499.7 110.8h0M467.2 186.9h0M264.0 378.0h0M528.5 109.5h0M538.2 121.6h0M347.1 311.5h0M467.1 187.7h0M479.8 173.7h0M438.6 191.0h0M480.5 172.7h0M518.5 134.3h0M307.0 332.3h0M476.0 181.0h0M494.6 114.1h0M516.6 116.5h0M485.5 137.0h0M468.9 196.3h0M498.0 136.0h0M422.4 229.0h0M346.1 312.2h0M469.8 185.6h0M555.6 96.9h0M462.5 190.8h0M588.0 58.4h0M499.9 127.7h0M493.7 125.7h0M472.2 158.6h0M497.5 158.9h0M455.2 197.5h0" stroke="#181818"/>
<path d="M512.3 96.8h0M578.7 74.2h0M325.7 334.8h0M492.8 134.9h0M506.6 99.3h0M529.0 110.7h0M475.5 175.3h0M568.2 83.8h0M271.7 371.1h0M509.1 143.8h0M523.8 128.6h0M524.3 108.4h0M591.1 52.9h0M498.9 128.7h0M533.1 122.0h0M550.7 82.7h0M487.6 167.5h0M282.9 351.5h0M590.6 53.1h0M516.2 101.3h0M432.0 184.5h0M546.8 80.3h0M527.6 117.8h0M562.0 100.8h0M536.6 94.1h0M512.5 125.6h0M510.8 128.5h0M528.1 115.1h0M526.2 100.7h0M580.5 70.8h0M497.2 158.5h0M570.7 58.6h0M584.0 77.8h0M534.5 119.6h0M530.4 108.9h0M447.2 206.2h0M517.1 99.8h0M441.9 209.3h0M594.0 66.1h0M436.6 192.3h0M503.3 135.3h0M462.8 183.8h0M531.3 129.6h0M500.2 156.1h0M428.6 209.1h0M550.4 80.9h0M487.9 171.2h0M575.1 56.7h0M481.0 175.5h0M550.8 78.3h0M446.3 193.1h0M514.7 124.8h0M533.1 92.3h0M512.8 131.9h0M521.9 119.5h0M497.4 158.9h0M441.2 193.6h0M575.1 77.1h0M454.3 197.4h0M556.0 92.9h0M427.0 225.9h0M577.3 78.7h0M442.7 221.9h0M278.8 363.5h0M513.6 108.7h0M535.9 127.7h0M300.1 348.9h0M386.5 251.2h0M497.4 115.9h0M596.5 52.4h0M519.2 104.9h0M547.5 110.2h0M548.1 81.7h0M272.4 371.1h0M565.6 62.3h0M537.3 102.4h0M568.7 85.9h0M496.7 142.9h0M469.9 187.5h0M509.9 149.6h0M540.9 116.2h0M480.1 138.3h0M506.9 124.6h0M553.0 73.4h0M514.8 118.7h0M439.0 223.0h0M307.1 353.7h0M409.6 232.5h0M516.8 145.4h0M561.5 85.0h0M384.1 252.6h0M363.5 296.9h0M474.1 142.3h0M558.1 72.4h0M506.5 147.6h0M506.9 130.2h0M448.9 204.2h0M488.6 137.8h0M572.0 87.4h0M432.7 203.1h0M537.2 91.2h0M540.8 89.6h0M420.9 202.6h0M546.0 85.0h0M545.1 118.2h0M418.0 228.7h0M580.8 78.1h0M597.1 54.3h0M430.9 197.1h0M594.7 53.1h0M588.6 57.7h0M585.6 71.1h0M594.5 54.9h0M581.4 78.4h0M546.7 78.1h0M327.2 330.7h0M579.3 66.1h0M456.7 195.5h0M500.9 151.9h0M566.3 98.9h0M511.1 142.2h0M522.5 119.5h0M569.7 79.2h0M439.0 227.3h0M505.4 147.1h0M510.4 128.8h0M539.7 114.6h0M518.8 124.6h0M550.2 110.3h0M451.8 179.8h0M555.0 69.7h0M540.6 94.8h0M474.9 161.7h0M551.2 79.3h0M468.7 159.6h0M527.7 95.7h0M523.8 127.9h0M590.4 53.2h0M539.4 93.7h0M318.9 336.2h0M327.6 335.6h0M279.2 373.7h0M504.7 156.6h0M533.2 131.2h0M530.1 127.5h0M494.5 127.5h0M573.9 73.6h0M518.4 116.8h0M529.0 104.5h0M472.5 185.3h0M555.2 69.9h0M592.2 57.6h0M534.8 121.6h0M567.0 84.3h0M509.9 148.4h0M534.9 101.1h0M529.1 107.1h0M582.8 74.7h0M520.4 109.5h0M534.7 128.4h0M539.9 84.3h0M541.5 92.5h0M476.1 172.7h0M594.2 49.6h0M515.5 104.0h0M499.0 131.8h0M267.3 378.8h0M512.0 134.8h0M524.9 98.2h0M570.3 83.0h0M522.9 105.0h0M548.3 116.1h0M589.3 54.0h0M556.3 102.2h0M521.9 116.5h0M526.3 116.4h0M498.6 161.7h0M538.3 99.7h0M595.1 59.6h0M440.3 209.7h0M529.6 97.2h0M473.5 148.6h0M562.9 94.4h0M545.1 104.5h0M571.5 88.2h0M537.6 120.3h0M506.9 146.7h0M478.2 183.1h0M469.1 188.6h0M552.7 99.9h0M513.2 128.5h0M518.1 133.3h0M420.4 236.3h0M393.8 226.7h0M573.5 84.8h0M501.8 118.9h0M509.7 152.0h0M574.9 82.0h0M424.2 205.8h0M528.5 124.6h0M504.2 144.1h0M509.9 97.9h0M476.1 170.5h0M545.5 100.3h0M422.2 229.8h0M256.0 381.7h0M528.5 97.0h0M571.3 57.2h0M598.6 52.4h0M564.3 91.5h0M529.5 109.8h0M550.0 100.1h0M274.2 376.0h0M568.0 84.0h0M496.7 121.1h0M307.3 351.5h0M501.2 143.1h0M423.0 206.8h0M270.2 372.8h0M588.4 57.9h0M546.7 109.5h0M583.6 48.1h0M564.7 62.8h0M561.1 64.7h0M512.5 118.6h0M439.3 224.3h0M586.2 68.8h0M566.3 81.5h0M554.8 90.3h0M526.1 105.7h0M500.3 128.2h0M481.3 173.7h0M314.7 331.6h0M505.3 123.9h0M523.7 116.6h0M576.0 51.7h0M464.7 191.4h0M264.6 382.8h0M588.3 59.3h0M476.4 177.3h0M592.5 49.3h0M513.4 123.9h0M462.0 202.4h0M459.0 195.7h0M430.4 184.5h0M471.6 189.8h0M286.1 378.0h0M512.2 127.6h0M306.7 352.3h0M438.3 216.9h0M587.9 73.6h0M584.2 66.4h0M405.0 222.7h0M571.1 89.5h0M598.3 46.4h0M571.4 78.4h0M280.3 361.4h0M499.3 131.2h0M456.8 196.1h0M572.8 90.5h0M510.7 137.8h0M443.3 200.7h0M257.2 383.3h0M588.5 60.5h0M281.3 362.7h0M546.4 80.2h0M502.7 127.4h0M340.6 314.1h0M388.2 239.9h0M270.0 375.8h0M323.3 340.9h0M574.6 83.2h0M547.5 112.9h0M593.5 59.4h0M592.9 68.0h0M416.3 208.3h0M526.0 135.9h0M295.9 348.1h0M590.4 58.8h0M465.3 192.5h0M419.6 237.1h0M584.8 46.3h0M577.2 67.7h0M366.8 272.9h0M478.7 142.3h0M511.4 110.7h0M482.4 172.4h0M457.7 203.5h0M554.6 101.5h0M444.9 205.4h0M552.4 76.7h0M520.5 132.3h0M565.4 61.9h0M288.7 351.6h0M277.2 363.5h0M519.0 139.0h0M560.6 100.5h0M519.2 96.8h0M410.8 227.5h0M572.2 78.3h0M539.7 96.2h0M281.1 367.9h0M485.4 127.2h0M363.9 261.0h0M587.2 62.7h0M572.2 92.6h0M481.7 174.5h0M505.0 151.2h0M554.1 107.3h0M578.0 82.9h0M499.9 151.3h0M582.5 69.3h0M556.3 98.7h0M589.7 59.6h0M545.7 108.0h0" stroke="#0c0c0c"/>
<path d="M504.1 130.9h0M507.8 153.2h0M288.5 382.2h0M272.3 379.7h0M465.0 191.4h0M586.9 75.3h0M525.8 95.7h0M562.7 99.3h0M563.4 88.9h0M523.1 130.2h0M498.8 115.7h0M511.9 146.2h0M484.3 170.1h0M437.9 211.1h0M524.6 131.6h0M261.3 385.3h0M459.0 193.4h0M553.1 105.3h0M522.2 140.3h0M577.5 79.0h0M515.3 135.3h0M511.8 137.0h0M531.1 105.3h0M316.5 340.1h0M538.9 96.5h0M322.5 335.2h0M530.1 121.1h0M542.4 116.6h0M541.0 81.8h0M331.5 328.1h0M550.5 79.8h0M476.7 186.8h0M563.7 97.1h0M502.8 141.5h0M268.4 372.0h0M564.2 88.2h0M498.0 134.2h0M598.9 52.5h0M558.8 66.2h0M491.3 134.3h0M269.3 370.8h0M572.1 78.6h0M469.0 187.7h0M570.1 91.0h0M530.6 91.8h0M520.7 139.9h0M577.6 50.1h0M581.5 65.4h0M512.5 149.6h0M512.8 113.8h0M558.7 94.4h0M465.9 182.1h0M544.4 107.2h0M479.4 138.8h0M306.0 350.7h0M589.5 61.6h0M540.2 95.0h0M583.5 68.9h0M595.8 52.4h0M502.1 128.3h0M510.7 148.2h0M529.1 122.1h0M600.4 50.1h0M302.7 345.3h0M558.2 73.5h0M484.8 138.3h0M543.3 92.4h0M546.9 102.1h0M549.4 74.0h0M587.0 62.0h0M517.6 112.8h0M277.5 374.3h0M470.1 187.1h0M483.5 170.7h0M572.6 55.7h0M320.6 341.9h0M564.5 89.1h0M360.2 287.3h0M493.7 156.0h0M529.3 109.9h0M440.6 223.9h0M464.5 176.9h0M501.7 152.8h0M283.9 364.2h0M525.5 123.0h0M568.6 90.3h0M465.4 187.4h0M572.6 89.3h0M294.3 364.9h0M528.6 110.9h0M495.6 122.0h0M506.0 99.7h0M441.0 205.2h0M587.4 64.2h0M518.6 135.8h0M362.2 276.7h0M505.7 100.4h0M525.7 133.3h0M530.8 123.8h0M550.4 99.9h0M504.0 124.9h0M549.9 101.5h0M537.0 111.2h0M524.0 116.3h0M554.0 110.1h0M534.9 89.8h0M567.6 88.2h0M538.7 109.5h0M502.7 116.8h0M583.8 59.4h0M301.8 343.7h0M531.5 88.5h0M508.0 153.6h0M524.0 127.4h0M528.9 98.5h0M464.0 168.9h0M474.9 146.8h0M435.3 220.1h0M495.1 137.6h0M518.5 110.7h0M528.6 113.8h0M536.7 93.6h0M507.6 123.2h0M590.4 69.5h0M550.3 74.6h0M512.8 115.7h0M566.1 75.2h0M576.1 72.0h0M444.5 199.2h0M559.0 102.6h0M497.2 136.7h0M539.9 117.0h0M401.2 222.7h0M517.6 140.7h0M583.8 48.2h0M507.6 126.2h0M572.9 88.6h0M496.6 159.5h0M591.8 58.8h0M535.1 125.4h0M531.0 121.5h0M529.4 127.4h0M440.6 197.4h0M333.5 327.2h0M552.4 112.1h0M520.1 122.2h0M530.8 107.4h0M581.2 49.3h0M556.2 94.3h0M558.5 67.5h0M525.0 132.9h0M421.6 212.6h0M601.3 56.9h0M525.7 125.6h0M520.1 122.8h0M521.4 136.0h0M475.0 178.6h0M595.8 59.1h0M476.8 185.4h0M318.6 344.1h0M591.9 70.4h0M538.5 115.9h0M575.9 82.4h0M595.8 64.7h0M528.3 108.4h0M521.9 124.7h0M438.1 215.8h0M304.4 352.2h0M456.1 209.9h0M536.2 124.9h0M523.6 131.7h0M597.2 60.2h0M526.7 115.4h0M553.3 110.8h0M588.7 56.4h0M559.7 101.6h0M551.8 109.3h0M513.1 136.6h0M531.6 129.0h0M443.4 192.1h0M312.5 344.6h0M520.3 116.1h0M577.6 73.5h0M488.5 162.0h0M286.8 362.8h0M512.4 143.4h0M557.4 103.5h0M518.3 107.7h0M516.0 145.6h0M585.8 45.0h0M562.6 88.5h0M552.3 106.8h0M586.7 62.0h0M533.6 120.7h0M522.9 135.1h0M520.4 110.9h0M329.4 327.2h0M511.6 150.7h0M448.2 205.0h0M507.3 139.9h0M466.0 191.4h0M540.5 95.8h0M541.2 88.4h0M511.7 108.4h0M421.4 201.6h0M582.3 76.1h0M584.1 64.6h0M497.6 142.4h0M580.3 79.7h0M582.4 48.8h0M297.6 347.4h0M535.0 125.7h0M595.6 65.6h0M590.6 55.3h0M300.2 347.7h0M415.9 237.4h0M529.9 108.9h0M553.1 70.5h0M529.7 99.0h0M500.4 125.6h0M514.2 134.8h0M522.5 119.2h0M550.9 110.0h0M533.3 98.5h0M532.6 87.4h0M444.7 209.9h0M572.4 88.8h0M516.9 115.3h0M555.7 92.4h0M522.0 99.4h0M484.9 173.4h0M505.2 123.9h0M392.6 231.4h0M544.6 86.0h0M309.4 354.9h0M529.6 84.8h0M586.4 59.4h0M437.9 217.8h0M530.1 105.4h0M581.1 65.0h0M555.1 97.0h0M544.9 115.5h0M551.0 112.0h0M474.4 147.9h0M555.3 79.0h0M543.8 115.9h0M521.2 125.4h0M292.9 349.8h0M556.7 107.6h0M554.2 108.9h0M576.8 76.6h0M531.1 95.4h0M538.8 75.7h0M267.0 372.9h0M577.3 62.2h0M518.5 135.1h0M547.0 75.9h0M495.7 136.0h0M506.0 118.1h0M548.4 73.7h0M527.9 134.5h0M452.1 178.3h0M559.0 98.5h0M460.5 169.8h0M271.4 373.8h0M486.3 129.0h0M497.4 135.9h0M501.3 119.2h0M496.1 158.4h0M449.0 202.3h0M504.8 129.3h0M552.2 100.2h0M435.0 221.8h0M539.7 82.4h0M509.5 150.9h0M314.5 343.8h0M542.5 83.9h0M577.7 74.4h0M456.5 186.4h0M434.3 194.0h0M545.3 88.0h0M500.2 126.8h0M482.4 162.4h0M510.2 105.6h0M451.2 203.2h0M542.6 114.0h0M510.3 117.9h0M518.0 112.1h0M536.1 120.1h0M442.0 210.9h0M505.5 143.3h0M597.1 52.6h0M536.2 78.9h0M544.0 81.5h0M546.3 77.3h0M499.7 139.7h0M556.0 68.2h0M523.2 132.5h0M578.8 70.7h0M457.4 202.8h0M518.1 106.6h0M484.8 160.8h0M489.0 132.0h0M334.1 325.2h0M471.1 158.4h0M569.9 80.6h0M459.2 170.5h0M547.7 92.2h0M546.8 106.6h0M569.6 77.4h0M485.4 172.3h0M516.1 141.2h0M512.9 119.9h0M502.8 122.6h0M500.1 121.1h0M552.8 76.8h0M545.0 101.1h0M460.7 168.6h0M289.7 381.1h0M560.7 68.2h0M496.6 124.2h0M545.6 115.1h0M444.9 197.7h0M590.8 71.6h0M267.9 378.7h0M499.3 144.3h0M545.3 102.2h0M508.1 122.6h0M511.2 140.1h0M538.3 86.8h0M512.2 131.7h0" stroke="#000000"/>
<path d="M300.2 336.5h0M376.2 260.8h0M350.7 275.5h0M404.2 221.9h0M191.8 476.6h0M207.6 473.6h0M348.1 278.3h0M328.1 317.6h0M166.9 504.5h0M343.5 307.3h0M369.6 255.0h0M337.6 287.2h0M314.8 318.0h0M381.0 261.8h0M371.5 278.5h0M320.1 306.8h0M266.1 361.8h0M343.7 275.3h0M232.9 447.0h0M374.0 245.3h0M345.2 300.8h0M311.2 321.9h0M163.2 508.3h0M381.3 246.6h0M353.9 271.3h0M292.4 339.5h0M372.6 252.5h0M289.3 339.3h0M371.8 247.2h0M382.4 258.1h0M165.7 510.8h0M245.3 380.9h0M189.2 484.5h0M392.7 249.8h0M385.1 242.9h0M380.9 247.9h0M221.6 406.3h0" stroke="#cccccc"/>
<path d="M376.2 285.2h0M148.3 508.4h0M336.2 288.7h0M337.8 321.4h0M344.3 271.8h0M302.9 332.7h0M186.6 490.3h0M181.5 492.6h0M339.7 285.1h0M377.1 258.5h0M325.4 333.5h0M304.0 320.8h0M378.4 250.6h0M353.3 286.0h0M341.2 283.9h0M429.9 218.8h0M320.9 301.6h0M152.1 497.6h0M336.9 286.8h0M304.1 328.4h0M266.6 365.6h0M265.8 370.6h0M304.6 323.3h0M317.6 303.7h0M379.5 282.8h0M362.2 274.0h0M305.2 327.8h0M404.2 256.1h0M363.9 297.0h0M401.8 234.4h0M283.2 366.4h0M342.6 303.9h0M304.8 341.0h0M392.2 238.9h0M196.2 474.1h0M357.1 264.6h0M203.3 471.0h0M279.5 356.5h0M192.5 475.3h0M319.7 309.5h0M325.5 310.8h0M389.8 267.8h0M260.2 374.0h0M158.1 508.8h0M168.4 506.2h0M396.2 252.5h0M432.9 207.3h0M175.0 492.4h0M340.5 284.8h0M306.6 337.4h0M355.6 275.5h0M164.0 507.0h0M379.9 239.7h0M328.1 309.3h0M371.2 279.8h0M353.4 298.2h0M305.6 320.6h0M375.8 273.2h0M382.6 254.7h0M204.2 473.5h0M230.2 402.1h0M90.5 582.9h0M429.9 218.2h0M303.4 321.3h0M364.0 297.6h0M310.1 324.6h0M354.6 284.3h0M393.1 234.9h0M207.5 470.1h0M460.3 176.0h0M423.3 225.1h0M265.3 367.4h0M354.0 271.8h0M378.9 273.2h0M414.9 218.8h0M369.6 251.0h0M381.6 267.9h0M163.1 508.4h0M350.3 283.2h0M385.8 251.9h0M326.5 328.4h0M180.7 493.8h0M396.6 230.8h0M342.8 285.9h0M318.7 317.7h0M341.8 286.4h0M409.2 219.8h0M302.4 326.1h0M407.9 238.6h0M382.5 263.6h0M334.3 312.3h0M239.5 441.8h0M323.4 309.7h0M400.1 255.4h0M158.4 485.1h0M348.3 314.8h0M383.5 261.9h0M438.9 205.6h0M321.3 307.7h0M332.6 294.1h0M372.3 258.0h0M388.6 256.9h0M406.3 231.9h0M327.7 320.9h0M171.9 496.4h0M343.8 296.4h0M280.2 348.4h0M367.7 261.6h0M462.3 174.5h0M325.7 329.7h0M393.2 237.7h0M299.7 328.2h0M386.3 262.2h0M363.0 264.2h0M341.4 309.6h0M354.8 289.0h0M331.9 293.6h0M364.7 278.7h0M351.6 292.6h0M398.3 251.3h0M369.8 276.8h0M266.0 367.0h0M410.1 234.4h0M383.1 235.9h0M324.0 311.4h0M231.5 447.7h0M412.8 230.5h0M366.0 274.0h0M246.2 389.4h0M346.2 294.6h0M380.5 249.7h0M317.0 314.3h0M344.7 274.3h0M441.4 218.5h0M327.2 305.7h0M382.3 248.9h0M337.7 286.5h0M395.2 241.9h0M350.9 298.7h0M314.1 309.3h0M329.4 296.0h0M373.1 274.0h0M198.5 476.8h0M331.6 297.6h0M343.1 299.2h0M379.9 254.0h0M398.6 225.5h0M164.7 509.3h0M350.9 284.1h0M386.3 273.1h0M390.2 248.4h0M376.3 248.7h0M325.5 318.6h0M388.0 252.7h0M410.7 217.3h0M381.0 255.5h0M397.1 253.6h0M287.9 345.4h0M375.0 242.5h0M421.8 240.6h0M148.2 520.8h0M387.7 271.6h0M343.1 303.9h0M325.1 303.1h0M316.7 318.3h0M405.3 238.5h0M415.2 240.7h0M301.3 346.0h0M414.6 225.1h0M338.4 303.7h0M385.0 277.4h0M331.5 307.2h0M354.6 281.3h0M363.1 264.7h0M211.2 424.5h0M357.7 277.1h0M278.1 352.1h0M373.3 253.4h0M394.6 230.6h0M399.0 245.3h0M398.2 248.5h0M332.8 317.2h0M298.7 328.9h0M355.1 266.1h0M351.9 299.3h0M355.5 278.2h0M272.9 405.8h0" stroke="#c0c0c0"/>
<path d="M375.4 281.4h0M369.2 281.1h0M328.8 288.1h0M358.3 277.2h0M211.8 460.0h0M303.3 335.1h0M298.2 328.6h0M301.4 357.1h0M156.8 489.6h0M229.8 448.5h0M380.2 266.8h0M388.6 235.4h0M292.1 336.4h0M329.0 318.3h0M326.9 325.2h0M353.6 291.2h0M201.1 478.0h0M399.3 247.4h0M355.1 273.4h0M375.2 261.6h0M328.1 311.6h0M299.3 353.8h0M270.9 356.7h0M139.8 505.2h0M229.3 449.4h0M413.9 235.8h0M242.6 425.7h0M481.8 163.2h0M287.4 350.3h0M365.9 256.9h0M299.5 318.0h0M276.9 350.1h0M271.8 353.4h0M327.2 293.2h0M289.6 336.5h0M397.7 223.3h0M287.3 344.2h0M329.8 306.1h0M362.9 285.6h0M342.4 296.6h0M293.4 376.9h0M354.2 290.7h0M411.5 206.6h0M297.3 338.6h0M342.8 283.1h0M177.6 493.2h0M305.8 330.6h0M264.3 368.3h0M340.1 288.4h0M405.3 221.2h0M232.3 441.7h0M277.3 371.9h0M144.6 502.0h0M468.2 173.6h0M336.7 321.9h0M290.5 359.0h0M410.9 237.3h0M385.3 261.5h0M290.2 379.9h0M345.5 293.2h0M269.2 364.6h0M328.1 319.1h0M241.8 437.2h0M384.9 261.5h0M339.0 323.4h0M402.9 244.4h0M349.7 300.4h0M330.0 315.5h0M298.3 355.0h0M340.1 286.8h0M334.9 304.2h0M265.1 370.6h0M271.5 357.7h0M315.2 336.4h0M152.2 513.6h0M220.6 414.6h0M367.6 266.5h0M316.9 320.5h0M213.6 453.1h0M377.8 281.9h0M186.3 479.0h0M190.6 476.7h0M239.1 395.3h0M345.8 289.6h0M146.2 501.1h0M294.3 374.3h0M325.2 309.1h0M322.9 319.4h0M416.7 238.8h0M373.3 268.2h0M277.7 350.4h0M226.9 454.2h0M259.3 419.2h0M317.4 329.6h0M437.3 199.3h0M426.0 211.1h0M209.8 457.8h0M488.1 155.7h0M174.9 492.9h0M317.4 324.1h0M411.3 217.6h0M188.3 482.6h0M380.4 271.6h0M293.7 376.0h0M155.2 490.4h0M328.4 304.9h0M170.8 491.0h0M246.8 388.5h0M359.2 292.9h0M194.5 481.1h0M319.6 330.1h0M391.9 257.8h0M379.0 262.1h0M400.2 246.3h0M365.7 282.7h0M343.9 307.5h0M322.5 329.8h0M354.1 276.5h0M407.8 246.0h0M399.7 224.6h0M293.8 344.8h0M400.9 223.9h0M200.2 478.9h0M158.2 507.1h0M361.5 257.4h0M398.5 244.1h0M364.3 273.7h0M319.0 329.5h0M287.1 365.5h0M366.3 284.3h0M273.1 364.5h0M381.4 270.6h0M426.4 218.7h0M325.6 307.5h0M377.8 283.6h0M329.5 320.4h0M418.0 244.2h0M316.6 332.0h0M211.7 464.8h0M393.2 236.8h0M300.8 346.4h0M185.4 484.6h0M402.9 253.8h0M309.9 323.7h0M305.8 323.6h0M164.4 497.3h0M288.7 368.0h0M283.4 345.4h0M249.3 380.3h0M205.3 473.3h0M402.7 237.4h0M234.9 444.3h0M334.1 308.0h0M339.8 314.0h0M426.0 222.9h0M394.1 258.9h0M174.8 493.4h0M389.6 268.7h0M290.5 363.3h0M356.2 283.3h0M365.9 296.6h0M429.7 228.1h0M347.5 315.8h0M140.8 501.3h0M260.4 373.5h0M171.8 482.2h0M349.5 312.7h0M240.9 439.4h0M161.9 507.3h0M208.2 469.0h0M283.1 344.4h0M337.3 304.0h0M263.7 369.5h0M276.3 360.3h0M389.4 236.1h0M211.9 457.1h0M307.2 341.9h0M193.2 481.2h0M438.9 225.0h0M396.6 256.9h0M383.1 255.9h0M385.9 255.1h0M324.2 310.2h0M347.6 273.0h0M330.0 295.7h0M276.5 378.4h0M219.6 455.6h0M383.9 244.0h0M321.2 333.0h0M319.9 302.3h0M412.5 236.4h0M138.8 526.7h0M374.3 278.1h0M447.2 184.1h0M328.9 319.9h0M340.4 287.7h0M338.6 299.2h0M338.6 300.1h0M361.9 277.9h0M307.0 314.9h0M379.5 282.5h0M309.4 328.9h0M382.0 268.6h0M292.1 336.0h0M214.4 413.1h0M349.3 274.7h0M346.4 292.2h0M304.1 341.3h0M374.8 267.9h0M413.0 219.4h0M369.3 280.2h0M345.4 304.0h0M332.2 290.4h0M350.4 290.9h0M208.0 423.4h0M276.3 372.7h0M414.2 235.8h0M332.4 290.0h0M161.8 500.4h0M399.2 258.3h0M333.1 289.5h0M323.5 308.6h0M331.6 291.0h0M361.2 280.0h0M378.9 240.7h0M308.3 329.8h0" stroke="#b4b4b4"/>
<path d="M392.8 238.4h0M287.2 383.8h0M310.4 334.9h0M472.4 166.8h0M390.9 266.2h0M149.4 515.8h0M416.3 239.4h0M363.9 278.0h0M320.1 319.9h0M304.4 344.8h0M392.2 257.5h0M393.8 258.1h0M378.0 245.5h0M304.3 346.6h0M402.7 228.9h0M371.7 286.3h0M246.0 423.3h0M261.2 368.2h0M491.0 157.6h0M456.1 190.8h0M398.4 259.9h0M160.3 500.8h0M292.6 342.2h0M390.0 261.0h0M427.3 221.3h0M165.0 498.1h0M434.1 226.2h0M253.0 423.1h0M391.0 231.1h0M347.6 286.0h0M285.5 348.3h0M181.4 484.4h0M282.9 367.1h0M358.4 297.9h0M432.9 209.1h0M339.0 277.0h0M341.1 288.3h0M369.8 283.8h0M339.1 284.2h0M487.3 160.3h0M315.4 312.3h0M393.5 240.7h0M355.8 271.8h0M221.8 410.7h0M391.8 230.3h0M166.1 500.1h0M265.1 407.9h0M395.6 266.0h0M379.8 262.8h0M385.8 248.5h0M312.6 338.6h0M350.6 273.2h0M328.9 334.6h0M356.2 265.5h0M259.7 418.1h0M176.4 474.2h0M421.4 242.4h0M249.2 432.7h0M414.2 232.2h0M412.2 220.7h0M396.3 233.1h0M206.5 469.0h0M395.8 254.9h0M175.6 488.9h0M408.0 249.4h0M368.8 284.5h0M382.3 267.7h0M433.3 228.6h0M212.7 466.1h0M408.8 214.3h0M310.6 329.7h0M357.6 271.1h0M326.5 295.6h0M401.2 224.4h0M239.0 442.3h0M215.1 464.6h0M249.5 414.3h0M431.4 230.4h0M365.6 263.7h0M336.6 313.8h0M174.8 474.8h0M329.0 303.9h0M208.5 470.0h0M291.7 344.5h0M382.3 274.6h0M173.2 489.7h0M272.7 355.7h0M406.5 226.4h0M383.7 267.6h0M351.2 274.8h0M496.1 152.8h0M391.9 267.5h0M371.3 256.2h0M409.8 249.2h0M328.3 308.7h0M412.3 245.3h0M357.1 275.2h0M211.7 466.9h0M437.6 197.9h0M423.9 241.5h0M288.1 349.2h0M329.9 302.7h0M385.9 275.5h0M231.1 435.5h0M320.5 323.9h0M397.3 244.3h0M421.8 220.0h0M383.0 268.3h0M320.9 329.0h0M342.9 272.8h0M351.4 284.3h0M381.1 253.1h0M366.4 284.2h0M272.4 397.3h0M462.6 180.2h0M489.9 158.5h0M437.6 209.6h0M295.2 342.6h0M286.8 351.3h0M397.7 244.7h0M383.4 278.8h0M359.0 278.6h0M398.9 253.5h0M372.6 244.4h0M336.8 300.9h0M350.7 280.0h0M488.0 170.2h0M407.1 253.2h0M231.4 445.0h0M174.6 474.9h0M181.5 483.1h0M268.1 403.0h0M331.3 295.0h0M386.0 260.3h0M341.1 295.4h0M394.4 245.1h0M317.8 329.8h0M195.9 474.8h0M285.5 376.7h0M391.0 249.7h0M314.1 319.5h0M138.9 507.9h0M489.3 159.5h0M382.0 255.2h0M290.8 358.2h0M372.8 285.1h0M312.8 321.3h0M490.4 157.3h0M249.2 381.1h0M325.9 302.9h0M328.7 299.5h0M215.1 465.6h0M378.1 273.5h0M353.9 297.1h0M416.0 233.8h0M300.0 358.1h0M319.5 325.8h0M422.5 238.5h0M406.3 251.4h0M373.5 273.7h0M382.0 267.9h0M197.9 438.3h0M372.7 266.5h0M359.2 270.4h0M330.2 319.9h0M358.6 280.3h0M358.5 297.8h0M296.9 358.1h0M422.0 224.7h0M308.9 341.2h0M378.8 272.6h0M364.0 284.9h0M280.4 348.6h0M392.9 246.4h0M395.2 255.0h0M321.6 321.9h0M288.2 364.9h0M291.9 343.3h0M340.9 274.5h0M239.9 392.5h0M216.2 456.7h0M347.0 287.5h0M308.2 336.3h0M354.4 271.5h0M329.7 312.6h0M404.5 230.6h0M443.8 203.4h0M433.2 214.4h0M383.5 237.8h0M363.9 291.9h0M267.7 362.9h0M198.2 476.1h0M218.0 448.9h0M357.1 291.6h0M212.6 454.2h0M427.8 215.3h0M419.5 221.9h0M139.7 506.9h0M488.5 146.3h0M152.7 493.1h0M243.3 425.2h0M406.7 224.8h0M175.2 480.5h0M163.7 482.5h0M259.8 421.1h0M151.1 514.4h0M416.5 218.4h0M230.7 447.7h0M491.9 155.2h0M366.5 255.6h0M226.7 442.3h0M339.1 282.9h0M234.9 433.1h0M178.6 468.9h0M391.0 237.8h0M324.1 312.2h0M354.9 289.7h0M223.1 446.7h0M290.9 354.5h0M350.4 304.9h0M338.3 283.7h0M382.4 247.7h0M318.8 329.8h0M181.1 492.1h0M328.0 305.8h0M152.2 496.8h0M327.5 304.5h0M383.2 262.6h0M146.5 516.4h0M438.7 202.2h0M347.4 291.4h0M185.6 482.8h0M296.2 341.2h0M297.8 340.2h0M399.2 238.7h0M357.6 300.3h0M383.9 247.5h0M386.5 244.8h0M162.1 488.7h0M412.8 209.3h0M374.0 274.8h0M303.0 358.7h0M435.1 198.7h0M363.1 298.3h0M298.7 356.3h0M322.2 335.1h0M172.7 476.0h0M344.4 290.0h0M215.3 457.4h0M382.1 272.7h0M269.2 362.5h0M190.6 481.0h0M315.5 313.2h0M231.8 443.7h0M242.0 432.4h0M260.7 373.4h0M369.3 282.9h0M374.4 256.7h0M364.8 284.0h0M348.2 315.3h0M410.3 212.4h0M462.4 172.4h0M170.0 482.9h0M318.4 311.9h0M371.7 278.1h0M413.7 238.0h0M374.4 281.1h0" stroke="#a8a8a8"/>
<path d="M421.5 222.3h0M324.2 320.8h0M395.4 267.0h0M167.8 479.2h0M223.5 444.3h0M448.8 176.8h0M298.4 336.6h0M333.9 311.8h0M218.2 459.6h0M228.5 448.5h0M478.2 184.0h0M382.9 252.0h0M285.3 345.8h0M343.8 298.8h0M216.5 451.0h0M167.7 499.0h0M185.5 479.2h0M224.0 452.2h0M331.5 297.8h0M354.0 302.4h0M381.3 264.0h0M243.3 425.7h0M166.2 483.8h0M204.9 472.2h0M461.4 175.1h0M425.2 227.3h0M204.5 451.8h0M149.8 497.5h0M402.6 223.8h0M168.5 478.5h0M328.2 334.8h0M184.8 465.8h0M395.8 234.2h0M462.1 165.9h0M301.6 330.2h0M432.6 215.3h0M188.7 464.1h0M470.0 165.0h0M261.7 416.4h0M350.1 284.5h0M340.4 301.0h0M276.9 378.6h0M181.9 486.4h0M434.3 228.2h0M297.5 362.8h0M367.6 293.0h0M156.8 488.5h0M249.1 415.7h0M330.2 309.7h0M227.0 444.3h0M435.4 191.7h0M207.9 466.3h0M440.5 197.1h0M400.3 229.5h0M257.3 420.2h0M483.8 160.2h0M391.4 233.6h0M450.6 213.3h0M356.1 308.5h0M481.9 178.2h0M214.6 456.9h0M389.7 234.9h0M280.8 397.3h0M150.5 497.9h0M361.0 298.3h0M370.3 270.4h0M359.0 265.5h0M439.7 220.6h0M434.4 203.6h0M425.9 226.7h0M417.3 239.1h0M414.2 244.6h0M460.6 165.5h0M279.9 393.4h0M487.3 171.1h0M404.8 251.8h0M264.1 411.6h0M299.4 368.5h0M193.6 477.8h0M436.5 216.6h0M289.6 372.7h0M310.8 335.2h0M332.6 325.8h0M237.6 436.4h0M233.8 436.3h0M462.1 175.8h0M424.0 235.3h0M203.7 463.1h0M244.5 426.6h0M356.0 283.0h0M369.0 258.7h0M423.3 219.0h0M386.0 270.4h0M325.4 332.9h0M340.9 300.1h0M157.4 489.0h0M321.4 309.5h0M288.0 386.0h0M338.5 304.8h0M481.2 151.1h0M381.3 265.8h0M304.3 328.5h0M298.8 361.9h0M169.2 494.4h0M227.2 450.1h0M190.9 480.3h0M169.5 477.2h0M242.4 425.0h0M247.7 427.8h0M469.8 158.0h0M374.2 284.3h0M171.3 471.5h0M438.2 207.8h0M466.6 181.4h0M434.0 192.8h0M279.2 393.5h0M204.6 468.0h0M387.7 257.7h0M331.8 329.6h0M334.6 326.5h0M437.1 215.2h0M381.9 252.7h0M207.9 465.3h0M331.8 307.5h0M291.3 344.4h0M346.1 296.8h0M268.0 403.0h0M471.8 161.7h0M289.7 356.3h0M257.2 411.1h0M270.8 401.4h0M430.7 206.9h0M488.1 155.8h0M324.5 321.9h0M296.9 338.4h0M250.7 416.4h0M330.5 312.1h0M166.6 485.9h0M322.4 322.4h0M252.1 419.9h0M419.2 212.3h0M308.9 353.9h0M488.1 156.2h0M246.0 427.4h0M351.5 311.2h0M406.6 244.4h0M171.3 482.2h0M347.0 307.0h0M388.5 267.3h0M282.8 348.7h0M228.2 448.8h0M408.5 241.1h0M257.2 412.5h0M327.1 301.9h0M290.8 369.2h0M232.0 446.6h0M476.8 167.5h0M365.5 274.2h0M201.7 472.1h0M197.4 470.1h0M248.3 426.0h0M472.5 158.6h0M422.7 236.2h0M264.6 398.9h0M347.2 309.5h0M219.2 458.7h0M379.5 279.7h0M415.2 231.9h0M324.3 317.7h0M410.4 246.8h0M187.2 480.8h0M246.3 420.3h0M183.2 482.7h0M434.9 223.9h0M320.1 311.8h0M173.1 472.1h0M224.9 445.0h0M456.2 176.4h0M141.4 497.5h0M254.9 427.0h0M439.1 183.5h0M254.4 413.0h0M425.8 222.8h0M412.8 229.0h0M425.0 234.3h0M362.5 279.6h0M372.5 284.7h0" stroke="#9c9c9c"/>
<path d="M289.5 343.2h0M429.4 213.3h0M482.1 161.6h0M274.7 400.4h0M441.0 206.7h0M366.2 278.6h0M449.5 186.8h0M423.4 227.4h0M448.5 186.7h0M215.4 450.3h0M277.3 393.5h0M176.3 473.6h0M208.9 441.5h0M297.8 346.6h0M289.4 385.5h0M278.3 391.2h0M204.0 445.7h0M381.9 269.4h0M313.6 318.6h0M175.5 467.2h0M205.5 461.8h0M361.5 300.1h0M333.7 288.5h0M296.2 360.8h0M208.5 458.5h0M367.7 264.7h0M444.6 196.0h0M283.8 391.4h0M436.3 190.9h0M330.2 331.8h0M186.9 469.2h0M349.9 307.2h0M195.0 460.1h0M221.7 453.7h0M281.3 385.5h0M248.9 413.0h0M194.5 464.3h0M390.7 254.6h0M417.1 214.8h0M467.8 155.9h0M285.8 385.6h0M244.6 420.1h0M258.4 416.8h0M385.4 269.0h0M420.2 237.7h0M203.0 453.9h0M368.6 291.9h0M280.8 388.6h0M424.4 215.9h0M317.9 316.4h0M235.2 431.1h0M162.5 483.7h0M262.4 410.1h0M478.2 180.8h0M245.7 428.3h0M401.1 234.8h0M434.4 209.8h0M282.5 384.0h0M288.5 359.1h0M420.8 229.0h0M264.0 405.7h0M202.3 448.6h0M357.3 287.6h0M244.6 431.3h0M421.5 228.2h0M190.3 461.6h0M271.2 403.4h0M371.8 261.9h0M409.1 223.8h0M262.0 402.1h0M277.1 386.8h0M436.2 200.4h0M187.8 468.4h0M275.4 397.6h0M289.8 371.3h0M294.6 341.8h0M291.1 363.1h0M337.6 303.5h0M429.5 219.0h0M469.4 172.0h0M344.1 276.1h0M302.6 355.7h0M461.6 158.6h0M495.5 146.3h0M203.3 452.9h0M269.4 408.2h0M315.4 307.9h0M305.2 359.3h0M451.7 197.1h0M318.3 315.3h0M456.8 204.5h0M280.1 396.4h0M236.1 441.2h0M472.9 163.5h0M476.0 160.8h0M483.9 176.2h0M285.4 379.2h0M443.0 196.6h0M170.8 476.7h0M264.8 406.8h0M329.5 326.9h0M275.8 379.7h0M177.8 471.5h0M205.5 439.2h0M272.3 402.9h0M455.9 172.5h0M392.3 249.9h0M282.6 385.3h0M340.5 321.9h0M229.5 446.6h0M403.4 241.0h0M277.5 399.1h0M268.8 395.0h0M363.0 279.3h0M173.4 475.6h0M287.4 387.8h0M336.1 313.2h0M481.8 176.9h0M283.7 387.1h0M245.0 421.4h0M270.3 388.6h0M221.4 433.1h0M268.4 368.0h0M351.2 286.9h0M207.9 448.9h0M219.3 434.4h0M260.1 414.2h0M335.5 327.1h0M296.6 361.3h0M431.1 197.2h0M436.5 221.6h0M177.1 474.0h0M174.8 476.2h0M337.5 289.8h0M282.8 375.4h0M213.4 460.0h0M480.9 162.9h0M349.8 288.0h0M472.3 166.7h0M351.6 285.9h0M258.2 407.3h0M294.8 372.5h0M264.8 410.7h0M375.8 267.8h0M413.0 231.3h0M472.0 155.8h0M250.8 431.9h0M419.3 241.1h0" stroke="#909090"/>
<path d="M309.8 354.5h0M188.3 460.2h0M445.9 174.0h0M199.7 444.7h0M249.5 418.0h0M408.2 238.0h0M362.1 269.0h0M409.2 236.7h0M359.9 274.4h0M199.3 455.5h0M272.7 400.5h0M456.6 179.5h0M352.9 309.0h0M202.7 450.4h0M312.8 318.9h0M258.4 408.1h0M387.3 266.6h0M297.1 333.8h0M384.2 250.7h0M207.4 446.5h0M408.5 213.2h0M201.1 453.0h0M209.7 440.1h0M491.6 150.1h0M433.0 198.1h0M284.6 373.2h0M239.5 424.2h0M321.5 341.1h0M243.0 424.4h0M375.8 248.0h0M204.4 442.3h0M320.4 313.2h0M268.0 394.4h0M353.2 289.8h0M420.6 233.2h0M362.2 273.1h0M266.5 369.2h0M493.4 149.8h0M265.1 404.7h0M186.9 459.1h0M295.6 336.0h0M240.5 422.3h0M189.7 453.3h0M367.2 292.9h0M337.0 324.1h0M272.5 399.6h0M202.9 453.1h0M275.0 388.6h0M280.9 351.1h0M445.0 193.7h0M257.8 404.9h0M201.4 464.6h0M191.5 474.0h0M448.4 198.9h0M179.1 475.8h0M404.9 251.0h0M269.2 388.5h0M253.3 416.1h0M398.4 236.6h0M412.1 242.7h0M472.2 150.1h0M418.7 227.3h0M198.1 456.1h0M336.7 293.4h0M205.8 441.7h0M348.8 295.0h0M451.8 171.9h0M325.9 305.9h0M177.1 472.8h0M233.1 434.9h0M289.2 385.9h0M180.3 466.1h0M368.3 256.6h0M267.0 410.3h0M260.7 414.6h0M197.8 447.6h0M360.6 302.3h0M339.8 304.2h0M440.3 204.8h0M459.4 162.0h0M285.0 386.4h0M188.4 461.6h0M268.1 406.1h0M447.4 189.5h0M314.8 335.3h0M325.2 297.7h0M413.3 232.6h0M282.3 374.7h0M484.8 164.7h0M266.7 405.5h0M185.7 463.5h0M407.5 238.9h0M192.4 463.2h0M298.2 358.9h0M203.8 448.5h0M326.8 325.6h0M187.6 458.8h0M275.9 389.2h0M256.4 413.2h0M469.8 154.8h0M345.2 308.2h0M285.8 370.8h0M193.1 463.3h0M208.3 437.2h0M374.2 272.3h0M476.7 183.7h0M276.5 395.9h0M424.3 201.6h0M267.0 402.3h0M197.5 454.9h0M207.4 449.5h0M444.5 179.6h0M468.7 158.6h0M208.4 432.7h0M250.8 382.5h0M264.2 401.8h0M317.1 333.3h0M202.9 449.4h0M410.1 221.2h0M465.0 153.7h0M285.3 339.9h0M376.5 246.9h0M358.3 303.0h0M306.0 335.7h0M276.4 399.8h0M184.4 462.6h0M218.3 448.7h0M246.6 383.5h0M170.1 474.9h0M187.0 462.6h0M309.7 327.7h0M258.8 407.3h0M203.1 443.7h0M340.5 301.5h0M369.3 294.6h0M471.7 168.9h0M370.5 259.9h0M321.2 335.6h0M279.7 386.7h0M328.4 301.1h0M274.6 391.9h0M418.5 209.8h0M223.1 419.3h0M279.0 387.3h0M395.6 234.7h0M269.1 391.6h0M284.5 363.3h0M241.2 421.9h0M330.9 325.1h0" stroke="#848484"/>
<path d="M446.9 199.5h0M201.2 445.3h0M309.5 337.3h0M303.0 349.3h0M349.8 295.0h0M225.9 419.6h0M463.7 177.9h0M296.3 333.1h0M336.4 320.3h0M377.9 263.6h0M195.8 454.5h0M217.3 431.1h0M346.8 305.3h0M214.3 433.1h0M212.1 432.5h0M366.8 265.0h0M430.7 199.9h0M462.0 181.2h0M354.1 289.4h0M428.6 204.9h0M263.7 405.6h0M266.8 387.4h0M429.8 200.4h0M502.7 145.5h0M449.9 178.7h0M254.9 409.2h0M280.1 385.8h0M462.4 179.8h0M317.5 306.0h0M341.1 320.4h0M320.0 322.2h0M407.7 243.1h0M280.2 378.8h0M426.6 225.5h0M314.4 350.4h0M289.7 361.5h0M312.1 353.1h0M408.4 217.3h0M471.0 177.8h0M205.9 435.6h0M269.0 398.1h0M343.5 319.2h0M340.3 296.2h0M343.8 292.6h0M270.2 393.2h0M373.7 258.5h0M296.0 355.7h0M336.6 303.1h0M409.9 244.8h0M341.6 294.3h0M329.3 327.8h0M302.8 361.5h0M271.2 383.4h0M202.6 450.3h0M198.1 447.1h0M453.2 174.3h0M285.3 377.6h0M416.2 211.7h0M471.0 158.9h0M412.1 208.1h0M197.0 455.6h0M490.7 151.0h0M228.3 425.9h0M334.5 310.2h0M211.2 430.7h0M261.4 374.1h0M189.0 460.8h0M231.2 434.1h0M475.6 153.5h0M276.3 384.0h0M440.8 206.5h0M264.4 413.0h0M263.6 394.1h0M428.7 199.0h0M323.4 334.8h0M442.3 204.2h0M202.0 452.4h0M345.4 279.2h0M262.2 397.8h0M327.8 295.6h0M215.2 432.3h0M467.1 164.9h0M418.3 206.9h0M431.2 210.0h0M475.0 154.6h0M188.9 466.4h0M199.3 453.3h0M354.8 299.1h0M183.7 472.9h0M222.6 421.4h0M249.4 414.5h0M280.4 354.0h0M457.9 165.6h0M215.6 431.3h0M195.8 447.5h0M322.1 311.0h0M469.2 163.7h0M315.4 334.4h0M263.9 408.4h0M234.4 408.5h0M203.2 449.7h0M198.3 446.6h0M247.6 414.8h0M477.7 166.9h0M271.3 384.9h0M204.2 443.0h0M412.5 230.3h0M236.6 414.4h0M489.4 157.4h0M239.1 400.3h0M270.4 382.9h0M445.3 196.9h0M409.0 241.9h0M362.2 293.5h0M363.0 269.1h0M291.9 368.0h0M221.1 427.9h0M492.1 169.4h0M442.4 180.3h0M372.9 253.9h0M310.4 340.6h0M217.0 430.3h0M218.5 435.1h0M327.2 329.6h0M187.2 466.3h0M271.1 384.4h0M233.4 418.6h0M370.0 255.5h0M324.1 323.6h0M268.2 392.2h0M352.4 268.5h0M267.9 388.7h0M240.1 399.5h0M469.8 192.2h0M352.8 282.4h0M393.7 263.3h0M396.1 240.6h0M302.8 353.7h0" stroke="#787878"/>
<path d="M361.7 281.1h0M217.5 436.3h0M397.4 225.5h0M488.2 161.4h0M475.6 147.2h0M435.5 225.1h0M228.8 416.0h0M252.2 397.4h0M237.1 416.5h0M360.7 261.4h0M353.7 307.5h0M237.8 415.5h0M312.2 319.9h0M464.7 162.1h0M428.0 192.8h0M440.8 186.7h0M375.0 288.0h0M245.4 397.4h0M426.6 219.2h0M431.0 221.5h0M276.8 356.4h0M303.8 341.7h0M442.3 199.6h0M458.0 164.0h0M246.3 405.3h0M427.4 199.8h0M407.0 250.3h0M279.1 352.7h0M219.5 424.9h0M202.3 439.2h0M234.8 416.6h0M218.6 436.6h0M402.3 219.2h0M205.8 436.5h0M301.9 341.0h0M480.7 172.9h0M488.6 150.7h0M467.2 177.2h0M392.2 265.2h0M325.3 309.2h0M337.0 302.6h0M220.8 427.8h0M226.6 421.8h0M260.2 369.3h0M220.0 427.6h0M235.2 406.6h0M516.4 134.0h0M321.7 334.0h0M465.8 174.6h0M290.3 354.0h0M216.3 432.2h0M428.0 214.1h0M238.0 409.6h0M324.9 332.1h0M279.4 383.9h0M266.3 393.8h0M340.6 296.7h0M259.3 369.8h0M208.5 438.7h0M470.8 178.5h0M214.1 425.9h0M245.9 401.1h0M202.3 450.3h0M215.5 435.0h0M461.3 172.8h0M394.6 228.9h0M402.5 246.3h0M202.9 442.8h0M292.3 360.1h0M461.0 181.7h0M399.3 220.1h0M485.4 154.0h0M324.3 321.7h0M438.4 203.6h0M294.0 368.3h0M223.1 431.9h0M450.4 184.1h0M288.7 368.7h0M292.8 362.9h0M398.9 259.8h0M216.8 436.0h0M315.8 321.0h0M211.2 437.8h0M212.8 442.5h0M226.1 430.3h0M335.2 309.5h0M216.8 429.9h0M299.7 351.7h0M284.6 346.6h0M231.6 414.0h0M420.5 206.8h0M288.9 371.7h0M449.1 200.3h0M297.1 361.5h0M338.0 297.8h0M435.2 203.8h0M346.2 316.8h0M302.9 343.1h0M283.4 367.7h0M242.9 396.9h0M320.9 321.3h0M226.0 421.9h0M463.9 173.3h0M214.2 433.4h0M489.6 151.7h0M259.8 403.7h0M265.1 404.4h0M435.7 202.7h0M235.7 415.6h0M239.3 403.3h0M461.2 182.8h0M438.9 186.8h0M209.1 440.4h0M213.8 441.5h0" stroke="#6c6c6c"/>
<path d="M235.1 408.4h0M425.2 235.1h0M238.6 412.6h0M466.5 152.7h0M240.0 415.1h0M235.2 412.4h0M225.9 418.3h0M291.9 381.6h0M238.6 405.3h0M419.0 212.5h0M462.0 161.8h0M458.3 173.3h0M428.9 212.7h0M494.7 135.3h0M435.5 204.7h0M239.8 398.7h0M420.9 202.0h0M238.2 417.9h0M428.1 208.0h0M465.0 174.1h0M250.1 397.7h0M520.8 132.6h0M492.8 155.3h0M254.9 389.0h0M516.2 140.7h0M449.9 212.9h0M255.7 393.5h0M457.0 167.5h0M244.5 407.2h0M234.8 408.3h0M459.6 167.9h0M465.4 194.4h0M248.2 395.7h0M231.5 409.2h0M219.8 425.0h0M439.4 189.2h0M478.0 166.6h0M409.0 248.0h0M223.5 419.4h0M415.3 228.6h0M245.0 408.0h0M388.4 263.6h0M448.7 209.7h0M245.2 396.1h0M475.3 169.6h0M242.5 404.4h0M343.4 318.9h0M242.3 405.9h0M217.4 425.8h0M447.6 216.1h0M233.0 416.2h0M252.1 398.6h0M430.8 226.5h0M448.3 178.2h0M361.4 298.5h0M439.4 199.6h0M428.0 231.8h0M441.6 185.6h0M438.4 214.0h0M498.5 133.6h0M489.0 151.9h0M219.9 424.9h0M245.4 411.0h0M231.1 414.2h0M235.1 419.8h0M436.2 186.4h0M503.6 133.8h0M234.3 414.5h0M434.7 225.1h0M507.4 139.4h0M473.9 169.2h0M459.0 202.2h0M240.5 412.0h0M455.8 177.3h0M442.2 174.3h0M417.5 233.5h0M241.2 401.3h0M351.1 306.7h0M434.7 183.6h0M285.3 375.2h0M237.1 417.5h0M461.9 169.8h0M501.4 146.0h0M414.5 243.9h0M420.7 235.4h0M497.8 145.2h0M482.1 173.5h0" stroke="#606060"/>
<path d="M254.0 389.6h0M238.0 402.5h0M239.4 417.2h0M477.0 150.3h0M250.3 394.3h0M493.7 153.1h0M226.0 417.0h0M465.6 194.8h0M482.2 172.2h0M482.4 167.5h0M424.5 201.1h0M488.4 136.6h0M233.9 408.1h0M453.6 181.9h0M500.4 145.1h0M468.2 175.5h0M249.0 397.7h0M283.3 363.7h0M471.4 154.8h0M443.2 212.0h0M442.9 207.3h0M247.8 404.8h0M481.9 168.3h0M268.3 375.3h0M472.8 168.8h0M241.6 404.4h0M468.6 149.2h0M480.0 148.8h0M253.5 394.3h0M279.8 364.5h0M507.1 134.0h0M427.1 194.9h0M445.7 214.7h0M465.6 183.6h0M452.4 192.6h0M246.1 398.8h0M221.5 420.7h0M447.2 204.8h0M256.7 394.7h0M396.4 233.4h0M517.0 139.3h0M221.1 424.0h0M253.6 395.2h0M470.7 145.8h0M228.6 412.3h0M246.5 401.7h0M480.8 149.7h0M435.4 189.3h0M501.4 136.8h0M500.4 132.1h0M249.9 392.7h0M246.2 404.6h0M524.9 88.1h0M251.9 394.7h0M493.4 154.5h0M437.2 189.3h0M250.2 395.8h0M237.9 401.8h0" stroke="#545454"/>
<path d="M240.8 399.9h0M489.5 137.5h0M276.8 369.3h0M273.2 376.8h0M440.1 186.5h0M251.9 388.2h0M255.6 393.6h0M468.5 183.1h0M472.3 143.9h0M462.0 166.3h0M499.8 133.4h0M263.7 387.3h0M501.7 131.3h0M502.6 136.5h0M486.1 172.5h0M553.0 78.9h0M262.9 388.2h0M287.4 352.2h0M283.2 366.7h0M250.2 395.5h0M243.6 398.7h0M482.0 138.4h0M509.5 132.6h0M273.0 378.8h0M283.0 359.7h0M530.9 123.0h0M452.3 170.4h0M476.8 185.0h0M501.7 131.5h0M452.1 211.8h0M513.8 138.8h0M432.4 229.2h0M249.3 388.0h0M481.3 146.5h0M253.7 390.7h0M478.7 143.9h0M463.2 199.9h0M494.3 133.2h0M520.7 92.6h0M272.1 376.1h0M464.7 190.5h0M487.2 147.1h0M249.2 395.9h0M250.9 395.3h0M551.4 107.3h0M291.6 358.2h0M262.2 383.3h0M252.7 392.1h0M248.4 402.9h0M506.4 152.2h0M481.9 145.9h0M245.7 393.0h0M276.0 373.9h0M283.4 362.6h0M504.3 135.2h0M449.6 173.6h0M485.1 167.1h0M440.6 185.2h0M292.4 353.7h0M272.7 373.4h0M245.3 394.3h0M251.4 394.5h0M249.0 388.1h0M252.1 386.8h0M506.4 138.9h0M529.5 90.1h0M494.6 165.2h0M489.7 143.2h0M294.9 353.1h0M286.9 360.7h0M233.3 420.6h0" stroke="#484848"/>
<path d="M435.6 188.5h0M526.1 128.2h0M572.6 86.9h0M533.0 121.5h0M549.3 100.2h0M510.4 97.6h0M267.0 371.5h0M493.2 136.0h0M450.5 172.8h0M495.9 130.3h0M239.1 399.7h0M251.9 387.9h0M277.1 369.7h0M516.2 122.0h0M475.9 155.5h0M496.4 141.1h0M478.8 144.4h0M532.9 116.1h0M376.8 268.0h0M450.8 172.3h0M555.3 109.3h0M283.9 359.0h0M277.7 363.4h0M502.5 138.8h0M474.4 153.2h0M509.2 105.1h0M525.6 119.6h0M510.1 142.2h0M555.1 102.0h0M509.9 129.9h0M475.2 154.7h0M506.1 134.3h0M523.7 108.2h0M511.6 144.0h0M500.4 132.4h0M417.6 203.8h0M462.6 169.9h0M511.2 118.2h0M510.0 100.5h0M478.1 144.5h0M555.4 78.2h0M311.8 344.6h0M522.4 130.4h0M509.1 139.0h0M472.9 182.4h0M474.5 147.5h0M472.1 183.7h0M582.4 81.3h0M304.7 344.6h0M470.7 145.6h0M493.1 138.8h0M328.1 334.1h0M536.6 93.6h0" stroke="#3c3c3c"/>
<path d="M575.2 74.4h0M536.3 84.8h0M574.5 74.5h0M257.5 387.5h0M590.7 71.6h0M329.3 331.4h0M572.3 90.9h0M392.1 262.8h0M571.2 93.8h0M462.0 158.4h0M521.1 131.1h0M353.7 299.5h0M555.4 100.8h0M496.0 147.4h0M335.2 318.1h0M386.0 273.2h0M467.4 161.7h0M496.2 132.9h0M374.1 278.6h0M258.6 381.0h0M337.5 324.8h0M553.4 102.0h0M487.3 128.8h0M524.0 91.7h0M508.0 105.9h0M573.1 91.9h0M346.0 316.8h0M442.0 210.4h0M391.1 235.4h0M312.1 327.0h0M392.6 240.8h0M282.5 369.2h0M269.7 372.0h0M526.8 91.4h0M510.3 104.3h0M290.3 351.0h0M558.0 97.2h0M537.2 103.1h0M578.7 66.7h0M555.5 100.8h0M471.6 145.1h0M247.1 403.3h0M485.7 141.2h0M515.6 121.3h0M296.8 350.8h0M260.9 383.9h0M314.2 325.8h0M451.3 164.5h0M450.6 165.9h0M570.9 84.8h0M464.2 156.5h0M556.5 70.4h0" stroke="#303030"/>
<path d="M292.0 361.3h0M527.1 102.7h0M431.6 204.0h0M510.7 146.1h0M555.1 103.2h0M576.6 76.6h0M470.2 189.7h0M413.6 230.8h0M431.4 194.6h0M597.8 50.1h0M534.1 127.6h0M510.3 101.7h0M261.0 385.2h0M556.0 73.2h0M269.6 383.4h0M274.8 375.7h0M280.5 381.1h0M377.3 276.3h0M459.7 192.0h0M465.6 167.2h0M574.5 56.4h0M503.3 110.6h0M439.7 186.8h0M412.0 222.1h0M438.8 197.0h0M497.2 144.9h0M413.9 216.9h0M534.4 84.8h0M470.6 186.7h0M552.6 96.2h0M528.1 113.0h0M588.9 62.1h0M345.0 290.5h0M517.5 92.4h0M495.4 155.0h0M263.9 382.0h0M494.3 131.4h0M596.3 60.3h0M439.6 195.3h0M260.8 378.9h0M451.7 163.8h0M521.4 133.7h0M521.9 118.1h0M344.3 275.4h0M515.5 117.5h0M307.1 333.5h0M538.1 112.5h0M591.4 70.4h0M376.2 277.0h0M324.2 335.5h0M442.8 185.3h0M482.1 135.1h0M432.9 228.9h0M468.1 155.2h0M441.4 204.1h0M533.8 90.0h0M508.0 147.6h0M280.0 370.7h0M377.2 252.5h0M363.1 263.9h0M271.8 375.8h0M534.6 79.0h0M557.1 71.0h0M591.2 68.1h0M347.4 301.4h0M407.6 248.8h0M522.3 130.3h0M511.3 113.3h0M361.5 293.7h0M523.0 132.1h0M392.8 261.6h0M413.8 216.5h0M552.0 102.9h0" stroke="#242424"/>
<path d="M384.3 240.0h0M374.9 279.5h0M571.3 94.1h0M496.7 121.0h0M539.2 85.9h0M533.3 131.1h0M515.7 121.5h0M524.4 117.7h0M503.2 135.1h0M438.1 199.4h0M414.5 215.5h0M472.2 187.7h0M475.9 140.3h0M436.4 214.2h0M297.4 350.3h0M436.8 182.8h0M451.3 210.0h0M451.1 201.2h0M456.4 202.5h0M316.9 340.4h0M495.4 136.1h0M459.1 200.2h0M456.2 182.0h0M438.1 211.9h0M451.4 179.8h0M421.6 230.0h0M579.4 80.7h0M588.8 68.1h0M492.5 135.5h0M469.5 190.5h0M587.9 56.1h0M477.3 177.1h0M453.3 204.8h0M463.7 199.1h0M514.8 138.4h0M404.6 252.0h0M450.8 212.2h0M519.5 103.5h0M391.3 238.0h0M514.1 123.0h0M413.1 212.9h0M501.3 116.3h0M521.3 118.5h0M585.8 76.0h0M519.4 95.8h0M545.3 74.6h0M565.7 97.1h0M479.8 170.8h0M506.0 144.6h0M555.1 74.0h0M470.4 184.1h0M345.8 289.7h0M458.9 194.4h0M435.2 217.9h0M409.3 219.3h0M510.2 142.9h0M490.7 134.4h0M527.9 110.4h0M466.0 190.5h0M314.6 316.9h0M457.4 201.5h0M509.5 141.4h0M509.6 147.3h0M502.6 136.1h0M454.5 198.3h0M287.0 359.2h0M531.0 107.3h0M265.4 376.0h0M488.3 163.7h0M511.6 113.6h0M399.2 234.7h0M505.9 103.2h0M510.5 116.8h0M449.5 181.5h0M402.2 218.0h0M516.2 122.3h0M493.5 127.0h0M489.6 164.1h0M448.5 207.4h0M323.0 338.5h0M502.2 130.8h0M529.3 122.1h0M298.2 347.5h0M359.5 295.7h0M490.1 163.4h0M566.8 91.0h0M341.3 313.4h0M484.3 132.6h0M461.2 178.3h0M309.6 337.8h0M528.6 124.3h0M533.1 116.4h0M269.6 379.6h0M290.1 351.3h0M591.3 52.4h0M534.8 89.5h0M477.2 180.8h0M340.7 288.6h0M552.7 106.3h0M410.1 218.6h0M442.4 187.9h0M501.4 108.8h0M506.4 149.8h0M289.1 355.8h0M279.1 365.0h0M509.6 117.2h0M567.2 88.6h0M496.8 130.3h0M261.6 385.2h0M286.8 372.5h0M519.7 112.6h0M518.3 103.0h0M555.5 100.7h0M478.4 155.8h0M458.5 205.7h0M281.1 364.9h0M486.9 169.0h0M445.6 200.2h0M283.3 357.5h0M532.8 117.8h0M477.2 179.6h0M496.4 150.4h0M544.9 89.3h0M493.9 133.5h0M536.1 79.6h0M431.2 202.8h0M281.2 369.1h0M500.6 158.6h0M289.9 353.4h0M449.7 203.3h0M560.2 97.8h0M296.1 358.8h0M520.4 134.6h0M509.3 141.6h0M547.2 102.3h0M577.6 68.3h0M499.0 155.4h0M434.7 223.2h0M340.8 291.1h0M515.2 93.8h0M340.3 315.4h0M436.7 188.6h0M486.5 126.8h0M529.4 96.4h0M492.6 132.5h0M555.1 97.3h0M267.0 372.5h0M411.7 217.7h0M413.7 234.9h0M479.3 178.2h0M398.9 235.7h0M504.9 147.4h0M474.9 182.2h0M314.3 332.1h0M513.4 146.8h0M456.2 198.9h0M490.4 159.2h0M298.5 346.9h0M444.6 212.9h0M363.0 293.9h0M454.1 204.9h0" stroke="#181818"/>
<path d="M468.3 172.4h0M565.6 83.3h0M438.1 186.3h0M586.0 65.4h0M400.2 236.8h0M527.9 109.9h0M554.5 73.2h0M598.1 53.9h0M555.6 104.3h0M418.0 239.5h0M414.7 233.7h0M499.9 130.1h0M587.8 66.0h0M499.8 151.8h0M276.6 363.4h0M481.2 172.0h0M565.5 83.2h0M581.7 68.4h0M596.5 50.1h0M497.5 125.5h0M394.4 225.3h0M473.3 142.8h0M590.2 60.2h0M537.2 87.9h0M450.8 207.4h0M530.5 93.2h0M519.3 118.8h0M580.0 81.1h0M578.4 53.0h0M585.8 74.1h0M487.4 138.1h0M420.9 230.5h0M519.0 128.6h0M550.6 112.0h0M534.4 114.2h0M568.8 85.6h0M520.6 111.2h0M532.8 105.3h0M526.9 125.9h0M314.1 346.7h0M591.7 64.4h0M577.2 82.1h0M487.1 171.1h0M499.4 140.8h0M433.8 194.0h0M501.2 136.8h0M514.1 105.6h0M528.8 113.9h0M528.1 95.1h0M574.6 81.4h0M539.4 95.1h0M560.0 93.6h0M545.4 86.2h0M474.6 179.4h0M525.4 114.9h0M528.1 115.7h0M499.3 138.6h0M502.0 156.2h0M447.6 206.4h0M490.4 131.2h0M495.1 138.9h0M503.4 117.7h0M536.6 117.2h0M542.8 102.0h0M507.5 139.4h0M514.7 141.1h0M529.1 110.1h0M528.3 113.6h0M499.1 114.5h0M557.1 106.5h0M535.7 91.7h0M496.1 134.1h0M530.5 108.5h0M504.1 102.0h0M407.7 221.6h0M549.9 77.5h0M506.8 150.2h0M553.0 94.9h0M519.3 117.6h0M581.5 66.0h0M490.9 140.8h0M551.6 79.6h0M546.4 73.7h0M293.5 354.3h0M311.6 343.1h0M510.2 129.8h0M480.5 177.0h0M593.5 56.1h0M544.0 119.5h0M590.2 72.4h0M457.8 198.5h0M553.1 90.7h0M538.1 91.0h0M287.8 358.9h0M578.4 81.8h0M573.7 77.6h0M564.5 79.0h0M446.2 208.3h0M597.1 61.1h0M506.1 149.1h0M526.4 96.6h0M323.1 337.4h0M591.3 69.5h0M521.7 103.2h0M325.8 336.8h0M422.3 200.5h0M518.4 104.8h0M438.6 218.0h0M566.3 98.2h0M499.6 125.1h0M600.0 51.3h0M533.0 122.0h0M515.4 122.2h0M510.7 128.4h0M541.0 83.2h0M473.2 160.1h0M552.8 81.5h0M478.9 166.3h0M521.2 121.2h0M587.1 55.2h0M598.8 61.5h0M522.9 132.8h0M513.6 109.4h0M302.4 345.2h0M319.2 340.6h0M459.8 204.3h0M554.8 74.7h0M529.9 108.7h0M567.4 57.7h0M486.5 173.0h0M295.5 354.5h0M531.8 120.9h0M514.1 121.6h0M565.5 88.6h0M499.3 138.5h0M522.5 94.3h0M564.6 94.3h0M475.5 152.2h0M274.0 376.6h0M523.0 98.0h0M269.0 380.2h0M272.1 368.5h0M566.9 86.7h0M585.3 59.5h0M437.8 217.0h0M472.5 174.3h0M476.0 174.3h0M533.6 108.9h0M536.0 100.0h0M431.7 195.7h0M456.5 204.2h0M571.5 84.7h0M490.5 137.8h0M542.1 89.7h0M596.0 63.4h0M512.3 125.6h0M488.3 132.0h0M585.1 69.5h0M508.3 130.3h0M526.2 134.4h0M495.6 160.4h0M572.2 91.7h0M600.2 57.8h0M539.1 94.1h0M270.5 370.7h0M485.0 166.9h0M512.7 110.5h0M302.4 345.7h0M528.4 130.3h0M554.8 79.6h0M481.6 137.4h0M592.6 64.1h0M524.2 131.6h0M528.1 111.8h0M307.5 340.1h0M514.6 141.8h0M493.2 115.7h0M585.1 59.9h0M555.6 107.6h0M513.4 139.2h0M423.6 203.5h0M487.2 127.1h0M553.4 105.7h0M519.1 108.5h0M555.8 72.8h0M456.4 188.0h0M513.9 102.3h0M403.8 221.4h0M361.8 296.3h0M519.2 113.1h0M560.2 93.2h0M471.5 185.9h0M535.6 102.4h0M516.9 115.7h0M550.5 76.1h0M583.9 61.5h0M508.4 150.6h0M480.2 174.4h0M596.1 53.6h0M458.8 196.4h0M545.2 118.3h0M417.1 240.4h0M436.3 196.0h0M525.6 96.5h0M544.8 109.9h0M521.0 121.8h0M361.3 286.6h0M584.8 76.6h0M586.2 63.6h0M557.8 69.6h0M498.4 107.9h0M462.1 195.4h0M542.0 110.6h0M476.1 151.5h0M557.0 71.3h0M325.9 330.3h0M558.3 64.2h0M594.8 66.0h0M363.0 285.3h0M555.8 97.2h0M571.8 89.6h0M570.3 91.5h0M418.7 238.2h0M432.8 194.3h0M592.2 53.9h0M577.0 71.7h0M518.8 121.9h0M346.5 300.8h0M554.3 80.9h0M524.8 105.3h0M506.8 127.9h0M553.8 76.8h0M319.9 335.4h0M526.8 98.9h0M536.7 86.7h0M594.8 47.2h0M549.5 81.8h0M583.1 72.8h0M540.4 97.8h0M315.8 337.3h0M548.6 82.0h0M581.1 76.9h0M528.5 98.3h0M523.0 120.4h0M574.5 75.4h0M533.3 122.2h0M587.0 74.2h0M516.0 131.8h0M277.1 365.7h0M279.1 372.0h0M537.9 113.6h0M482.3 137.2h0M454.0 200.9h0M552.2 84.4h0M593.8 58.8h0M312.0 347.5h0M527.3 113.6h0M485.9 171.3h0M484.1 161.3h0M449.7 174.8h0M578.3 78.2h0M521.7 140.9h0M573.8 54.7h0M537.2 96.0h0M543.7 89.5h0M536.8 101.8h0M537.1 124.0h0M591.8 53.6h0M566.7 62.7h0M593.1 52.6h0M505.0 136.6h0M592.9 64.0h0M577.8 72.3h0M520.0 101.5h0M541.1 88.9h0M540.5 93.0h0M556.6 71.5h0M533.2 91.6h0M499.4 122.3h0M562.3 92.2h0M489.0 171.3h0M430.4 195.6h0M550.7 106.7h0M529.8 95.1h0M503.7 128.8h0M320.5 335.9h0M585.5 78.3h0M442.0 201.2h0M546.5 82.1h0M566.9 95.1h0M567.3 87.6h0M428.1 210.2h0M464.4 182.6h0M512.6 107.9h0M315.9 330.7h0M471.3 159.5h0M291.8 341.4h0M470.9 192.9h0M300.7 343.4h0M313.1 347.8h0M556.5 96.8h0M377.4 271.2h0M511.1 135.1h0M296.7 347.9h0M404.1 223.2h0M401.7 232.7h0M509.5 137.5h0M583.6 60.0h0M481.0 179.9h0M562.9 90.4h0M557.3 105.7h0M320.1 342.1h0M326.1 328.8h0" stroke="#0c0c0c"/>
<path d="M402.6 222.0h0M577.3 52.6h0M529.5 96.1h0M443.5 219.6h0M524.0 106.8h0M597.8 59.0h0M505.6 123.4h0M393.9 249.6h0M522.1 137.4h0M527.8 132.4h0M481.5 142.2h0M497.3 133.2h0M537.3 118.6h0M300.7 343.7h0M442.6 211.7h0M520.1 103.1h0M520.1 138.3h0M499.5 157.7h0M497.3 131.9h0M506.5 126.1h0M424.6 204.0h0M511.3 122.0h0M316.8 330.1h0M525.8 136.0h0M496.1 134.0h0M583.5 65.1h0M550.1 105.0h0M436.9 198.3h0M475.8 160.8h0M463.7 193.2h0M599.9 50.1h0M490.4 134.8h0M544.0 118.3h0M532.4 119.2h0M536.4 115.2h0M513.9 117.4h0M479.9 135.1h0M519.9 110.8h0M551.0 100.8h0M506.7 124.7h0M519.1 111.5h0M480.1 142.7h0M410.4 219.7h0M458.5 169.8h0M594.1 47.1h0M520.6 122.5h0M506.3 155.4h0M529.9 112.9h0M393.2 250.6h0M502.7 147.1h0M577.2 53.6h0M498.4 112.6h0M540.9 85.6h0M586.2 65.9h0M456.5 190.4h0M524.0 99.4h0M495.3 134.9h0M553.4 82.6h0M571.8 56.6h0M557.3 66.5h0M542.0 86.0h0M514.4 146.4h0M564.4 83.8h0M478.8 177.0h0M522.7 133.6h0M514.4 123.5h0M493.3 160.1h0M547.7 88.1h0M448.5 203.2h0M371.4 258.8h0M505.3 127.8h0M523.9 123.2h0M542.3 107.1h0M289.9 355.0h0M568.2 82.3h0M549.9 100.9h0M478.6 178.4h0M545.4 88.2h0M531.3 121.2h0M535.1 103.1h0M531.3 91.7h0M457.3 189.7h0M556.3 104.8h0M506.6 137.7h0M493.6 134.3h0M504.1 157.4h0M511.4 145.1h0M535.2 101.2h0M526.1 115.2h0M589.3 61.4h0M280.9 362.7h0M371.3 257.7h0M372.1 275.4h0M542.1 93.2h0M514.7 121.5h0M534.0 126.3h0M352.0 272.7h0M433.1 218.9h0M571.7 76.5h0M474.6 156.6h0M559.1 99.6h0M576.5 79.0h0M582.1 83.1h0M557.7 98.8h0M527.5 115.8h0M521.1 92.9h0M303.8 341.4h0M416.7 223.3h0M569.3 81.5h0M536.8 101.0h0M493.8 160.6h0M589.2 68.2h0M524.7 135.6h0M501.5 123.4h0M581.8 52.7h0M452.1 200.1h0M557.6 91.3h0M560.0 66.6h0M260.3 385.6h0M569.4 83.5h0M576.4 67.7h0M554.2 99.9h0M526.8 127.1h0M428.1 226.1h0M591.5 67.6h0M490.0 142.5h0M493.1 155.3h0M507.7 146.7h0M519.3 137.5h0M575.8 81.1h0M532.2 119.4h0M329.5 330.0h0M554.8 97.7h0M556.2 74.4h0M257.5 385.8h0M558.1 67.6h0M597.7 56.7h0M521.8 116.6h0M515.3 130.8h0M554.0 70.4h0M564.8 96.2h0M598.7 52.4h0M513.8 135.7h0M490.0 167.3h0M470.4 185.3h0M593.2 65.6h0M493.1 161.9h0M476.7 174.9h0M501.5 111.0h0M576.3 69.4h0M488.8 136.0h0M521.8 134.2h0M296.0 347.9h0M440.8 213.0h0M524.3 105.7h0M533.8 120.4h0M278.1 383.5h0M288.4 353.9h0M564.2 85.3h0M580.7 66.2h0M534.0 107.0h0M547.9 82.5h0M566.4 95.1h0M458.2 194.5h0M576.2 81.5h0M518.1 132.8h0M576.2 67.8h0M465.4 183.1h0M477.8 179.6h0M542.9 82.8h0M525.2 112.5h0M429.6 196.9h0M542.9 80.1h0M587.2 66.3h0M505.3 145.7h0M537.5 110.2h0M523.2 116.6h0M487.5 164.2h0M306.6 347.8h0M543.1 91.0h0M569.6 77.8h0M282.7 360.3h0M470.6 186.7h0M494.6 131.8h0M507.5 154.6h0M321.5 332.1h0M530.9 105.3h0M581.6 71.1h0M456.9 180.7h0M334.9 327.7h0M498.4 131.4h0M484.8 168.9h0M590.0 69.9h0M546.2 121.2h0M494.0 139.9h0M525.5 117.7h0M521.5 108.4h0M495.1 138.6h0M474.4 191.5h0M524.0 99.9h0M502.7 121.7h0M575.3 72.4h0M583.1 73.6h0M531.3 106.5h0M552.9 76.4h0M509.7 110.7h0M498.2 123.3h0M498.1 124.3h0M502.8 132.4h0M517.1 139.6h0M495.1 124.5h0M529.4 135.8h0M314.5 347.0h0M524.9 129.0h0M536.1 100.6h0M465.6 187.0h0M464.8 193.3h0M530.9 92.2h0M421.3 205.3h0M523.1 130.2h0M544.4 82.4h0M591.7 52.8h0M524.4 98.2h0M522.1 120.8h0M597.5 55.9h0M561.4 68.7h0M448.1 183.0h0M475.6 146.8h0M563.4 65.7h0M515.9 117.8h0M574.4 79.3h0M492.5 132.7h0M490.0 131.3h0M322.2 333.3h0M455.4 190.9h0M540.5 114.2h0M285.3 366.0h0M524.0 132.6h0M554.8 74.4h0M506.9 120.1h0M549.9 111.0h0M574.0 52.9h0M526.3 133.7h0M549.7 110.9h0M569.4 93.9h0M291.6 349.9h0M470.7 185.2h0M493.8 159.2h0M530.3 94.0h0M567.2 61.5h0M536.8 97.9h0M457.8 200.3h0M543.6 116.9h0M568.8 60.3h0M483.7 136.2h0M306.2 342.2h0M581.1 72.4h0M539.4 112.3h0M439.1 214.6h0M587.4 59.7h0M469.8 159.1h0M522.6 132.5h0M438.7 201.7h0M561.0 65.1h0M538.8 114.3h0M499.7 137.5h0M519.6 121.7h0M492.5 156.2h0M515.3 97.1h0M557.0 106.5h0M491.9 162.6h0M490.6 126.2h0M541.7 88.9h0M533.7 104.7h0M471.7 184.3h0M563.3 91.5h0M495.7 143.7h0M540.9 115.9h0M511.8 131.7h0M498.6 115.5h0M593.0 48.1h0M526.9 93.4h0M465.5 191.6h0M485.1 129.6h0M576.1 70.6h0M558.1 106.0h0M518.9 140.4h0M316.6 341.2h0M527.6 114.1h0M486.2 163.7h0M576.3 81.1h0M558.4 103.7h0M564.1 85.8h0M507.8 126.7h0M313.3 340.6h0M405.7 221.7h0M571.6 89.6h0M600.2 53.4h0M539.4 90.4h0M552.4 75.2h0M565.8 85.0h0M450.4 178.1h0M500.7 126.2h0M432.5 191.2h0M443.9 209.2h0M538.8 83.4h0M560.7 66.7h0M563.4 63.3h0M545.3 113.0h0M471.0 184.1h0M511.6 147.1h0M543.1 93.6h0M589.3 54.9h0M506.0 151.1h0M500.3 130.8h0M512.0 136.0h0M570.8 57.4h0M549.8 113.0h0M448.2 194.9h0M258.4 382.9h0M311.6 345.4h0M517.1 140.3h0M438.7 210.5h0M596.3 51.9h0M505.8 145.1h0M513.3 148.6h0M435.7 204.0h0M502.9 128.1h0M480.0 175.7h0M491.4 139.0h0M535.8 120.4h0M527.3 94.9h0M286.4 355.2h0M531.2 120.4h0M507.8 142.6h0M601.0 53.5h0M538.8 114.6h0M530.7 101.9h0M256.6 381.5h0M593.5 62.7h0M508.5 152.3h0M482.5 168.3h0M564.6 87.0h0M436.5 213.5h0M564.0 83.6h0M326.2 326.6h0M459.4 168.8h0M517.8 94.8h0M600.5 58.8h0M532.6 123.5h0M474.4 187.6h0M507.7 136.8h0M510.4 109.7h0M521.8 139.1h0M500.4 130.6h0M528.4 107.8h0M541.4 85.1h0M502.1 113.0h0M522.9 136.7h0" stroke="#000000"/>
<path d="M178.2 496.1h0M371.1 276.3h0" stroke="#d8d8d8"/>
<path d="M156.4 520.5h0M176.0 499.4h0M269.6 358.3h0M280.8 345.9h0M378.6 242.3h0M361.3 259.8h0M302.0 322.2h0M225.4 448.3h0M281.8 355.3h0M374.2 283.5h0M385.2 262.7h0M224.7 449.2h0M364.1 281.7h0M179.3 495.3h0M377.5 247.6h0M348.7 286.8h0M368.8 277.2h0M252.5 378.0h0M351.7 274.2h0M203.2 475.9h0M330.8 309.8h0M382.9 264.1h0M188.4 487.0h0M380.1 262.6h0M297.8 328.6h0M307.4 324.5h0M256.2 376.3h0M311.6 328.1h0M164.7 498.0h0M380.4 257.5h0M176.6 500.7h0M383.3 247.9h0M404.8 245.4h0M376.3 282.0h0M361.6 285.3h0M378.5 256.0h0M360.2 289.1h0M287.7 338.0h0M315.0 319.2h0" stroke="#cccccc"/>
<path d="M286.5 339.3h0M281.3 347.1h0M348.3 295.8h0M352.8 299.9h0M378.9 258.4h0M340.4 310.6h0M301.8 356.3h0M171.1 497.3h0M340.6 283.9h0M383.5 246.9h0M197.0 473.6h0M291.9 367.4h0M353.7 290.2h0M303.4 333.0h0M292.2 331.7h0M349.2 281.7h0M295.3 338.9h0M265.8 369.3h0M344.8 301.6h0M366.4 283.0h0M330.9 300.0h0M365.8 270.8h0M413.1 206.8h0M368.0 255.5h0M342.0 282.9h0M295.4 341.3h0M324.3 313.2h0M230.4 443.2h0M198.9 474.9h0M173.9 496.8h0M367.1 270.1h0M336.1 299.8h0M302.0 331.7h0M401.7 230.9h0M349.2 277.3h0M159.0 511.4h0M295.0 333.4h0M397.6 253.0h0M382.6 245.4h0M376.7 253.1h0M305.2 327.3h0M190.7 478.5h0M267.2 362.9h0M349.3 284.1h0M377.1 275.3h0M396.0 251.8h0M381.1 243.5h0M199.6 431.8h0M369.2 282.6h0M395.7 245.3h0M365.6 259.8h0M323.9 308.7h0M398.5 252.1h0M415.5 214.4h0M316.5 325.6h0M352.6 292.7h0M375.8 249.5h0M147.4 495.1h0M397.8 242.4h0M329.4 318.9h0M300.1 333.1h0M272.9 379.4h0M330.4 299.4h0M375.2 288.0h0M208.5 467.3h0M390.5 257.9h0M268.3 360.6h0M349.8 282.0h0M289.8 345.1h0M382.3 244.5h0M377.8 243.4h0M331.7 309.1h0M248.1 433.3h0M313.9 320.7h0M178.6 493.0h0M381.2 256.5h0M277.0 375.4h0M260.8 373.2h0M322.1 321.0h0M360.8 280.9h0M340.8 292.7h0M227.9 399.1h0M291.6 340.6h0M228.9 445.1h0M387.3 237.0h0M310.8 322.7h0M361.4 284.3h0M315.0 309.7h0M256.1 379.8h0M384.9 275.7h0M346.5 274.3h0M371.7 277.6h0M326.0 320.3h0M386.3 276.6h0M370.8 254.0h0M219.3 458.7h0M330.9 293.8h0M362.4 258.7h0M163.3 507.8h0M405.4 232.5h0M175.0 494.9h0M339.2 311.0h0M288.9 336.5h0M278.3 346.9h0M375.5 249.5h0M302.3 323.2h0M373.5 290.6h0M301.7 324.8h0M339.6 294.7h0M295.5 329.9h0M288.3 378.4h0M144.2 497.8h0M386.5 272.4h0M333.4 312.0h0M284.8 364.9h0M381.5 249.7h0M322.6 326.4h0M320.8 314.2h0M352.1 306.9h0M364.7 263.8h0M371.7 254.1h0M291.4 343.5h0M331.3 310.2h0M359.7 260.1h0M393.7 249.9h0M341.1 298.7h0M247.1 381.8h0M189.6 479.6h0M224.0 404.7h0M284.0 365.6h0M329.2 287.5h0M377.6 270.9h0M413.0 236.8h0M327.8 327.3h0M345.8 277.6h0M385.6 273.3h0M348.8 268.7h0M394.9 238.6h0M311.9 323.9h0M361.5 265.5h0M313.6 310.1h0M245.3 433.7h0M354.3 276.4h0M401.7 247.4h0M398.5 254.6h0M337.1 303.3h0M401.9 251.5h0M339.3 284.9h0M302.3 321.8h0M357.2 270.1h0M323.1 299.3h0M323.9 316.3h0M357.1 270.4h0M146.9 498.0h0M171.1 501.7h0M366.5 262.5h0M319.6 316.4h0M382.7 276.5h0M300.6 326.8h0M349.0 287.8h0M259.9 367.6h0M162.3 501.7h0M378.8 283.8h0M323.6 301.4h0M400.2 241.8h0M320.9 305.2h0M334.4 309.7h0M266.4 367.9h0M327.5 332.6h0M373.9 268.9h0M312.6 322.7h0M337.5 312.6h0M377.9 275.3h0M244.1 385.2h0M147.7 518.2h0M350.8 272.4h0M188.8 487.5h0M293.7 342.1h0M350.5 274.1h0M350.0 294.1h0M199.1 480.1h0M204.0 477.3h0M377.3 260.1h0M365.4 263.0h0M342.9 278.9h0M253.8 374.5h0M349.6 314.8h0M174.1 495.3h0M216.7 464.0h0M341.2 307.6h0M316.6 334.3h0M314.2 318.9h0" stroke="#c0c0c0"/>
<path d="M315.9 324.6h0M312.0 319.5h0M260.4 417.9h0M199.9 477.2h0M269.2 381.1h0M373.4 263.7h0M198.2 472.7h0M486.1 159.5h0M420.6 232.9h0M289.6 356.6h0M367.9 261.0h0M363.4 275.6h0M397.5 256.2h0M164.2 503.4h0M297.0 341.2h0M360.5 265.0h0M342.8 299.0h0M392.2 239.0h0M219.2 410.0h0M326.7 305.9h0M347.8 314.7h0M350.2 293.0h0M381.9 251.7h0M339.1 289.0h0M348.4 314.5h0M362.4 299.3h0M481.5 150.1h0M289.5 369.3h0M406.3 248.4h0M391.8 248.2h0M246.0 385.6h0M371.1 280.8h0M304.5 326.5h0M362.9 280.1h0M332.0 326.6h0M165.7 508.7h0M343.7 279.0h0M275.0 378.2h0M317.9 346.6h0M425.1 212.7h0M338.5 285.9h0M389.4 241.5h0M304.4 332.1h0M325.7 325.1h0M298.1 337.6h0M281.3 352.4h0M290.2 365.6h0M415.5 247.0h0M334.0 308.8h0M396.5 254.8h0M338.2 277.4h0M381.1 257.5h0M366.9 281.8h0M357.5 257.8h0M427.4 216.0h0M452.1 192.9h0M374.4 252.3h0M253.4 426.7h0M409.1 225.5h0M330.6 301.3h0M383.4 281.5h0M329.5 312.3h0M330.8 301.3h0M401.9 230.1h0M433.7 224.8h0M280.7 380.8h0M342.0 298.1h0M263.0 372.3h0M141.8 499.7h0M333.3 314.4h0M356.8 286.5h0M337.5 320.6h0M370.8 259.3h0M330.7 331.0h0M417.2 233.4h0M376.8 255.8h0M310.5 317.5h0M338.3 280.8h0M365.7 281.0h0M203.8 471.1h0M380.2 272.2h0M337.9 297.9h0M289.6 337.2h0M335.8 280.5h0M322.7 329.4h0M303.8 335.0h0M315.8 308.9h0M349.7 296.1h0M354.2 267.0h0M362.0 290.8h0M162.3 487.7h0M490.8 155.8h0M154.4 491.7h0M489.9 158.2h0M353.4 296.6h0M393.2 242.1h0M393.2 240.5h0M432.4 213.8h0M175.3 492.2h0M444.9 198.4h0M217.5 410.1h0M139.9 502.9h0M340.5 275.7h0M391.1 268.6h0M272.6 357.1h0M233.4 437.7h0M170.2 504.2h0M155.5 514.3h0M321.0 335.7h0M442.3 219.0h0M317.7 304.0h0M323.4 330.5h0M316.4 345.6h0M340.3 280.6h0M204.3 464.8h0M337.1 307.7h0M367.9 269.8h0M211.9 422.1h0M339.1 301.6h0M347.3 278.6h0M241.2 436.9h0M348.3 284.5h0M437.2 202.3h0M215.7 454.1h0M326.6 307.6h0M343.5 280.8h0M378.8 239.6h0M365.0 291.2h0M368.7 267.1h0M370.8 291.2h0M327.6 306.6h0M376.2 287.2h0M386.7 245.7h0M360.5 288.6h0M370.3 256.9h0M333.6 286.9h0M340.7 281.2h0M297.2 346.9h0M217.2 465.9h0M307.9 318.9h0M282.4 353.3h0M338.5 311.8h0M328.1 310.9h0M403.7 243.0h0M157.7 505.3h0M398.9 236.2h0M364.0 284.8h0M187.8 479.2h0M397.1 249.3h0M171.9 490.0h0M395.4 226.7h0M324.2 324.5h0M360.1 272.6h0M262.7 417.0h0M343.9 295.9h0M340.3 298.1h0M213.4 459.6h0M432.4 225.7h0M339.9 289.7h0M360.4 299.7h0M356.2 273.2h0M172.9 498.6h0M257.4 377.7h0M173.9 472.8h0M359.3 265.9h0M160.0 503.9h0M369.6 253.5h0M382.0 242.7h0M376.9 267.2h0M158.0 503.4h0M427.1 223.9h0M370.5 287.3h0M159.0 489.5h0M325.6 315.0h0M444.2 187.4h0M271.9 398.2h0M165.5 498.2h0M340.8 292.2h0M131.6 517.5h0M400.0 250.3h0M219.7 464.7h0M351.7 294.2h0M372.5 269.3h0M418.0 236.0h0M348.3 301.2h0M355.6 301.3h0M340.3 306.0h0M476.9 183.3h0M376.2 256.7h0M360.0 260.3h0M266.8 363.3h0M395.7 231.3h0M299.3 338.0h0M332.8 319.0h0M300.1 326.6h0M295.8 369.3h0M358.9 280.3h0M378.1 257.2h0M349.4 289.3h0M176.3 474.8h0M219.1 464.3h0M366.3 271.8h0M236.9 431.6h0M397.5 258.3h0M478.9 181.6h0M238.8 388.9h0M179.4 487.4h0M374.0 252.5h0M354.3 297.4h0M219.5 460.2h0M405.0 242.2h0M345.0 305.2h0M408.1 217.5h0M397.1 224.6h0M190.5 480.3h0M370.9 255.0h0M340.2 282.2h0M415.9 227.5h0M307.5 319.7h0M264.4 370.1h0M330.4 318.5h0M213.0 455.6h0M429.8 234.8h0M337.4 278.1h0M326.9 304.8h0M185.6 488.3h0M199.5 478.0h0M380.6 244.7h0M262.2 373.5h0M358.8 301.6h0M326.1 308.8h0M341.1 308.5h0M290.9 355.1h0M367.9 255.2h0M358.6 265.7h0M432.0 215.0h0M407.0 216.1h0M320.0 330.9h0M248.4 431.9h0M135.8 509.8h0M442.1 217.5h0M364.3 264.2h0M379.3 249.6h0M342.0 311.8h0" stroke="#b4b4b4"/>
<path d="M392.2 256.7h0M403.0 259.3h0M388.8 271.6h0M348.5 275.8h0M264.8 400.3h0M225.5 450.1h0M378.3 262.9h0M350.7 310.9h0M387.6 259.9h0M397.0 260.3h0M338.4 291.8h0M360.1 280.9h0M441.0 188.5h0M343.2 283.7h0M215.0 463.2h0M358.1 270.7h0M363.4 297.3h0M360.8 271.4h0M182.3 489.2h0M297.8 337.5h0M309.6 317.1h0M215.9 456.3h0M317.6 332.0h0M173.5 496.5h0M323.1 302.2h0M289.9 355.8h0M439.7 223.2h0M486.1 161.1h0M173.9 495.7h0M378.9 260.2h0M309.1 317.2h0M228.0 451.6h0M324.2 312.8h0M228.7 444.5h0M374.5 250.9h0M169.1 483.4h0M212.2 465.8h0M214.0 453.6h0M341.9 306.6h0M428.4 205.3h0M285.4 370.9h0M333.0 313.1h0M305.7 329.0h0M334.0 299.4h0M437.3 208.7h0M210.0 470.9h0M377.5 259.8h0M321.6 335.7h0M178.8 477.2h0M302.1 330.3h0M149.9 515.2h0M169.9 491.8h0M315.8 322.8h0M353.9 298.7h0M378.2 268.8h0M350.2 274.0h0M238.8 429.7h0M292.8 343.2h0M279.5 349.1h0M391.6 240.2h0M217.7 460.3h0M272.0 363.7h0M366.7 251.0h0M405.9 215.3h0M303.4 347.5h0M356.0 270.1h0M351.9 299.6h0M308.6 323.4h0M380.6 247.7h0M172.7 481.9h0M358.3 263.5h0M407.4 249.7h0M316.6 323.6h0M242.7 435.0h0M409.0 209.5h0M206.7 471.4h0M302.8 362.1h0M373.4 252.1h0M219.4 460.1h0M315.5 305.6h0M291.7 364.7h0M399.6 262.3h0M426.9 225.8h0M297.9 357.3h0M337.3 293.9h0M370.2 261.6h0M358.2 266.7h0M406.3 228.7h0M329.9 327.9h0M225.9 450.3h0M363.1 289.7h0M340.8 278.9h0M398.1 254.5h0M475.7 168.3h0M375.4 250.1h0M293.3 336.6h0M432.8 230.4h0M324.5 312.1h0M133.5 524.9h0M368.5 262.9h0M321.8 330.8h0M327.8 290.8h0M328.6 319.1h0M332.7 300.4h0M356.4 295.9h0M177.3 473.6h0M384.3 266.3h0M276.2 399.5h0M373.1 271.9h0M351.0 291.9h0M387.5 263.6h0M440.6 206.6h0M359.4 293.8h0M376.0 248.7h0M479.8 153.7h0M383.8 273.9h0M166.9 480.5h0M354.1 267.1h0M267.4 406.2h0M392.5 256.4h0M416.5 239.9h0M425.5 231.3h0M316.1 334.9h0M238.2 438.8h0M180.0 494.9h0M276.8 350.8h0M294.8 336.8h0M452.6 192.5h0M138.0 505.8h0M342.1 292.4h0M471.9 153.8h0M300.3 348.4h0M488.7 145.9h0M425.6 219.7h0M361.1 264.2h0M386.6 252.1h0M372.1 268.1h0M207.9 471.2h0M309.5 328.1h0M230.5 440.7h0M400.4 252.9h0M314.2 348.1h0M142.4 502.4h0M456.9 176.6h0M343.5 295.9h0M328.6 330.4h0M330.9 311.4h0M333.1 330.0h0M389.7 262.0h0M301.4 357.5h0M175.6 491.3h0M156.8 511.3h0M371.2 260.7h0M455.3 182.8h0M353.1 270.3h0M402.9 228.9h0M198.2 481.8h0M205.3 460.3h0M168.6 506.5h0M372.4 276.8h0M463.1 171.2h0M378.6 263.8h0M311.1 320.0h0M385.3 256.7h0M273.3 395.9h0M330.8 303.0h0M174.5 494.1h0M267.7 361.1h0M251.4 424.2h0M225.8 450.3h0M486.3 153.5h0M265.5 365.7h0M310.0 312.5h0M360.0 268.0h0M336.9 312.2h0M318.1 332.8h0M341.4 311.8h0M407.1 248.2h0M358.1 291.3h0M165.5 482.6h0M472.0 164.8h0M405.0 227.8h0M317.4 312.7h0M343.3 283.8h0M336.6 304.7h0M459.5 177.3h0M369.4 288.4h0M295.4 337.7h0M266.2 364.4h0M387.5 251.1h0M405.0 216.1h0M487.4 168.5h0M469.7 168.7h0M411.5 230.0h0M145.7 498.2h0M416.7 233.0h0M152.4 494.5h0M166.7 481.5h0M262.9 419.3h0M361.2 263.9h0M377.4 264.0h0M412.9 209.2h0M264.0 414.9h0M413.0 237.3h0M200.3 472.6h0M164.8 496.2h0M248.2 425.5h0M381.4 275.0h0M218.1 459.7h0M409.2 243.6h0M395.9 243.5h0M356.4 300.0h0M343.2 291.9h0M382.8 277.7h0M319.5 324.8h0M161.3 488.9h0M354.4 298.1h0M342.7 296.9h0M449.4 193.7h0M387.2 237.3h0M314.4 337.2h0M467.9 170.9h0M486.3 147.3h0M239.2 430.1h0M430.8 221.3h0M351.7 270.9h0M377.4 274.9h0M221.4 453.3h0M293.1 369.4h0M296.9 340.6h0M373.7 270.3h0M163.1 487.0h0M415.3 234.0h0M214.8 458.3h0M437.1 200.2h0M281.6 378.7h0M415.0 246.2h0M189.5 478.6h0M401.9 238.2h0M444.5 217.7h0M346.8 306.7h0" stroke="#a8a8a8"/>
<path d="M472.3 152.5h0M463.8 160.5h0M293.4 353.7h0M381.6 261.4h0M203.9 472.9h0M375.1 276.2h0M164.0 481.8h0M198.7 436.8h0M229.3 405.8h0M276.3 386.9h0M183.3 482.1h0M276.1 393.8h0M239.2 435.7h0M149.7 511.7h0M420.9 220.7h0M316.4 329.2h0M411.5 214.3h0M254.4 371.2h0M168.6 484.1h0M379.7 280.1h0M231.5 452.9h0M243.5 435.8h0M337.2 322.8h0M374.0 276.0h0M221.9 452.9h0M449.4 192.5h0M439.4 204.2h0M435.8 217.4h0M465.9 158.3h0M302.7 345.6h0M255.5 421.8h0M481.3 159.2h0M468.3 168.7h0M390.2 243.9h0M209.7 437.6h0M188.4 469.0h0M381.0 266.3h0M178.5 490.4h0M373.1 282.0h0M300.4 325.3h0M169.5 483.4h0M413.8 243.9h0M234.0 438.2h0M308.6 353.0h0M480.5 152.1h0M365.0 276.5h0M167.0 499.1h0M176.4 487.9h0M236.3 434.6h0M356.7 264.3h0M244.8 423.9h0M481.1 151.6h0M172.5 480.7h0M465.9 159.7h0M368.5 277.4h0M270.2 361.2h0M157.8 490.5h0M194.8 474.1h0M317.6 329.0h0M280.8 392.2h0M420.5 238.9h0M320.7 335.9h0M191.8 479.4h0M413.2 219.0h0M411.6 215.4h0M431.4 208.7h0M296.8 327.3h0M329.7 331.4h0M467.6 194.2h0M440.4 220.2h0M434.8 218.7h0M211.9 461.6h0M323.8 340.3h0M215.5 451.6h0M410.0 209.9h0M348.0 306.4h0M261.1 411.9h0M345.9 311.6h0M231.9 436.5h0M209.9 440.1h0M387.9 269.3h0M162.1 488.0h0M199.0 471.0h0M301.5 360.7h0M425.6 211.4h0M423.1 235.0h0M222.8 445.4h0M187.4 465.1h0M229.3 446.5h0M249.7 432.6h0M219.5 443.9h0M262.2 411.0h0M404.1 235.6h0M392.4 229.4h0M429.8 209.7h0M242.6 422.5h0M227.3 449.2h0M337.8 326.8h0M315.7 333.4h0M442.0 194.7h0M230.7 440.9h0M416.2 205.6h0M391.6 270.5h0M326.2 329.9h0M468.9 170.9h0M350.6 303.1h0M384.0 277.7h0M231.6 436.7h0M465.0 178.5h0M451.3 174.7h0M165.2 480.5h0M481.6 179.7h0M229.7 448.3h0M411.1 208.9h0M168.3 476.3h0M434.2 224.1h0M447.7 188.0h0M227.1 443.8h0M388.9 248.4h0M164.2 486.6h0M378.4 244.2h0M318.9 328.5h0M257.2 421.5h0M470.6 154.8h0M253.2 427.8h0M224.0 442.8h0M348.0 309.0h0M360.6 290.4h0M345.8 320.3h0M292.0 366.9h0M230.6 446.0h0M203.6 463.7h0M210.0 439.2h0M340.5 313.0h0M232.4 446.9h0M431.2 212.3h0M344.7 308.2h0M227.7 445.7h0M212.0 454.2h0M393.3 248.1h0M434.1 206.6h0M432.2 213.4h0M439.0 197.1h0M203.3 469.2h0M265.9 403.2h0M476.8 148.7h0M247.7 429.8h0M233.2 435.7h0M163.0 486.6h0M200.4 466.3h0M152.9 497.2h0M172.2 477.6h0M388.7 270.0h0M433.2 215.7h0M397.9 262.7h0M424.2 210.9h0M217.1 460.5h0M208.4 472.4h0M461.3 164.7h0M423.4 220.3h0M284.5 347.0h0M384.0 265.2h0M367.0 281.2h0M233.9 391.7h0M392.2 252.1h0" stroke="#9c9c9c"/>
<path d="M287.8 359.5h0M396.1 242.9h0M323.7 341.3h0M365.5 267.1h0M286.6 377.3h0M308.9 354.9h0M271.0 366.9h0M483.3 150.0h0M233.1 440.6h0M328.6 333.9h0M178.9 466.7h0M248.9 422.0h0M422.3 219.9h0M228.4 447.6h0M233.3 438.4h0M193.5 465.1h0M347.2 311.6h0M467.8 168.1h0M267.3 368.5h0M272.5 407.1h0M190.2 466.9h0M260.6 408.4h0M259.7 412.1h0M274.9 405.3h0M203.9 472.1h0M236.1 430.3h0M168.2 478.4h0M275.3 390.3h0M413.5 240.6h0M173.8 475.4h0M272.0 384.4h0M283.1 388.3h0M331.5 326.0h0M255.6 421.1h0M186.1 467.2h0M245.7 419.2h0M226.5 445.0h0M476.1 149.4h0M380.2 271.2h0M364.1 286.9h0M193.1 472.4h0M206.4 447.3h0M268.4 404.9h0M316.0 324.9h0M234.0 438.4h0M231.1 444.1h0M255.3 424.2h0M252.4 413.4h0M257.2 418.6h0M387.4 266.7h0M281.1 393.9h0M260.7 412.6h0M291.5 381.2h0M444.2 175.9h0M209.0 457.3h0M212.9 453.8h0M389.4 265.6h0M252.2 415.2h0M327.8 301.7h0M273.0 402.3h0M393.4 257.3h0M424.3 219.1h0M178.2 469.4h0M299.7 345.1h0M320.6 310.5h0M236.5 442.1h0M366.0 274.6h0M363.9 263.2h0M248.7 433.5h0M197.1 456.4h0M237.8 426.8h0M186.3 461.0h0M334.4 320.8h0M173.7 477.3h0M238.8 431.9h0M178.9 467.8h0M438.6 219.0h0M437.6 220.9h0M458.5 189.5h0M232.8 437.5h0M205.9 449.8h0M416.0 223.8h0M203.1 472.5h0M427.2 223.7h0M284.9 373.2h0M190.6 478.5h0M225.8 444.0h0M196.4 458.6h0M323.2 299.8h0M331.5 320.9h0M209.7 456.0h0M189.2 462.6h0M299.1 357.8h0M358.8 275.6h0M173.8 471.2h0M249.7 417.7h0M472.1 164.2h0M267.3 403.3h0M181.4 464.7h0M197.1 448.6h0M451.0 194.5h0M450.9 186.3h0M453.2 182.7h0M207.2 442.3h0M392.0 255.5h0M182.5 483.1h0M236.6 438.2h0M211.4 461.2h0M443.3 176.9h0M189.7 462.3h0M292.8 369.5h0M398.3 264.5h0M191.5 461.0h0M172.0 481.9h0M335.8 317.1h0M231.5 438.2h0M323.4 312.2h0M465.9 164.0h0M452.7 207.1h0M459.7 189.4h0M338.1 303.7h0M194.7 462.1h0M243.1 429.3h0M335.8 325.0h0M275.9 402.6h0M241.6 423.2h0M259.4 407.0h0M264.3 406.0h0M449.3 198.4h0M151.2 495.1h0M196.7 457.5h0M296.2 364.5h0M456.7 190.9h0M360.0 268.2h0M195.4 463.9h0M438.4 187.1h0M202.2 444.6h0M328.6 328.9h0M346.2 297.4h0M388.3 239.3h0M271.5 407.5h0M476.2 163.5h0M466.4 181.2h0M449.9 191.1h0M215.4 458.4h0M485.8 146.9h0M201.2 441.5h0M266.4 405.3h0M349.0 289.1h0M170.7 493.2h0M270.0 400.0h0M275.3 387.4h0M196.1 463.4h0M194.2 451.0h0M372.9 275.8h0M269.7 365.1h0M181.1 485.8h0M248.9 419.9h0M371.9 276.7h0M238.8 425.6h0M422.4 236.4h0M301.8 324.5h0M242.1 425.6h0M269.2 400.8h0" stroke="#909090"/>
<path d="M268.2 398.9h0M329.2 324.2h0M327.7 327.8h0M188.2 457.0h0M289.8 359.9h0M279.3 395.3h0M370.8 266.2h0M280.7 377.6h0M380.6 272.7h0M246.4 417.0h0M424.4 195.2h0M424.7 216.1h0M249.8 421.3h0M415.2 230.9h0M275.8 386.5h0M338.3 289.1h0M381.3 271.8h0M354.5 278.4h0M265.6 393.3h0M340.9 281.4h0M247.0 419.9h0M255.4 411.8h0M391.0 233.6h0M450.9 185.4h0M208.7 447.9h0M461.6 160.7h0M467.9 172.4h0M373.3 273.7h0M266.7 405.6h0M299.1 361.1h0M351.5 284.8h0M244.8 418.5h0M424.4 233.0h0M192.9 458.8h0M199.7 445.2h0M414.3 232.7h0M342.6 318.8h0M422.8 224.1h0M273.7 397.9h0M295.2 364.8h0M287.6 337.3h0M296.2 365.9h0M171.1 479.2h0M335.8 294.7h0M266.2 402.5h0M256.0 424.5h0M474.9 169.5h0M251.9 416.6h0M319.1 327.0h0M193.4 452.0h0M279.6 388.2h0M267.3 400.0h0M342.9 281.8h0M178.3 470.1h0M485.3 158.5h0M487.6 156.2h0M427.9 221.9h0M366.4 273.6h0M289.2 360.8h0M288.0 374.5h0M241.0 426.5h0M193.6 456.1h0M274.3 387.1h0M285.9 363.1h0M267.3 397.4h0M270.5 357.9h0M303.6 355.6h0M350.8 299.5h0M305.5 342.7h0M373.4 260.5h0M301.3 360.1h0M246.4 417.5h0M323.2 317.3h0M425.6 224.8h0M247.6 415.9h0M495.0 148.6h0M201.8 443.5h0M271.4 399.5h0M190.4 462.3h0M285.7 361.7h0M436.8 206.2h0M269.5 395.7h0M460.2 187.7h0M282.0 394.5h0M444.7 199.5h0M375.7 249.4h0M355.5 289.2h0M198.5 453.5h0M301.7 335.4h0M186.1 458.4h0M469.6 176.0h0M265.0 407.1h0M232.5 442.0h0M448.1 194.5h0M343.1 306.9h0M195.6 459.6h0M233.5 433.9h0M185.0 463.4h0M426.4 202.2h0M367.5 272.3h0M221.9 422.7h0M276.9 391.1h0M238.4 401.5h0M363.6 268.2h0M207.5 438.2h0M279.0 393.0h0M285.4 385.0h0M477.3 184.1h0M356.4 275.6h0M284.0 374.4h0M228.8 436.5h0M275.8 391.7h0M296.8 335.2h0M294.9 356.7h0M316.7 332.1h0M394.3 254.1h0M261.9 399.7h0M189.3 459.0h0M423.9 202.6h0M250.7 416.5h0M340.7 321.1h0M391.8 234.9h0M443.5 201.4h0M263.7 402.4h0M302.4 349.5h0M323.7 330.3h0M187.9 467.7h0M378.5 269.4h0M200.4 452.3h0M412.2 233.8h0M359.5 287.5h0M268.6 383.1h0M426.9 200.7h0M307.9 356.0h0M322.3 334.6h0M270.8 395.3h0M480.2 166.1h0M390.3 267.3h0M456.0 176.8h0M250.8 417.0h0M239.5 424.4h0M190.9 456.8h0M263.8 413.7h0M191.1 463.8h0M207.1 448.4h0M476.7 145.8h0M340.9 311.8h0M301.2 362.9h0M387.6 239.9h0M363.2 292.9h0M260.0 404.8h0M488.8 158.7h0M217.6 439.2h0M236.9 435.0h0M406.6 240.3h0M287.6 338.3h0M265.5 397.8h0M286.6 374.0h0M438.1 205.2h0M216.1 439.2h0M192.5 464.3h0M279.9 395.8h0M202.1 444.2h0M211.3 444.3h0M460.4 158.6h0M359.5 269.4h0M200.5 444.5h0" stroke="#848484"/>
<path d="M205.2 440.6h0M321.7 309.0h0M448.0 186.0h0M325.4 328.4h0M224.1 419.6h0M488.6 158.2h0M362.9 269.1h0M462.3 185.9h0M429.4 197.5h0M313.0 350.8h0M479.3 167.0h0M342.9 293.3h0M406.1 240.3h0M202.3 445.0h0M344.9 280.1h0M342.1 313.0h0M250.0 416.9h0M351.6 301.4h0M269.2 393.5h0M301.3 345.0h0M199.7 445.5h0M272.5 366.2h0M487.1 158.7h0M267.2 395.1h0M326.8 328.6h0M260.6 401.2h0M331.0 292.3h0M217.5 437.3h0M368.3 295.7h0M426.5 206.0h0M341.7 294.3h0M293.7 359.0h0M331.6 326.3h0M218.7 428.1h0M440.2 183.5h0M412.9 207.5h0M408.9 247.1h0M339.2 306.9h0M282.5 382.4h0M226.8 427.6h0M387.8 265.9h0M213.5 434.6h0M236.0 418.0h0M480.0 156.8h0M195.1 448.2h0M203.0 443.4h0M408.0 249.1h0M197.4 457.5h0M253.8 410.7h0M286.1 387.2h0M325.0 297.0h0M460.0 161.2h0M206.9 434.8h0M414.0 205.0h0M367.4 288.1h0M474.0 169.9h0M382.4 249.9h0M471.5 158.7h0M366.7 287.9h0M415.8 212.2h0M249.2 384.0h0M466.4 172.6h0M385.5 263.7h0M347.2 284.0h0M267.6 400.0h0M489.7 150.1h0M338.9 289.2h0M260.6 403.8h0M264.5 392.9h0M264.9 391.4h0M488.0 158.4h0M366.1 279.1h0M463.9 159.9h0M323.9 298.5h0M242.1 420.9h0M449.2 185.0h0M450.2 198.0h0M297.3 334.5h0M442.2 182.6h0M202.7 447.2h0M409.4 241.0h0M473.9 156.8h0M422.6 223.6h0M325.1 321.4h0M304.0 359.7h0M307.6 349.9h0M454.1 177.2h0M397.2 237.3h0M266.0 410.3h0M381.0 245.7h0M202.1 443.6h0M429.5 212.3h0M282.3 384.6h0M302.5 324.0h0M246.4 419.6h0M489.9 149.0h0M461.3 183.7h0M303.9 349.0h0M295.6 372.4h0M352.2 280.5h0M423.2 203.9h0M266.2 404.5h0M370.1 287.5h0M386.9 255.6h0M318.1 331.0h0M199.0 446.5h0M315.6 334.5h0M275.8 389.9h0M447.2 186.9h0M301.7 343.8h0M381.3 244.4h0M200.9 451.3h0M462.8 168.8h0M444.7 181.4h0M316.1 307.9h0M265.3 411.5h0M242.5 419.7h0M441.8 181.3h0M325.7 320.7h0M247.3 418.3h0M253.8 411.8h0M283.6 380.0h0M425.1 206.3h0M366.3 278.8h0M304.1 342.6h0M265.1 395.8h0M307.4 337.2h0" stroke="#787878"/>
<path d="M392.3 236.5h0M235.4 415.2h0M278.1 377.5h0M234.7 407.5h0M204.3 445.1h0M362.2 269.7h0M470.9 174.8h0M228.6 425.9h0M459.5 163.2h0M414.7 204.8h0M443.1 189.2h0M433.0 195.1h0M400.2 219.7h0M459.1 167.2h0M245.3 394.5h0M480.9 155.3h0M427.0 218.8h0M293.7 371.8h0M422.8 214.5h0M398.7 252.9h0M412.7 216.6h0M349.7 300.7h0M221.5 432.3h0M330.4 300.2h0M391.7 229.0h0M452.0 179.0h0M301.6 344.7h0M233.7 409.2h0M359.6 280.3h0M437.9 200.5h0M219.2 428.5h0M225.7 418.6h0M458.5 164.8h0M217.4 429.6h0M462.3 182.4h0M480.2 150.7h0M410.7 213.1h0M235.6 411.7h0M353.6 300.0h0M325.8 300.0h0M419.1 210.2h0M422.6 204.6h0M298.3 333.5h0M388.9 238.8h0M478.3 170.4h0M459.8 168.8h0M284.3 382.0h0M194.8 455.3h0M201.6 447.1h0M286.6 367.5h0M383.2 249.4h0M471.1 172.5h0M383.9 256.5h0M277.7 353.8h0M443.4 183.1h0M417.3 242.6h0M330.3 327.1h0M237.4 406.0h0M214.8 432.3h0M225.2 426.6h0M496.2 166.1h0M218.0 433.9h0M216.2 430.4h0M227.0 420.6h0M420.6 231.9h0M457.4 168.8h0M266.0 391.8h0M351.6 283.3h0M371.1 255.3h0M236.0 413.7h0M463.7 163.6h0M307.8 337.6h0M470.0 160.0h0M273.4 381.9h0M215.1 437.8h0M334.6 307.3h0M302.3 328.0h0M204.8 451.5h0M270.7 363.0h0M203.4 454.0h0M249.5 383.0h0M218.8 430.8h0M420.6 223.1h0M443.4 182.4h0M421.9 199.9h0M435.3 194.1h0M236.9 410.6h0M334.9 293.2h0M315.2 339.5h0M195.6 457.0h0M236.8 415.1h0M446.5 203.7h0M300.1 361.2h0M334.8 323.1h0M273.5 360.4h0M344.8 311.0h0M225.9 415.5h0M391.1 237.4h0M205.4 441.8h0M276.8 350.9h0M305.5 339.6h0M300.7 341.8h0M421.6 205.4h0M467.0 178.8h0M390.1 238.7h0M290.6 366.9h0M270.2 384.2h0M356.7 281.3h0M383.6 237.4h0M448.3 214.1h0M221.0 432.4h0M341.4 295.6h0M492.5 152.8h0M263.1 395.1h0M195.3 458.0h0M283.1 370.3h0M412.6 225.6h0M478.9 179.4h0M284.1 379.0h0" stroke="#6c6c6c"/>
<path d="M394.7 227.8h0M419.5 212.4h0M400.4 251.2h0M254.3 393.7h0M224.5 424.7h0M405.7 245.1h0M465.1 172.2h0M416.4 244.9h0M359.5 302.7h0M244.9 399.5h0M247.7 399.5h0M426.9 232.9h0M204.1 452.8h0M479.6 156.0h0M456.8 164.6h0M240.5 410.2h0M223.3 417.1h0M420.8 211.7h0M404.5 245.6h0M343.9 310.7h0M468.8 161.4h0M448.8 184.0h0M224.1 417.5h0M252.8 396.6h0M241.8 406.0h0M225.1 425.8h0M482.1 154.0h0M457.8 172.5h0M521.4 140.3h0M249.5 392.9h0M245.6 402.4h0M434.1 205.1h0M333.2 325.2h0M251.8 388.3h0M284.9 378.1h0M392.0 234.0h0M357.9 304.5h0M491.3 146.2h0M223.0 433.5h0M463.4 165.6h0M416.3 216.5h0M410.5 226.6h0M244.5 408.6h0M466.4 150.5h0M222.3 424.2h0M489.4 148.7h0M349.9 303.7h0M224.5 422.3h0M459.8 172.8h0M421.9 211.2h0M448.7 208.3h0M256.5 392.3h0M292.4 352.3h0M399.0 251.5h0M493.3 152.2h0M330.1 333.5h0M261.4 387.9h0M358.9 303.6h0M234.1 410.6h0M486.1 155.4h0M424.4 235.9h0M458.6 204.0h0M437.0 192.0h0M239.5 407.7h0M245.9 396.7h0M411.9 210.6h0M228.5 425.8h0M236.8 413.4h0M499.2 142.7h0M449.5 181.5h0M457.7 204.4h0M389.8 262.2h0M503.3 132.9h0M225.5 426.2h0M445.1 192.6h0M258.2 391.8h0M459.9 183.7h0M235.9 419.3h0M412.2 210.6h0M465.3 175.3h0M424.1 202.4h0M454.3 169.0h0M478.4 169.4h0M402.3 224.1h0M498.8 145.4h0M238.9 415.6h0M408.4 214.0h0M459.1 193.4h0M229.0 412.2h0M245.8 406.3h0" stroke="#606060"/>
<path d="M502.0 136.3h0M478.7 181.7h0M247.7 389.3h0M507.7 142.8h0M247.6 389.5h0M263.2 382.4h0M440.7 213.3h0M411.2 212.5h0M415.3 217.8h0M443.5 173.8h0M276.3 366.2h0M473.0 168.5h0M484.5 173.7h0M245.1 403.3h0M250.2 389.8h0M437.6 197.5h0M452.9 187.3h0M224.4 418.8h0M486.5 168.6h0M266.2 383.6h0M236.7 416.8h0M444.7 173.1h0M469.5 160.7h0M246.9 403.9h0M466.8 167.7h0M436.6 198.5h0M248.2 394.9h0M268.6 378.4h0M254.2 389.3h0M238.3 401.4h0M453.4 170.8h0M234.9 406.9h0M263.2 388.2h0M234.3 418.3h0M464.2 164.6h0M247.2 404.2h0M429.7 201.5h0M248.9 391.4h0M452.4 184.5h0M518.1 134.1h0M190.0 461.2h0M520.7 99.9h0M449.4 171.0h0M237.9 399.0h0M248.2 403.4h0M475.7 156.7h0M222.6 420.1h0M453.8 185.4h0M459.4 167.9h0M225.0 416.4h0M454.0 186.7h0M430.3 228.9h0M478.2 141.4h0M458.8 164.7h0M474.7 185.4h0M247.5 397.8h0M517.3 138.1h0M266.3 378.1h0M460.6 194.6h0M408.5 212.3h0M439.9 213.8h0M472.0 149.5h0M468.5 147.5h0M260.5 384.2h0M484.0 167.9h0M271.1 369.3h0M482.5 145.0h0M492.0 133.8h0M466.2 182.5h0M241.0 414.2h0M450.5 169.8h0" stroke="#545454"/>
<path d="M450.8 210.6h0M427.7 236.3h0M267.3 377.7h0M493.5 131.8h0M253.7 392.9h0M247.5 391.7h0M440.8 210.5h0M265.3 374.7h0M419.5 204.3h0M431.2 199.8h0M268.9 380.5h0M474.0 150.0h0M292.8 352.1h0M269.2 379.5h0M500.8 115.9h0M465.0 199.0h0M474.0 149.0h0M480.1 161.2h0M251.2 402.4h0M477.9 145.4h0M253.3 391.2h0M258.5 389.1h0M272.0 367.2h0M450.8 176.0h0M431.6 189.8h0M446.7 189.2h0M498.3 147.6h0M272.8 375.9h0M491.8 160.6h0M483.4 166.5h0M526.4 124.8h0M259.7 381.1h0M486.8 165.2h0M244.5 397.7h0M245.9 396.4h0M448.4 177.8h0M462.4 163.7h0M280.9 360.8h0M255.9 388.9h0M478.5 147.7h0M483.3 175.5h0M246.2 399.4h0M437.4 183.9h0M229.2 415.3h0M496.6 132.0h0M276.9 360.9h0M500.5 124.9h0M257.3 385.5h0M477.8 148.3h0M410.9 211.3h0M509.9 134.1h0M477.6 183.8h0M463.0 198.0h0" stroke="#484848"/>
<path d="M504.2 121.4h0M539.7 108.4h0M457.6 161.2h0M265.0 378.2h0M553.4 103.5h0M550.6 79.1h0M554.4 96.5h0M436.5 180.2h0M475.8 187.1h0M279.6 369.5h0M478.3 152.5h0M501.4 152.4h0M482.3 131.2h0M431.2 197.1h0M531.0 98.0h0M251.4 387.6h0M257.3 388.3h0M475.0 156.1h0M503.5 138.0h0M243.6 393.1h0M464.5 166.2h0M440.6 183.2h0M483.4 136.6h0M519.6 137.9h0M449.7 178.1h0M272.7 374.3h0M462.4 156.5h0M279.9 359.9h0M467.0 158.6h0M522.1 138.9h0M251.4 389.3h0M457.1 161.0h0M563.3 96.1h0M264.7 381.6h0M574.1 84.5h0M506.4 140.4h0M565.2 93.7h0M257.8 391.3h0M468.8 156.9h0M450.5 180.6h0M504.4 137.1h0M386.3 271.7h0M481.7 138.8h0M252.6 391.6h0M260.0 382.9h0M444.3 177.8h0M292.9 354.9h0M497.1 132.9h0M273.9 375.3h0M428.7 190.9h0M313.2 349.3h0M277.9 371.4h0M480.1 169.1h0M272.4 366.0h0M496.1 134.9h0M430.0 232.1h0M453.6 174.9h0M499.0 134.4h0M258.9 392.1h0M252.3 397.6h0M530.0 100.6h0" stroke="#3c3c3c"/>
<path d="M553.6 75.0h0M263.2 380.2h0M474.1 180.5h0M512.7 109.8h0M295.6 350.5h0M484.5 141.5h0M275.2 369.9h0M289.6 365.3h0M516.8 101.5h0M512.3 111.1h0M520.7 134.9h0M468.3 190.5h0M561.9 93.0h0M263.1 379.8h0M535.9 105.5h0M269.3 372.5h0M516.3 107.1h0M442.7 209.2h0M280.2 364.4h0M256.0 388.4h0M271.8 376.5h0M574.0 83.0h0M389.8 228.1h0M548.1 83.2h0M252.2 390.1h0M511.3 132.1h0M273.2 375.7h0M468.0 163.2h0M376.1 269.1h0M376.2 250.9h0M534.9 96.1h0M391.6 234.6h0M504.9 125.5h0M277.0 373.9h0M260.7 384.7h0M575.2 82.7h0M531.5 96.7h0M270.5 373.7h0M286.9 363.2h0M261.6 381.7h0M255.4 383.0h0M484.4 142.5h0M443.3 208.3h0M524.2 103.0h0M470.0 146.8h0" stroke="#303030"/>
<path d="M462.7 194.4h0M562.7 96.9h0M575.0 52.9h0M414.7 223.2h0M535.5 84.0h0M365.5 260.8h0M523.9 131.0h0M409.2 224.6h0M448.3 202.8h0M529.1 110.5h0M418.1 201.6h0M314.7 346.2h0M412.1 237.9h0M393.6 249.1h0M513.1 120.7h0M335.9 278.5h0M411.2 217.9h0M534.5 113.9h0M439.1 185.8h0M515.5 111.4h0M514.5 107.1h0M531.7 118.8h0M343.1 319.2h0M349.7 301.1h0M286.0 341.8h0M289.6 381.6h0M371.1 265.3h0M388.7 228.9h0M390.4 265.0h0M303.1 345.3h0M329.1 319.2h0M499.1 128.0h0M411.3 216.3h0M273.5 372.1h0M537.0 93.5h0M400.9 234.0h0M515.2 103.2h0M561.4 87.9h0M305.2 346.9h0M524.2 101.7h0M342.0 315.4h0M560.0 87.4h0M290.4 355.0h0M544.0 80.6h0M294.7 364.5h0M450.5 180.7h0M427.5 233.0h0M454.4 171.5h0M521.9 132.8h0M583.7 72.9h0M374.5 280.8h0M437.4 224.3h0M508.5 130.3h0M542.1 117.5h0M562.2 61.5h0M389.3 239.3h0M277.3 382.2h0M450.5 200.2h0M542.2 117.3h0M540.0 111.1h0M569.3 93.5h0M501.5 107.5h0M518.6 137.0h0M523.1 117.4h0M417.0 228.4h0" stroke="#242424"/>
<path d="M518.4 144.8h0M282.2 360.4h0M458.1 192.4h0M334.5 297.2h0M508.4 103.1h0M480.3 176.8h0M509.5 145.5h0M509.0 149.9h0M516.8 143.8h0M547.9 82.0h0M480.9 170.9h0M473.1 150.3h0M508.0 129.1h0M457.4 194.5h0M269.7 381.1h0M474.5 157.1h0M517.3 123.8h0M399.7 251.8h0M533.8 116.3h0M497.9 152.8h0M364.8 261.7h0M514.1 119.8h0M507.7 132.4h0M553.8 103.7h0M496.5 118.8h0M484.0 134.8h0M503.6 117.9h0M348.7 299.1h0M307.5 339.6h0M515.0 122.3h0M505.7 153.0h0M541.6 93.6h0M433.3 183.6h0M455.9 198.3h0M491.7 135.1h0M332.3 329.1h0M499.4 120.8h0M568.2 92.2h0M487.3 172.0h0M453.7 171.1h0M558.8 68.6h0M496.4 157.5h0M456.5 205.4h0M439.8 222.8h0M292.3 351.6h0M485.8 150.4h0M534.0 118.8h0M520.6 135.4h0M469.9 187.6h0M452.2 205.0h0M412.1 226.1h0M529.4 135.8h0M419.9 231.7h0M575.0 71.0h0M504.5 117.6h0M549.8 79.1h0M500.7 113.9h0M288.3 358.1h0M457.8 196.8h0M314.3 328.3h0M520.5 142.9h0M282.5 379.4h0M486.2 166.6h0M442.3 186.1h0M370.0 267.7h0M262.2 376.3h0M288.7 371.0h0M274.4 371.2h0M266.5 373.3h0M594.8 63.5h0M577.0 70.1h0M561.3 101.1h0M516.5 114.6h0M510.2 149.2h0M581.7 79.2h0M515.2 146.0h0M498.3 153.7h0M471.7 188.9h0M483.1 162.8h0M432.0 186.4h0M521.1 101.9h0M493.1 161.0h0M498.8 161.6h0M442.5 194.5h0M516.5 116.8h0M455.7 196.1h0M515.7 117.3h0M297.1 349.7h0M506.4 144.4h0M554.9 98.2h0M533.6 85.7h0M453.1 199.3h0M558.0 66.6h0M510.2 146.3h0M479.7 143.0h0M276.4 372.2h0M506.2 125.1h0M504.4 149.4h0M438.4 223.7h0M512.9 139.4h0M325.0 337.3h0M595.4 54.4h0M580.2 79.9h0M262.0 375.2h0M471.6 184.9h0M477.8 176.9h0M514.4 94.8h0M284.6 356.1h0M454.3 197.4h0M480.9 151.0h0M458.3 197.9h0M509.6 150.3h0M289.3 353.7h0M470.7 183.4h0M501.9 123.2h0M413.2 219.3h0M531.3 132.2h0M286.5 357.7h0M464.9 190.0h0M434.7 201.1h0M572.9 86.8h0M585.4 76.3h0M519.7 109.6h0M519.6 106.0h0M443.2 208.1h0M551.1 73.8h0M506.1 111.3h0M411.0 213.5h0M363.9 292.6h0M503.1 121.6h0M294.8 354.4h0M434.2 200.5h0M451.3 202.2h0M509.0 138.0h0M450.0 201.4h0M436.1 225.2h0M565.4 89.2h0M405.4 224.5h0M478.0 140.2h0M383.8 241.1h0M437.5 187.7h0M454.8 201.1h0M560.5 65.6h0M464.3 190.0h0M456.6 196.1h0M399.6 252.1h0M454.0 205.6h0M582.0 62.8h0M275.1 363.9h0M499.9 108.2h0M479.7 148.4h0M466.9 164.9h0M590.8 61.6h0M375.2 278.1h0M514.9 145.3h0" stroke="#181818"/>
<path d="M560.3 66.8h0M536.2 92.1h0M537.6 91.8h0M527.3 88.6h0M539.7 89.5h0M512.1 117.0h0M555.5 73.4h0M490.0 136.8h0M319.3 330.4h0M432.0 202.2h0M539.8 108.4h0M453.6 199.1h0M431.5 200.0h0M574.7 55.0h0M539.1 86.3h0M530.4 125.0h0M522.4 121.9h0M408.7 221.4h0M479.3 177.1h0M435.3 193.3h0M515.6 136.8h0M506.2 149.2h0M528.6 132.8h0M532.2 102.3h0M281.3 369.7h0M540.7 97.9h0M547.3 74.9h0M591.4 58.0h0M576.7 68.9h0M520.7 111.6h0M414.7 209.2h0M547.7 81.7h0M259.9 379.3h0M507.0 113.6h0M593.9 55.8h0M526.0 99.6h0M555.3 78.4h0M501.0 109.6h0M498.6 148.7h0M557.7 92.6h0M399.5 225.6h0M522.1 131.4h0M495.3 120.6h0M522.8 130.8h0M566.2 93.3h0M437.3 218.1h0M453.2 198.5h0M587.2 61.2h0M569.4 86.1h0M525.3 100.8h0M553.2 102.1h0M491.3 140.0h0M539.7 96.8h0M437.6 194.8h0M471.8 143.6h0M489.5 143.2h0M532.9 102.0h0M532.9 130.3h0M499.3 140.0h0M287.1 361.2h0M551.7 102.5h0M530.8 124.5h0M283.5 359.4h0M540.9 89.6h0M463.7 182.8h0M569.6 81.0h0M487.6 165.1h0M521.4 101.5h0M596.8 58.6h0M510.9 97.2h0M514.2 136.3h0M552.1 84.1h0M590.3 68.0h0M264.6 374.9h0M291.6 350.8h0M515.5 142.6h0M520.2 134.3h0M598.0 58.8h0M582.6 56.4h0M581.2 76.6h0M327.0 328.1h0M517.9 137.4h0M520.4 125.2h0M424.4 208.4h0M318.8 341.9h0M511.2 137.0h0M443.1 195.3h0M571.4 79.2h0M489.8 135.1h0M504.1 127.6h0M539.4 85.4h0M437.8 192.5h0M542.8 84.5h0M309.9 348.9h0M572.8 56.3h0M533.7 121.3h0M486.8 139.5h0M471.9 150.8h0M449.8 181.9h0M460.0 192.5h0M541.2 94.6h0M332.2 326.9h0M494.1 113.9h0M509.4 130.2h0M524.8 108.2h0M501.3 128.0h0M578.1 67.1h0M436.3 218.8h0M310.9 342.0h0M536.0 131.0h0M536.6 90.8h0M560.3 87.4h0M580.3 51.1h0M295.5 348.1h0M585.7 62.6h0M306.0 345.9h0M508.6 144.4h0M572.7 91.1h0M581.8 49.0h0M495.5 114.5h0M443.3 214.3h0M567.6 93.5h0M566.6 96.7h0M545.7 104.4h0M574.8 76.9h0M441.8 193.3h0M577.8 87.1h0M544.0 118.4h0M491.4 159.0h0M313.3 340.0h0M489.4 152.6h0M511.5 111.6h0M550.4 106.5h0M319.5 338.8h0M549.0 73.6h0M261.5 384.5h0M585.7 63.7h0M575.5 74.1h0M544.1 85.9h0M518.0 125.5h0M570.4 87.1h0M312.7 343.6h0M562.4 94.2h0M299.6 347.0h0M498.5 157.7h0M533.3 90.6h0M496.5 125.8h0M513.5 124.2h0M557.0 67.8h0M545.2 110.8h0M437.0 218.2h0M468.2 187.4h0M494.6 136.0h0M533.6 115.2h0M452.7 199.5h0M501.9 120.7h0M586.7 65.5h0M543.8 113.9h0M586.6 71.9h0M505.9 134.4h0M520.9 139.6h0M543.8 112.7h0M523.0 139.5h0M544.6 77.5h0M553.6 70.1h0M278.1 367.7h0M589.1 64.9h0M501.0 139.4h0M366.0 257.6h0M522.4 123.3h0M292.6 353.6h0M518.8 113.6h0M395.4 247.8h0M529.0 99.0h0M490.3 159.9h0M520.4 133.8h0M484.3 139.8h0M593.6 49.8h0M507.1 139.7h0M493.9 143.4h0M432.1 197.1h0M534.3 93.4h0M595.2 65.2h0M482.0 174.4h0M523.1 136.3h0M530.4 127.8h0M537.8 119.3h0M553.0 100.0h0M507.7 146.7h0M563.9 85.6h0M509.5 146.8h0M320.5 338.1h0M568.1 81.6h0M575.6 80.8h0M558.4 104.0h0M514.7 121.0h0M498.5 139.6h0M528.5 132.1h0M510.0 135.3h0M563.2 90.9h0M550.7 74.0h0M507.7 118.4h0M547.1 88.6h0M549.4 106.6h0M591.4 54.3h0M523.8 131.5h0M542.3 79.4h0M544.7 112.6h0M435.6 214.4h0M496.4 109.5h0M568.9 76.0h0M565.6 99.0h0M594.0 67.2h0M474.9 141.7h0M528.0 95.6h0M560.1 70.1h0M353.1 266.9h0M545.6 78.3h0M557.5 104.6h0M498.1 148.1h0M515.2 128.5h0M575.0 88.1h0M452.5 207.7h0M502.3 158.7h0M437.7 216.0h0M520.2 106.9h0M286.1 358.0h0M394.7 248.8h0M525.1 115.5h0M494.8 137.1h0M417.9 232.3h0M304.5 343.2h0M546.7 84.1h0M589.7 56.3h0M489.1 168.3h0M262.2 382.6h0M599.9 52.2h0M516.8 135.0h0M504.2 127.7h0M596.9 55.1h0M545.8 102.8h0M305.8 349.9h0M544.9 103.6h0M512.2 124.0h0M508.5 117.8h0M502.2 127.8h0M316.2 342.3h0M495.5 143.5h0M294.4 351.4h0M452.5 202.5h0M467.5 188.7h0M593.9 55.2h0M491.3 139.5h0M486.0 132.0h0M457.8 179.9h0M496.1 136.5h0M549.2 108.2h0M499.3 106.8h0M561.3 97.8h0M552.5 111.2h0M467.0 186.0h0M569.5 57.5h0M265.3 377.6h0M543.2 81.5h0M298.5 348.6h0M582.0 72.4h0M577.4 85.3h0M272.1 377.8h0M453.4 206.9h0M530.9 131.9h0M552.3 107.4h0M266.0 380.4h0M556.8 103.1h0M533.8 102.9h0M584.7 67.4h0M550.7 86.1h0M432.7 221.3h0M464.6 189.3h0M499.5 130.0h0M514.5 115.1h0M502.1 118.0h0M278.5 373.6h0M503.0 134.7h0M586.5 77.0h0M505.4 155.6h0M530.2 131.5h0M465.0 193.3h0M507.7 98.8h0M301.1 335.4h0M516.0 114.4h0M539.6 95.0h0M519.6 127.7h0M449.9 201.2h0M596.3 65.0h0M486.4 167.0h0M496.9 153.6h0M507.1 118.9h0M489.4 135.7h0M530.3 95.0h0M581.5 80.4h0M275.9 370.8h0M487.6 131.2h0M503.1 150.2h0M549.2 82.3h0M586.7 64.5h0M453.4 201.7h0M568.1 63.4h0M509.0 152.5h0M584.0 73.3h0M484.0 165.3h0M507.9 124.5h0M515.6 117.5h0M554.2 99.5h0M587.5 69.2h0M552.5 77.2h0M540.1 100.6h0M517.7 112.9h0M493.7 144.3h0M499.9 134.1h0M527.3 120.9h0M541.6 111.6h0M496.1 157.3h0M430.6 200.9h0M581.0 50.0h0M521.7 100.7h0M525.8 102.9h0M529.0 95.8h0M385.2 274.4h0M491.2 129.7h0M589.9 62.4h0M415.1 208.0h0M582.6 78.2h0M596.8 63.6h0" stroke="#0c0c0c"/>
<path d="M530.5 107.3h0M591.9 67.8h0M316.9 345.6h0M510.1 138.6h0M593.1 55.5h0M476.1 175.8h0M537.8 120.7h0M271.9 371.0h0M528.5 123.0h0M496.2 136.7h0M299.5 344.5h0M533.4 100.1h0M276.2 362.7h0M538.3 94.1h0M279.8 365.7h0M529.5 108.0h0M536.4 118.1h0M494.3 116.9h0M517.6 111.0h0M540.6 82.5h0M595.0 50.9h0M541.2 114.4h0M543.2 73.5h0M521.3 111.4h0M472.6 183.6h0M487.0 163.0h0M584.7 77.9h0M564.6 98.4h0M330.7 332.6h0M300.0 345.8h0M496.4 137.8h0M476.6 180.4h0M537.6 90.9h0M400.9 235.9h0M582.2 82.4h0M550.0 85.4h0M525.1 97.0h0M517.0 125.6h0M511.7 112.1h0M513.1 134.1h0M475.4 175.2h0M347.7 300.3h0M518.5 115.5h0M587.7 73.8h0M519.4 139.4h0M560.7 96.9h0M466.0 184.3h0M428.5 197.4h0M451.4 191.3h0M538.9 80.9h0M322.5 334.8h0M309.3 345.5h0M281.6 358.1h0M499.1 129.9h0M494.8 137.2h0M527.6 134.6h0M505.5 129.1h0M525.1 130.8h0M503.9 146.3h0M522.2 134.2h0M541.8 117.4h0M571.6 87.2h0M525.8 125.5h0M571.3 81.0h0M570.0 86.5h0M488.1 153.2h0M508.2 126.1h0M519.2 138.4h0M508.7 111.3h0M496.7 135.5h0M502.8 127.3h0M488.3 143.9h0M517.1 120.3h0M521.9 120.4h0M491.5 157.2h0M486.0 172.0h0M349.8 298.3h0M511.6 137.6h0M529.6 109.7h0M530.7 107.5h0M511.1 131.8h0M487.5 125.5h0M313.9 321.9h0M560.0 67.8h0M503.8 140.5h0M561.4 90.9h0M290.3 350.8h0M290.8 353.2h0M526.9 128.7h0M495.2 164.1h0M536.8 118.9h0M525.8 130.6h0M518.8 107.3h0M332.0 328.6h0M589.7 56.9h0M509.7 141.7h0M527.6 94.2h0M429.5 201.4h0M545.5 105.8h0M483.3 167.9h0M552.2 96.7h0M500.7 124.5h0M522.6 136.6h0M569.3 78.4h0M261.8 378.4h0M480.0 136.7h0M286.5 377.0h0M512.9 125.1h0M537.3 98.3h0M495.7 135.2h0M598.3 55.0h0M544.4 105.7h0M442.5 222.0h0M321.4 334.1h0M553.8 79.5h0M529.6 113.5h0M580.1 74.0h0M590.4 54.2h0M285.5 354.9h0M581.1 73.1h0M526.6 94.9h0M555.1 105.7h0M420.0 203.8h0M548.2 87.3h0M464.9 184.4h0M516.6 110.3h0M467.0 181.1h0M495.6 134.4h0M477.2 176.5h0M530.7 104.1h0M536.3 118.1h0M554.9 75.7h0M485.5 132.8h0M331.4 331.3h0M598.8 58.7h0M513.7 136.4h0M492.2 137.4h0M456.9 193.2h0M518.2 113.4h0M487.8 155.9h0M523.7 114.6h0M516.3 116.6h0M535.1 103.7h0M548.6 81.3h0M536.5 99.7h0M590.7 59.2h0M489.9 127.7h0M281.0 367.6h0M463.7 189.1h0M505.2 126.7h0M575.4 55.4h0M281.7 358.1h0M534.7 120.7h0M485.1 164.8h0M577.3 76.1h0M569.5 57.6h0M346.9 286.9h0M518.0 112.6h0M599.4 53.6h0M583.8 60.9h0M484.9 140.4h0M501.2 128.1h0M563.9 91.9h0M555.7 94.2h0M549.8 110.2h0M531.6 100.3h0M446.9 199.3h0M317.7 331.0h0M537.5 123.9h0M287.8 375.8h0M325.4 330.6h0M528.4 112.9h0M282.8 366.8h0M541.2 97.4h0M282.5 366.8h0M508.1 125.2h0M527.8 98.0h0M524.1 129.2h0M587.1 54.7h0M530.0 132.8h0M317.1 340.5h0M547.3 81.2h0M539.1 83.2h0M586.3 62.7h0M508.8 143.5h0M601.9 48.1h0M514.4 114.8h0M532.6 126.4h0M546.2 87.6h0M441.2 212.3h0M545.1 116.4h0M572.0 92.8h0M595.3 66.0h0M514.0 122.3h0M537.3 125.4h0M298.3 350.1h0M563.6 90.4h0M512.2 150.0h0M471.2 187.9h0M518.6 140.8h0M255.8 384.3h0M542.6 106.9h0M287.9 356.7h0M523.0 105.6h0M495.0 138.4h0M516.6 136.4h0M508.4 138.1h0M597.9 59.3h0M520.8 125.3h0M433.5 196.9h0M525.2 126.9h0M315.9 342.7h0M540.8 95.9h0M477.5 184.4h0M521.1 139.0h0M454.5 205.8h0M297.3 349.4h0M496.8 114.6h0M525.5 127.8h0M556.1 102.2h0M557.6 71.1h0M552.2 101.1h0M311.6 346.2h0M422.5 211.4h0M585.3 65.0h0M583.2 62.0h0M478.5 139.5h0M281.0 361.1h0M321.6 329.3h0M586.1 60.3h0M530.0 102.9h0M571.6 79.3h0M510.4 130.0h0M585.8 59.4h0M546.8 85.0h0M359.1 285.3h0M529.3 121.5h0M488.5 169.6h0M585.3 67.2h0M572.6 78.2h0M429.1 225.2h0M316.8 343.3h0M560.3 67.4h0M528.1 128.5h0M535.5 98.0h0M525.9 123.6h0M510.4 150.8h0M535.7 98.6h0M485.2 156.2h0M542.7 116.9h0M578.4 70.3h0M510.9 112.5h0M328.6 329.5h0M452.2 201.8h0M599.0 58.2h0M502.7 131.3h0M580.9 78.7h0M516.2 124.3h0M274.0 377.4h0M311.4 349.7h0M304.0 342.4h0M506.2 142.4h0M538.5 88.7h0M519.7 137.6h0M270.5 377.3h0M445.6 197.2h0M519.6 106.6h0M541.8 114.1h0M327.6 327.5h0M315.9 338.4h0M511.0 136.3h0M276.4 363.9h0M540.2 87.5h0M570.8 85.1h0M412.4 239.2h0M539.1 82.0h0M522.1 99.2h0M459.1 199.5h0M448.3 196.9h0M285.8 353.8h0M491.6 165.3h0M542.8 91.2h0M588.5 63.9h0M498.2 144.7h0M478.7 157.4h0M472.2 149.3h0M541.1 93.5h0M541.0 86.7h0M451.9 210.1h0M275.6 370.3h0M291.9 355.7h0M547.6 82.8h0M311.8 343.1h0M568.9 88.9h0M503.6 127.1h0M578.4 81.6h0M521.7 119.8h0M431.8 226.4h0M496.5 152.9h0M440.4 194.9h0M279.0 371.7h0M527.3 115.0h0M544.8 87.1h0M316.7 338.1h0M290.3 379.5h0M520.7 121.4h0M566.3 60.7h0M521.4 131.8h0M549.2 80.1h0M519.5 101.7h0M527.3 104.0h0M514.8 144.6h0M575.9 87.2h0M533.2 133.6h0M585.4 75.4h0M431.4 209.7h0M538.0 76.6h0M308.4 356.1h0M576.5 72.7h0M547.0 80.4h0M463.6 186.6h0M559.4 75.8h0M316.7 339.2h0M591.3 66.2h0M497.2 158.2h0M302.3 353.3h0M555.8 92.9h0M537.6 85.5h0M498.6 158.3h0M452.9 205.0h0M576.1 54.4h0M507.3 144.2h0M522.8 100.1h0M397.5 239.6h0M497.6 108.7h0M518.6 140.0h0M519.6 135.2h0M289.6 373.3h0M486.1 155.4h0M504.1 152.9h0M584.5 76.5h0M596.3 58.1h0M534.4 98.9h0M279.3 382.8h0M460.1 195.1h0M500.0 154.0h0M578.1 80.0h0" stroke="#000000"/></g>
<rect x="66.4" y="28" width="1.6" height="611" fill="#9a9a9a"/>
<rect x="66.4" y="638.1" width="612.6" height="1.5" fill="#a6a6a6"/>
<path d="M189.5 638V632.5M311.5 638V632.5M434.5 638V632.5M556.5 638V632.5M678.5 638V632.5M68 28.5H73.5M68 104.5H73.5M68 180.5H73.5M68 257.5H73.5M68 333.5H73.5M68 409.5H73.5M68 486.5H73.5M68 562.5H73.5" stroke="#7a7a7a" stroke-width="1" fill="none"/>
<text transform="translate(59.3,34.5) scale(0.9,1)" font-size="19" fill="#262626" text-anchor="end">1.8</text>
<text transform="translate(59.3,110.5) scale(0.9,1)" font-size="19" fill="#262626" text-anchor="end">1.6</text>
<text transform="translate(59.3,186.5) scale(0.9,1)" font-size="19" fill="#262626" text-anchor="end">1.4</text>
<text transform="translate(59.3,263.5) scale(0.9,1)" font-size="19" fill="#262626" text-anchor="end">1.2</text>
<text transform="translate(59.3,339.5) scale(0.9,1)" font-size="19" fill="#262626" text-anchor="end">1</text>
<text transform="translate(59.3,415.5) scale(0.9,1)" font-size="19" fill="#262626" text-anchor="end">0.8</text>
<text transform="translate(59.3,492.5) scale(0.9,1)" font-size="19" fill="#262626" text-anchor="end">0.6</text>
<text transform="translate(59.3,568.5) scale(0.9,1)" font-size="19" fill="#262626" text-anchor="end">0.4</text>
<text transform="translate(59.3,644.5) scale(0.9,1)" font-size="19" fill="#262626" text-anchor="end">0.2</text>
<text transform="translate(67.7,664.4) scale(0.9,1)" font-size="19" fill="#262626" text-anchor="middle">0.5</text>
<text transform="translate(189.7,664.4) scale(0.9,1)" font-size="19" fill="#262626" text-anchor="middle">1</text>
<text transform="translate(311.7,664.4) scale(0.9,1)" font-size="19" fill="#262626" text-anchor="middle">1.5</text>
<text transform="translate(434.7,664.4) scale(0.9,1)" font-size="19" fill="#262626" text-anchor="middle">2</text>
<text transform="translate(556.7,664.4) scale(0.9,1)" font-size="19" fill="#262626" text-anchor="middle">2.5</text>
<text transform="translate(678.7,664.4) scale(0.9,1)" font-size="19" fill="#262626" text-anchor="middle">3</text>
<text x="172.8" y="692.6" font-size="19.3" fill="#262626" textLength="400.7" lengthAdjust="spacingAndGlyphs">p-h improvement to Health Facilities (MSN)</text>
<text transform="translate(17.1,531.4) rotate(-90)" x="0" y="0" font-size="19.3" fill="#262626" textLength="394.4" lengthAdjust="spacingAndGlyphs">p-h improvement to Health Facilities (DRY)</text>
<text x="67.6" y="23.3" font-size="21" fill="#262626">×</text>
<text x="83.2" y="21.3" font-size="18.7" fill="#262626" textLength="18.1" lengthAdjust="spacingAndGlyphs">10</text>
<text x="103.2" y="11.1" font-size="13.5" fill="#262626">5</text>
<text x="635.4" y="699.2" font-size="21" fill="#262626">×</text>
<text x="649.8" y="696.5" font-size="18.7" fill="#262626" textLength="19.9" lengthAdjust="spacingAndGlyphs">10</text>
<text x="670.7" y="686.5" font-size="13.5" fill="#262626">5</text>
<path d="M162 526.6H177.7M169.9 519V534.5" stroke="#000" stroke-width="3.3" fill="none"/>
<circle cx="598.6" cy="39.3" r="5.45" fill="#c80000" stroke="#fff" stroke-width="1.7"/><circle cx="604.7" cy="40.6" r="5.35" fill="#c80000" stroke="#fff" stroke-width="1.7"/><circle cx="606.6" cy="48.8" r="5.45" fill="#c80000" stroke="#fff" stroke-width="1.7"/><circle cx="602" cy="42" r="2.45" fill="#c80000" stroke="#fff" stroke-width="1.3"/><circle cx="604.2" cy="46.6" r="2.55" fill="#c80000" stroke="#fff" stroke-width="1.3"/><circle cx="552.8" cy="108.2" r="2.45" fill="#ff8000" stroke="#fff" stroke-width="1.3"/><circle cx="554.6" cy="102.4" r="5.15" fill="#ff8000" stroke="#fff" stroke-width="1.7"/><circle cx="550" cy="97.4" r="5.60" fill="#ff8000" stroke="#fff" stroke-width="1.6"/><circle cx="548.8" cy="107.3" r="2.65" fill="#ff8000" stroke="#fff" stroke-width="1.3"/><circle cx="482.5" cy="158" r="5.45" fill="#00c800" stroke="#fff" stroke-width="1.7"/><circle cx="488.9" cy="163.2" r="5.45" fill="#00c800" stroke="#fff" stroke-width="1.7"/><circle cx="489.5" cy="174.9" r="5.45" fill="#00c800" stroke="#fff" stroke-width="1.7"/><circle cx="480.2" cy="165.4" r="2.35" fill="#00c800" stroke="#fff" stroke-width="1.3"/><circle cx="480.2" cy="161.4" r="2.35" fill="#00c800" stroke="#fff" stroke-width="1.3"/><circle cx="484.4" cy="165.9" r="2.45" fill="#00c800" stroke="#fff" stroke-width="1.3"/><path d="M395.9 234.2L409.4 235" stroke="#0000ff" stroke-width="1.4"/><circle cx="408.5" cy="229.5" r="5.35" fill="#0000ff" stroke="#fff" stroke-width="1.3"/><circle cx="415.5" cy="231" r="5.35" fill="#0000ff" stroke="#fff" stroke-width="1.3"/><circle cx="418.8" cy="238.5" r="5.25" fill="#0000ff" stroke="#fff" stroke-width="1.3"/><circle cx="390.5" cy="233.2" r="2.65" fill="#0000ff" stroke="#fff" stroke-width="1.3"/><circle cx="393.9" cy="234" r="2.75" fill="#0000ff" stroke="#fff" stroke-width="1.3"/><circle cx="412" cy="235.1" r="2.65" fill="#0000ff" stroke="#fff" stroke-width="1.3"/><circle cx="416.7" cy="241.3" r="2.85" fill="#0000ff" stroke="#fff" stroke-width="1.3"/>
<text x="513.2" y="40.8" font-size="18.3" font-weight="bold" fill="#c80000" textLength="75.3" lengthAdjust="spacingAndGlyphs">13B NPR</text>
<text x="451.6" y="88.8" font-size="18.3" font-weight="bold" fill="#ff8000" textLength="74" lengthAdjust="spacingAndGlyphs">11B NPR</text>
<text x="394" y="155.5" font-size="18.3" font-weight="bold" fill="#00c800" textLength="65.5" lengthAdjust="spacingAndGlyphs">9B NPR</text>
<text x="323.3" y="227.5" font-size="18.3" font-weight="bold" fill="#0000ff" textLength="64.8" lengthAdjust="spacingAndGlyphs">7B NPR</text>
<rect x="480" y="387" width="196" height="188" fill="#fff"/><rect x="493.5" y="475.5" width="177.8" height="58.7" fill="#f0f0f0"/><defs><linearGradient id="cg" x1="0" x2="1" y1="0" y2="0"><stop offset="0" stop-color="#dcdcdc"/><stop offset="1" stop-color="#000"/></linearGradient></defs><rect x="497" y="458.2" width="170.8" height="11.6" fill="url(#cg)"/><path d="M493.2 416.8H671.3" stroke="#8a8a8a" stroke-width="1.2" stroke-dasharray="3.9 1.57" stroke-dashoffset="2.4" fill="none"/><path d="M493.2 475.5H671.3" stroke="#8a8a8a" stroke-width="1.2" stroke-dasharray="3.9 1.57" stroke-dashoffset="2.4" fill="none"/><path d="M493.2 534.3H671.3" stroke="#8a8a8a" stroke-width="1.2" stroke-dasharray="3.9 1.57" stroke-dashoffset="2.4" fill="none"/><path d="M480 431.8H490" stroke="#e2e2e2" stroke-width="1" fill="none"/><text x="605.5" y="411.8" font-size="15.8" font-weight="bold" fill="#000" textLength="64.2" lengthAdjust="spacingAndGlyphs">LEGEND</text><text x="526.2" y="432.5" font-size="15" fill="#262626" textLength="124.2" lengthAdjust="spacingAndGlyphs">heuristic solutions</text><circle cx="660" cy="428.5" r="1.3" fill="#000"/><text x="496.3" y="454.3" font-size="13.4" font-weight="bold" fill="#000">6</text><text x="520" y="454.4" font-size="14.5" fill="#262626" textLength="121.6" lengthAdjust="spacingAndGlyphs">Cost (billion NPR)</text><text x="653" y="454.5" font-size="13.4" font-weight="bold" fill="#000" textLength="15.1" lengthAdjust="spacingAndGlyphs">13</text><text x="568.8" y="490.8" font-size="14.3" font-weight="bold" font-style="italic" fill="#000" textLength="95.4" lengthAdjust="spacingAndGlyphs">Pareto fronts</text><text x="572.7" y="508.9" font-size="14" fill="#262626" textLength="59.3" lengthAdjust="spacingAndGlyphs">Heuristic</text><text x="504.8" y="528.1" font-size="14" fill="#262626" textLength="128" lengthAdjust="spacingAndGlyphs">Weighted-sum ILP</text><text x="554.5" y="550.3" font-size="14.1" fill="#262626" textLength="77.5" lengthAdjust="spacingAndGlyphs">Actual plan</text><text x="554.5" y="570.3" font-size="14.1" fill="#262626" textLength="70.3" lengthAdjust="spacingAndGlyphs">(13B NPR)</text><path d="M642 504.5H647.5M658.5 504.5H664" stroke="#000" stroke-width="1.3" fill="none"/><circle cx="654.5" cy="504.5" r="4.3" fill="#000" stroke="#fff" stroke-width="0.8"/><circle cx="654.5" cy="523.3" r="6.9" fill="#000" stroke="#fff" stroke-width="0.8"/><path d="M647 553.2H662.5M654.75 546V560.5" stroke="#000" stroke-width="3.5" fill="none"/>
</svg></body></html>
